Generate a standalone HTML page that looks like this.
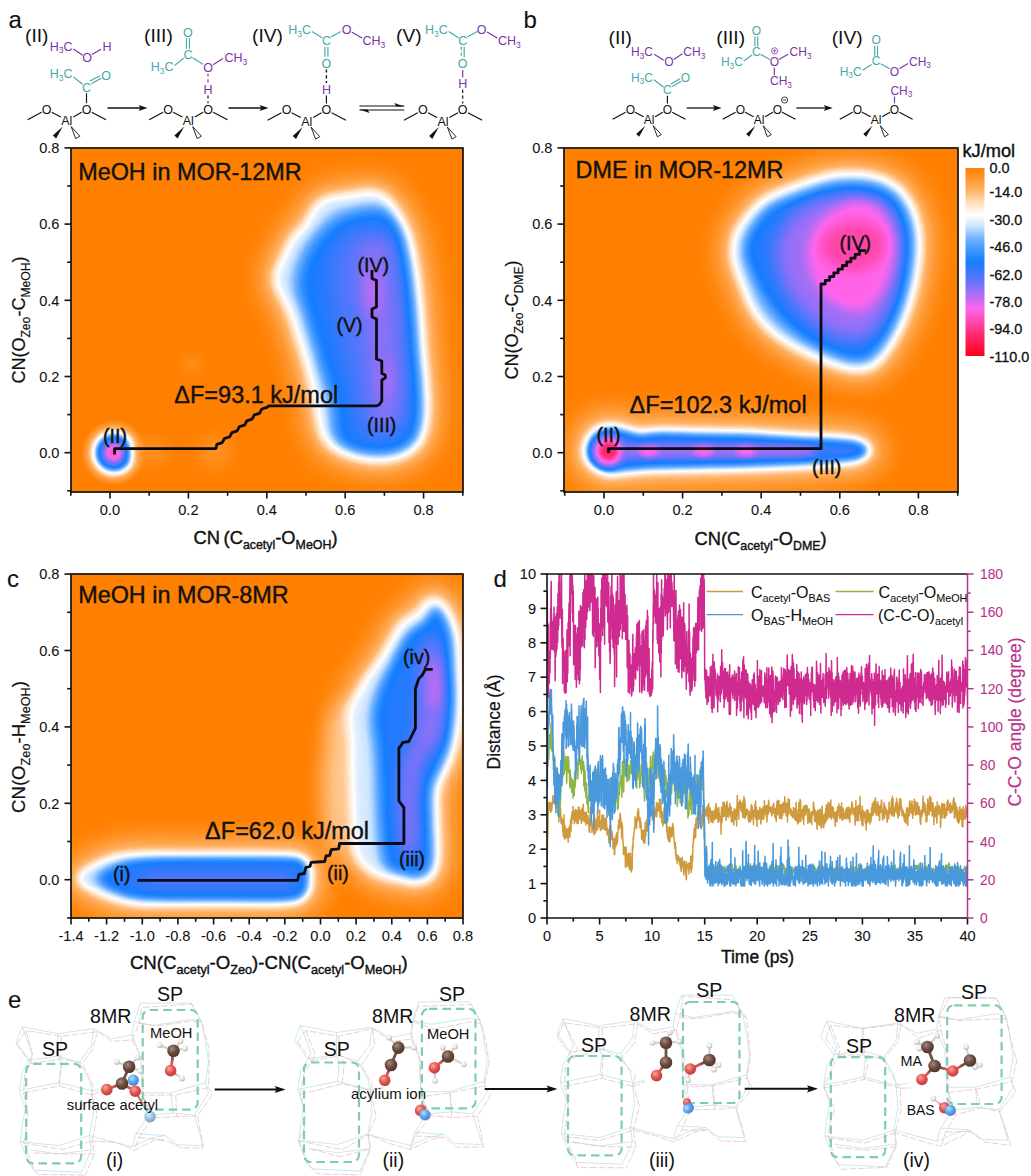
<!DOCTYPE html>
<html><head><meta charset="utf-8"><title>figure</title>
<style>
html,body{margin:0;padding:0;background:#fff;}
svg{display:block;}
text{font-family:"Liberation Sans",sans-serif;}
</style></head><body>
<svg width="1031" height="1176" viewBox="0 0 1031 1176">
<rect width="1031" height="1176" fill="#fff"/>
<defs>
<filter id="b2" x="-100%" y="-150%" width="300%" height="400%" color-interpolation-filters="sRGB"><feGaussianBlur stdDeviation="2"/></filter>
<filter id="b3" x="-100%" y="-150%" width="300%" height="400%" color-interpolation-filters="sRGB"><feGaussianBlur stdDeviation="3"/></filter>
<filter id="b4" x="-100%" y="-150%" width="300%" height="400%" color-interpolation-filters="sRGB"><feGaussianBlur stdDeviation="4"/></filter>
<filter id="b5" x="-100%" y="-150%" width="300%" height="400%" color-interpolation-filters="sRGB"><feGaussianBlur stdDeviation="5"/></filter>
<filter id="b6" x="-100%" y="-150%" width="300%" height="400%" color-interpolation-filters="sRGB"><feGaussianBlur stdDeviation="6"/></filter>
<filter id="b7" x="-100%" y="-150%" width="300%" height="400%" color-interpolation-filters="sRGB"><feGaussianBlur stdDeviation="7"/></filter>
<filter id="b8" x="-100%" y="-150%" width="300%" height="400%" color-interpolation-filters="sRGB"><feGaussianBlur stdDeviation="8"/></filter>
<filter id="b9" x="-100%" y="-150%" width="300%" height="400%" color-interpolation-filters="sRGB"><feGaussianBlur stdDeviation="9"/></filter>
<filter id="b10" x="-100%" y="-150%" width="300%" height="400%" color-interpolation-filters="sRGB"><feGaussianBlur stdDeviation="10"/></filter>
<filter id="b12" x="-100%" y="-150%" width="300%" height="400%" color-interpolation-filters="sRGB"><feGaussianBlur stdDeviation="12"/></filter>
<filter id="b14" x="-100%" y="-150%" width="300%" height="400%" color-interpolation-filters="sRGB"><feGaussianBlur stdDeviation="14"/></filter>
<filter id="b18" x="-100%" y="-150%" width="300%" height="400%" color-interpolation-filters="sRGB"><feGaussianBlur stdDeviation="18"/></filter>
<filter id="cmap" x="0" y="0" width="100%" height="100%" color-interpolation-filters="sRGB">
<feComponentTransfer>
<feFuncR type="table" tableValues="1.000 1.000 1.000 1.000 1.000 0.784 0.451 0.243 0.078 0.275 0.471 0.737 1.000 1.000 1.000 1.000 1.000"/>
<feFuncG type="table" tableValues="0.502 0.604 0.706 0.886 1.000 0.886 0.706 0.588 0.490 0.471 0.451 0.424 0.400 0.290 0.180 0.090 0.000"/>
<feFuncB type="table" tableValues="0.000 0.204 0.412 0.765 1.000 1.000 1.000 1.000 1.000 0.988 0.980 0.957 0.929 0.698 0.471 0.294 0.118"/>
</feComponentTransfer></filter>
<radialGradient id="rgA2"><stop offset="0" stop-color="rgb(204,204,204)"/><stop offset="0.15" stop-color="rgb(196,196,196)"/><stop offset="0.45" stop-color="rgb(128,128,128)"/><stop offset="0.62" stop-color="rgb(64,64,64)"/><stop offset="0.80" stop-color="rgb(23,23,23)"/><stop offset="1" stop-color="#000"/></radialGradient>
<radialGradient id="rgB2"><stop offset="0" stop-color="rgb(237,237,237)"/><stop offset="0.3" stop-color="rgb(222,222,222)"/><stop offset="0.58" stop-color="rgb(184,184,184)" stop-opacity="0.95"/><stop offset="1" stop-color="rgb(143,143,143)" stop-opacity="0"/></radialGradient>
<radialGradient id="gC" cx="0.38" cy="0.34" r="0.75"><stop offset="0" stop-color="#a38a7e"/><stop offset="0.5" stop-color="#6a4a3d"/><stop offset="1" stop-color="#46302a"/></radialGradient>
<radialGradient id="gO" cx="0.38" cy="0.34" r="0.75"><stop offset="0" stop-color="#f7a6a0"/><stop offset="0.5" stop-color="#e4524e"/><stop offset="1" stop-color="#b03a3a"/></radialGradient>
<radialGradient id="gH" cx="0.38" cy="0.34" r="0.75"><stop offset="0" stop-color="#ffffff"/><stop offset="0.5" stop-color="#e6e6e6"/><stop offset="1" stop-color="#a8a8a8"/></radialGradient>
<radialGradient id="gN" cx="0.38" cy="0.34" r="0.75"><stop offset="0" stop-color="#b5dcff"/><stop offset="0.5" stop-color="#58a4ea"/><stop offset="1" stop-color="#3b7fc4"/></radialGradient>
<radialGradient id="gL" cx="0.38" cy="0.34" r="0.75"><stop offset="0" stop-color="#d7e9f5"/><stop offset="0.5" stop-color="#9cc3de"/><stop offset="1" stop-color="#7499b5"/></radialGradient>
</defs>
<clipPath id="clipA"><rect x="71" y="148" width="392" height="344"/></clipPath>
<g clip-path="url(#clipA)"><g filter="url(#cmap)">
<rect x="31" y="108" width="472" height="424" fill="#000"/>
<path d="M372,193C376.7,193.7 381.7,195.3 386,199C390.3,202.7 394.6,209.5 398,215C401.4,220.5 404.2,225.7 406.5,232C408.8,238.3 410.4,245.3 412,253C413.6,260.7 414.8,268.3 416,278C417.2,287.7 418.4,298.2 419.5,311C420.6,323.8 421.6,343.5 422.5,355C423.4,366.5 424.4,370.2 425,380C425.6,389.8 426.7,404.3 426,414C425.3,423.7 424.2,431.6 421,438C417.8,444.4 413.5,449 407,452.5C400.5,456 391.2,458.6 382,459C372.8,459.4 360.8,457.7 352,455C343.2,452.3 334.2,447.8 329,443C323.8,438.2 323,432.8 321,426C319,419.2 319.3,412.8 317,402C314.7,391.2 309.5,370.5 307,361C304.5,351.5 303.6,349.8 302,345C300.4,340.2 299.2,337.3 297.5,332C295.8,326.7 294,319.2 291.5,313C289,306.8 285.2,300 282.7,295C280.2,290 277.5,286.8 276.6,283C275.7,279.2 275.9,277.2 277.5,272.5C279.1,267.8 283.4,260.5 286,255C288.6,249.5 290.3,243.6 293,239.5C295.7,235.4 299.1,233.8 302,230.5C304.9,227.2 308.2,223.8 310.5,220C312.8,216.2 313.4,211.3 316,208C318.6,204.7 321.7,201.8 326,200C330.3,198.2 336.7,198.3 342,197.5C347.3,196.7 353,195.8 358,195C363,194.2 367.3,192.3 372,193Z" fill="rgb(38,38,38)" stroke="rgb(38,38,38)" stroke-width="30" stroke-linejoin="round" filter="url(#b12)"/>
<path d="M372,193C376.7,193.7 381.7,195.3 386,199C390.3,202.7 394.6,209.5 398,215C401.4,220.5 404.2,225.7 406.5,232C408.8,238.3 410.4,245.3 412,253C413.6,260.7 414.8,268.3 416,278C417.2,287.7 418.4,298.2 419.5,311C420.6,323.8 421.6,343.5 422.5,355C423.4,366.5 424.4,370.2 425,380C425.6,389.8 426.7,404.3 426,414C425.3,423.7 424.2,431.6 421,438C417.8,444.4 413.5,449 407,452.5C400.5,456 391.2,458.6 382,459C372.8,459.4 360.8,457.7 352,455C343.2,452.3 334.2,447.8 329,443C323.8,438.2 323,432.8 321,426C319,419.2 319.3,412.8 317,402C314.7,391.2 309.5,370.5 307,361C304.5,351.5 303.6,349.8 302,345C300.4,340.2 299.2,337.3 297.5,332C295.8,326.7 294,319.2 291.5,313C289,306.8 285.2,300 282.7,295C280.2,290 277.5,286.8 276.6,283C275.7,279.2 275.9,277.2 277.5,272.5C279.1,267.8 283.4,260.5 286,255C288.6,249.5 290.3,243.6 293,239.5C295.7,235.4 299.1,233.8 302,230.5C304.9,227.2 308.2,223.8 310.5,220C312.8,216.2 313.4,211.3 316,208C318.6,204.7 321.7,201.8 326,200C330.3,198.2 336.7,198.3 342,197.5C347.3,196.7 353,195.8 358,195C363,194.2 367.3,192.3 372,193Z" fill="rgb(76,76,76)" stroke="rgb(76,76,76)" stroke-width="4" stroke-linejoin="round" filter="url(#b7)"/>
<mask id="mk1" maskUnits="userSpaceOnUse" x="240" y="150" width="230" height="350"><path d="M372,193C376.7,193.7 381.7,195.3 386,199C390.3,202.7 394.6,209.5 398,215C401.4,220.5 404.2,225.7 406.5,232C408.8,238.3 410.4,245.3 412,253C413.6,260.7 414.8,268.3 416,278C417.2,287.7 418.4,298.2 419.5,311C420.6,323.8 421.6,343.5 422.5,355C423.4,366.5 424.4,370.2 425,380C425.6,389.8 426.7,404.3 426,414C425.3,423.7 424.2,431.6 421,438C417.8,444.4 413.5,449 407,452.5C400.5,456 391.2,458.6 382,459C372.8,459.4 360.8,457.7 352,455C343.2,452.3 334.2,447.8 329,443C323.8,438.2 323,432.8 321,426C319,419.2 319.3,412.8 317,402C314.7,391.2 309.5,370.5 307,361C304.5,351.5 303.6,349.8 302,345C300.4,340.2 299.2,337.3 297.5,332C295.8,326.7 294,319.2 291.5,313C289,306.8 285.2,300 282.7,295C280.2,290 277.5,286.8 276.6,283C275.7,279.2 275.9,277.2 277.5,272.5C279.1,267.8 283.4,260.5 286,255C288.6,249.5 290.3,243.6 293,239.5C295.7,235.4 299.1,233.8 302,230.5C304.9,227.2 308.2,223.8 310.5,220C312.8,216.2 313.4,211.3 316,208C318.6,204.7 321.7,201.8 326,200C330.3,198.2 336.7,198.3 342,197.5C347.3,196.7 353,195.8 358,195C363,194.2 367.3,192.3 372,193Z" fill="#fff" stroke="#000" stroke-width="11" filter="url(#b6)"/></mask>
<g mask="url(#mk1)"><rect x="240" y="150" width="230" height="350" fill="rgb(76,76,76)"/>
<path d="M372,208C380.8,207.2 386.2,207.2 395,210C403.8,212.8 417.5,213.7 425,225C432.5,236.3 437.2,263.3 440,278C442.8,292.7 441,300.2 442,313C443,325.8 445,340.2 446,355C447,369.8 448.7,387 448,402C447.3,417 447.5,432.8 442,445C436.5,457.2 425,469.2 415,475C405,480.8 392.8,480.8 382,480C371.2,479.2 358,475.8 350,470C342,464.2 337.2,456.3 334,445C330.8,433.7 333.3,414.5 331,402C328.7,389.5 323.2,380.2 320,370C316.8,359.8 314.7,350.5 312,341C309.3,331.5 306.5,321.8 304,313C301.5,304.2 297.8,295 297,288C296.2,281 297.3,277.3 299,271C300.7,264.7 303.5,256.5 307,250C310.5,243.5 314.2,237.8 320,232C325.8,226.2 333.3,219 342,215C350.7,211 363.2,208.8 372,208Z" fill="rgb(133,133,133)" filter="url(#b9)" />
<path d="M355,232C364.3,228.8 384.2,228 392,236C399.8,244 399.7,262.7 402,280C404.3,297.3 405,320 406,340C407,360 409,385 408,400C407,415 404.7,423.7 400,430C395.3,436.3 386.3,438.8 380,438C373.7,437.2 366.7,434.7 362,425C357.3,415.3 355.3,395.8 352,380C348.7,364.2 345,345 342,330C339,315 335,302.5 334,290C333,277.5 332.5,264.7 336,255C339.5,245.3 345.7,235.2 355,232Z" fill="rgb(149,149,149)" filter="url(#b9)" />
<path d="M364,245C368.7,240.8 381,237.5 386,245C391,252.5 392,272.5 394,290C396,307.5 397.3,330 398,350C398.7,370 400.3,397.5 398,410C395.7,422.5 388.3,425 384,425C379.7,425 374.7,420.8 372,410C369.3,399.2 369.7,376.7 368,360C366.3,343.3 363.7,325 362,310C360.3,295 357.7,280.8 358,270C358.3,259.2 359.3,249.2 364,245Z" fill="rgb(163,163,163)" filter="url(#b7)" />
<ellipse cx="372" cy="292" rx="7" ry="26" fill="rgb(178,178,178)" filter="url(#b7)"/>
<ellipse cx="386" cy="378" rx="6" ry="20" fill="rgb(173,173,173)" filter="url(#b7)"/>
</g>
<circle cx="114" cy="452.7" r="33" fill="url(#rgA2)"/>
<ellipse cx="150" cy="452" rx="18" ry="10" fill="rgb(13,13,13)" filter="url(#b8)"/>
<ellipse cx="215" cy="452" rx="16" ry="14" fill="rgb(13,13,13)" filter="url(#b8)"/>
<ellipse cx="192" cy="365" rx="10" ry="8" fill="rgb(10,10,10)" filter="url(#b6)"/>
</g></g>
<rect x="71" y="148" width="392" height="344" fill="none" stroke="#111" stroke-width="1.7"/>
<line x1="110" y1="492" x2="110" y2="498.5" stroke="#111" stroke-width="1.6" />
<line x1="188.4" y1="492" x2="188.4" y2="498.5" stroke="#111" stroke-width="1.6" />
<line x1="266.8" y1="492" x2="266.8" y2="498.5" stroke="#111" stroke-width="1.6" />
<line x1="345.2" y1="492" x2="345.2" y2="498.5" stroke="#111" stroke-width="1.6" />
<line x1="423.6" y1="492" x2="423.6" y2="498.5" stroke="#111" stroke-width="1.6" />
<line x1="70.8" y1="492" x2="70.8" y2="495.8" stroke="#111" stroke-width="1.6" />
<line x1="149.2" y1="492" x2="149.2" y2="495.8" stroke="#111" stroke-width="1.6" />
<line x1="227.6" y1="492" x2="227.6" y2="495.8" stroke="#111" stroke-width="1.6" />
<line x1="306" y1="492" x2="306" y2="495.8" stroke="#111" stroke-width="1.6" />
<line x1="384.4" y1="492" x2="384.4" y2="495.8" stroke="#111" stroke-width="1.6" />
<line x1="462.8" y1="492" x2="462.8" y2="495.8" stroke="#111" stroke-width="1.6" />
<line x1="71" y1="452.7" x2="64.5" y2="452.7" stroke="#111" stroke-width="1.6" />
<line x1="71" y1="376.5" x2="64.5" y2="376.5" stroke="#111" stroke-width="1.6" />
<line x1="71" y1="300.3" x2="64.5" y2="300.3" stroke="#111" stroke-width="1.6" />
<line x1="71" y1="224.1" x2="64.5" y2="224.1" stroke="#111" stroke-width="1.6" />
<line x1="71" y1="147.9" x2="64.5" y2="147.9" stroke="#111" stroke-width="1.6" />
<line x1="71" y1="490.8" x2="67.2" y2="490.8" stroke="#111" stroke-width="1.6" />
<line x1="71" y1="414.6" x2="67.2" y2="414.6" stroke="#111" stroke-width="1.6" />
<line x1="71" y1="338.4" x2="67.2" y2="338.4" stroke="#111" stroke-width="1.6" />
<line x1="71" y1="262.2" x2="67.2" y2="262.2" stroke="#111" stroke-width="1.6" />
<line x1="71" y1="186" x2="67.2" y2="186" stroke="#111" stroke-width="1.6" />
<text x="110" y="515.4" font-size="14.6" text-anchor="middle" fill="#111" stroke="#111" stroke-width="0.08" >0.0</text>
<text x="188.4" y="515.4" font-size="14.6" text-anchor="middle" fill="#111" stroke="#111" stroke-width="0.08" >0.2</text>
<text x="266.8" y="515.4" font-size="14.6" text-anchor="middle" fill="#111" stroke="#111" stroke-width="0.08" >0.4</text>
<text x="345.2" y="515.4" font-size="14.6" text-anchor="middle" fill="#111" stroke="#111" stroke-width="0.08" >0.6</text>
<text x="423.6" y="515.4" font-size="14.6" text-anchor="middle" fill="#111" stroke="#111" stroke-width="0.08" >0.8</text>
<text x="59.5" y="457.9" font-size="14.6" text-anchor="end" fill="#111" stroke="#111" stroke-width="0.08" >0.0</text>
<text x="59.5" y="381.7" font-size="14.6" text-anchor="end" fill="#111" stroke="#111" stroke-width="0.08" >0.2</text>
<text x="59.5" y="305.5" font-size="14.6" text-anchor="end" fill="#111" stroke="#111" stroke-width="0.08" >0.4</text>
<text x="59.5" y="229.3" font-size="14.6" text-anchor="end" fill="#111" stroke="#111" stroke-width="0.08" >0.6</text>
<text x="59.5" y="153.1" font-size="14.6" text-anchor="end" fill="#111" stroke="#111" stroke-width="0.08" >0.8</text>
<clipPath id="clipB"><rect x="564" y="148" width="394" height="344"/></clipPath>
<g clip-path="url(#clipB)"><g filter="url(#cmap)">
<rect x="524" y="108" width="474" height="424" fill="#000"/>
<path d="M851,175C858.6,175.2 868.5,175.5 876.5,178C884.5,180.5 893.1,184.6 899,190C904.9,195.4 908.8,202.8 912,210.5C915.2,218.2 917.2,227.2 918,236C918.8,244.8 918,254.3 917,263.5C916,272.7 914.5,281.3 912,291C909.5,300.7 906.2,311.8 902,321.5C897.8,331.2 892.1,341.6 887,349C881.9,356.4 877.5,362.8 871.5,366C865.5,369.2 857.8,368.7 851,368C844.2,367.3 836,363.7 831,362C826,360.3 826.3,360.3 821,358C815.7,355.7 807,352.5 799,348C791,343.5 780.3,337.3 773,331C765.7,324.7 759.3,316.5 755,310C750.7,303.5 749.7,298.5 747,292C744.3,285.5 741.1,277 739,271C736.9,265 734.8,261.9 734.5,256C734.2,250.1 734.8,242.1 737,235.8C739.2,229.5 743.1,224 747.9,218.1C752.7,212.2 758.9,205 765.6,200.4C772.3,195.8 780.3,193.6 788.3,190.4C796.3,187.2 806.4,183.8 813.5,181.5C820.6,179.2 824.8,177.6 831,176.5C837.2,175.4 843.4,174.8 851,175Z" fill="rgb(38,38,38)" stroke="rgb(38,38,38)" stroke-width="30" stroke-linejoin="round" filter="url(#b12)"/>
<path d="M851,175C858.6,175.2 868.5,175.5 876.5,178C884.5,180.5 893.1,184.6 899,190C904.9,195.4 908.8,202.8 912,210.5C915.2,218.2 917.2,227.2 918,236C918.8,244.8 918,254.3 917,263.5C916,272.7 914.5,281.3 912,291C909.5,300.7 906.2,311.8 902,321.5C897.8,331.2 892.1,341.6 887,349C881.9,356.4 877.5,362.8 871.5,366C865.5,369.2 857.8,368.7 851,368C844.2,367.3 836,363.7 831,362C826,360.3 826.3,360.3 821,358C815.7,355.7 807,352.5 799,348C791,343.5 780.3,337.3 773,331C765.7,324.7 759.3,316.5 755,310C750.7,303.5 749.7,298.5 747,292C744.3,285.5 741.1,277 739,271C736.9,265 734.8,261.9 734.5,256C734.2,250.1 734.8,242.1 737,235.8C739.2,229.5 743.1,224 747.9,218.1C752.7,212.2 758.9,205 765.6,200.4C772.3,195.8 780.3,193.6 788.3,190.4C796.3,187.2 806.4,183.8 813.5,181.5C820.6,179.2 824.8,177.6 831,176.5C837.2,175.4 843.4,174.8 851,175Z" fill="rgb(76,76,76)" stroke="rgb(76,76,76)" stroke-width="4" stroke-linejoin="round" filter="url(#b7)"/>
<mask id="mk2" maskUnits="userSpaceOnUse" x="700" y="150" width="260" height="250"><path d="M851,175C858.6,175.2 868.5,175.5 876.5,178C884.5,180.5 893.1,184.6 899,190C904.9,195.4 908.8,202.8 912,210.5C915.2,218.2 917.2,227.2 918,236C918.8,244.8 918,254.3 917,263.5C916,272.7 914.5,281.3 912,291C909.5,300.7 906.2,311.8 902,321.5C897.8,331.2 892.1,341.6 887,349C881.9,356.4 877.5,362.8 871.5,366C865.5,369.2 857.8,368.7 851,368C844.2,367.3 836,363.7 831,362C826,360.3 826.3,360.3 821,358C815.7,355.7 807,352.5 799,348C791,343.5 780.3,337.3 773,331C765.7,324.7 759.3,316.5 755,310C750.7,303.5 749.7,298.5 747,292C744.3,285.5 741.1,277 739,271C736.9,265 734.8,261.9 734.5,256C734.2,250.1 734.8,242.1 737,235.8C739.2,229.5 743.1,224 747.9,218.1C752.7,212.2 758.9,205 765.6,200.4C772.3,195.8 780.3,193.6 788.3,190.4C796.3,187.2 806.4,183.8 813.5,181.5C820.6,179.2 824.8,177.6 831,176.5C837.2,175.4 843.4,174.8 851,175Z" fill="#fff" stroke="#000" stroke-width="12" filter="url(#b7)"/></mask>
<g mask="url(#mk2)"><rect x="700" y="150" width="260" height="250" fill="rgb(102,102,102)"/>
<path d="M856,178C867.5,178.3 879.3,178 890,185C900.7,192 914.7,206.9 920,220C925.3,233.1 923.7,248.5 922,263.5C920.3,278.5 916.2,295.2 910,310C903.8,324.8 894.8,343 885,352C875.2,361 861.7,364 851,364C840.3,364 829.3,356.3 821,352C812.7,347.7 807.7,343.7 801,338C794.3,332.3 787.2,325.2 781,318C774.8,310.8 769.2,303.2 764,295C758.8,286.8 753.2,275.8 750,268.5C746.8,261.2 745,257.3 745,251C745,244.7 746.6,237.9 750,230.7C753.4,223.5 759.3,213.9 765.6,208C771.9,202.1 778.8,199.2 788,195C797.2,190.8 809.7,185.8 821,183C832.3,180.2 844.5,177.7 856,178Z" fill="rgb(133,133,133)" filter="url(#b6)" />
<path d="M851,195C863.5,195 876.5,196.3 885,203C893.5,209.7 899.5,223 902,235C904.5,247 902.3,262.2 900,275C897.7,287.8 894,301.5 888,312C882,322.5 873.3,334.3 864,338C854.7,341.7 842,338 832,334C822,330 812,322.2 804,314C796,305.8 788.7,295.3 784,285C779.3,274.7 775.7,262.2 776,252C776.3,241.8 780.3,232.2 786,224C791.7,215.8 799.2,207.8 810,203C820.8,198.2 838.5,195 851,195Z" fill="rgb(168,168,168)" filter="url(#b8)" />
<path d="M856,201C864,200.7 873.8,203.3 880,209C886.2,214.7 891,225.7 893,235C895,244.3 894.2,255 892,265C889.8,275 885.3,287.3 880,295C874.7,302.7 867.5,309.5 860,311C852.5,312.5 842.3,308.3 835,304C827.7,299.7 820.7,293.2 816,285C811.3,276.8 807.2,264.5 807,255C806.8,245.5 810.8,235.3 815,228C819.2,220.7 825.2,215.5 832,211C838.8,206.5 848,201.3 856,201Z" fill="rgb(193,193,193)" filter="url(#b6)" />
<path d="M848,222C854.7,220.7 862,221.7 868,224C874,226.3 881.7,230.7 884,236C886.3,241.3 884.3,251 882,256C879.7,261 874.3,263.3 870,266C865.7,268.7 860.7,271.7 856,272C851.3,272.3 846.3,269.7 842,268C837.7,266.3 833.7,265.7 830,262C826.3,258.3 820.3,251 820,246C819.7,241 823.3,236 828,232C832.7,228 841.3,223.3 848,222Z" fill="rgb(209,209,209)" filter="url(#b6)" />
</g>
<path d="M585,450C585.3,445.7 587.5,439.7 590,436C592.5,432.3 596.3,429.7 600,428C603.7,426.3 607.8,425.8 612,426C616.2,426.2 620.3,427.8 625,429C629.7,430.2 634.2,432.7 640,433C645.8,433.3 650,431.2 660,431C670,430.8 685,431.7 700,432C715,432.3 733.3,432.3 750,433C766.7,433.7 785,435.2 800,436C815,436.8 830,437.2 840,438C850,438.8 855,439 860,441C865,443 870,446.8 870,450C870,453.2 865,457.8 860,460C855,462.2 850,462 840,463C830,464 815,465.2 800,466C785,466.8 766.7,467.5 750,468C733.3,468.5 716.7,468.7 700,469C683.3,469.3 662.5,469.5 650,470C637.5,470.5 631.7,471.3 625,472C618.3,472.7 614.5,474.3 610,474C605.5,473.7 601.7,472 598,470C594.3,468 590.2,465.3 588,462C585.8,458.7 584.7,454.3 585,450Z" fill="rgb(38,38,38)" stroke="rgb(38,38,38)" stroke-width="30" stroke-linejoin="round" filter="url(#b12)"/>
<path d="M585,450C585.3,445.7 587.5,439.7 590,436C592.5,432.3 596.3,429.7 600,428C603.7,426.3 607.8,425.8 612,426C616.2,426.2 620.3,427.8 625,429C629.7,430.2 634.2,432.7 640,433C645.8,433.3 650,431.2 660,431C670,430.8 685,431.7 700,432C715,432.3 733.3,432.3 750,433C766.7,433.7 785,435.2 800,436C815,436.8 830,437.2 840,438C850,438.8 855,439 860,441C865,443 870,446.8 870,450C870,453.2 865,457.8 860,460C855,462.2 850,462 840,463C830,464 815,465.2 800,466C785,466.8 766.7,467.5 750,468C733.3,468.5 716.7,468.7 700,469C683.3,469.3 662.5,469.5 650,470C637.5,470.5 631.7,471.3 625,472C618.3,472.7 614.5,474.3 610,474C605.5,473.7 601.7,472 598,470C594.3,468 590.2,465.3 588,462C585.8,458.7 584.7,454.3 585,450Z" fill="rgb(76,76,76)" stroke="rgb(76,76,76)" stroke-width="4" stroke-linejoin="round" filter="url(#b6)"/>
<mask id="mk3" maskUnits="userSpaceOnUse" x="565" y="410" width="335" height="82"><path d="M585,450C585.3,445.7 587.5,439.7 590,436C592.5,432.3 596.3,429.7 600,428C603.7,426.3 607.8,425.8 612,426C616.2,426.2 620.3,427.8 625,429C629.7,430.2 634.2,432.7 640,433C645.8,433.3 650,431.2 660,431C670,430.8 685,431.7 700,432C715,432.3 733.3,432.3 750,433C766.7,433.7 785,435.2 800,436C815,436.8 830,437.2 840,438C850,438.8 855,439 860,441C865,443 870,446.8 870,450C870,453.2 865,457.8 860,460C855,462.2 850,462 840,463C830,464 815,465.2 800,466C785,466.8 766.7,467.5 750,468C733.3,468.5 716.7,468.7 700,469C683.3,469.3 662.5,469.5 650,470C637.5,470.5 631.7,471.3 625,472C618.3,472.7 614.5,474.3 610,474C605.5,473.7 601.7,472 598,470C594.3,468 590.2,465.3 588,462C585.8,458.7 584.7,454.3 585,450Z" fill="#fff" stroke="#000" stroke-width="6" filter="url(#b4)"/></mask>
<g mask="url(#mk3)"><rect x="565" y="410" width="335" height="82" fill="rgb(140,140,140)"/>
<rect x="600" y="444.5" width="215" height="13" rx="6.5" fill="rgb(168,168,168)" filter="url(#b3)"/>
<ellipse cx="649" cy="451" rx="10" ry="4.5" fill="rgb(199,199,199)" filter="url(#b3)"/>
<ellipse cx="703.5" cy="451" rx="10" ry="4.5" fill="rgb(199,199,199)" filter="url(#b3)"/>
<ellipse cx="746" cy="451" rx="10" ry="4.5" fill="rgb(199,199,199)" filter="url(#b3)"/>
</g>
<circle cx="608.5" cy="451" r="22" fill="url(#rgB2)"/>
</g></g>
<rect x="564" y="148" width="394" height="344" fill="none" stroke="#111" stroke-width="1.7"/>
<line x1="604" y1="492" x2="604" y2="498.5" stroke="#111" stroke-width="1.6" />
<line x1="682.6" y1="492" x2="682.6" y2="498.5" stroke="#111" stroke-width="1.6" />
<line x1="761.2" y1="492" x2="761.2" y2="498.5" stroke="#111" stroke-width="1.6" />
<line x1="839.8" y1="492" x2="839.8" y2="498.5" stroke="#111" stroke-width="1.6" />
<line x1="918.4" y1="492" x2="918.4" y2="498.5" stroke="#111" stroke-width="1.6" />
<line x1="564.7" y1="492" x2="564.7" y2="495.8" stroke="#111" stroke-width="1.6" />
<line x1="643.3" y1="492" x2="643.3" y2="495.8" stroke="#111" stroke-width="1.6" />
<line x1="721.9" y1="492" x2="721.9" y2="495.8" stroke="#111" stroke-width="1.6" />
<line x1="800.5" y1="492" x2="800.5" y2="495.8" stroke="#111" stroke-width="1.6" />
<line x1="879.1" y1="492" x2="879.1" y2="495.8" stroke="#111" stroke-width="1.6" />
<line x1="957.7" y1="492" x2="957.7" y2="495.8" stroke="#111" stroke-width="1.6" />
<line x1="564" y1="452.7" x2="557.5" y2="452.7" stroke="#111" stroke-width="1.6" />
<line x1="564" y1="376.5" x2="557.5" y2="376.5" stroke="#111" stroke-width="1.6" />
<line x1="564" y1="300.3" x2="557.5" y2="300.3" stroke="#111" stroke-width="1.6" />
<line x1="564" y1="224.1" x2="557.5" y2="224.1" stroke="#111" stroke-width="1.6" />
<line x1="564" y1="147.9" x2="557.5" y2="147.9" stroke="#111" stroke-width="1.6" />
<line x1="564" y1="490.8" x2="560.2" y2="490.8" stroke="#111" stroke-width="1.6" />
<line x1="564" y1="414.6" x2="560.2" y2="414.6" stroke="#111" stroke-width="1.6" />
<line x1="564" y1="338.4" x2="560.2" y2="338.4" stroke="#111" stroke-width="1.6" />
<line x1="564" y1="262.2" x2="560.2" y2="262.2" stroke="#111" stroke-width="1.6" />
<line x1="564" y1="186" x2="560.2" y2="186" stroke="#111" stroke-width="1.6" />
<text x="604" y="515.4" font-size="14.6" text-anchor="middle" fill="#111" stroke="#111" stroke-width="0.08" >0.0</text>
<text x="682.6" y="515.4" font-size="14.6" text-anchor="middle" fill="#111" stroke="#111" stroke-width="0.08" >0.2</text>
<text x="761.2" y="515.4" font-size="14.6" text-anchor="middle" fill="#111" stroke="#111" stroke-width="0.08" >0.4</text>
<text x="839.8" y="515.4" font-size="14.6" text-anchor="middle" fill="#111" stroke="#111" stroke-width="0.08" >0.6</text>
<text x="918.4" y="515.4" font-size="14.6" text-anchor="middle" fill="#111" stroke="#111" stroke-width="0.08" >0.8</text>
<text x="552.5" y="457.9" font-size="14.6" text-anchor="end" fill="#111" stroke="#111" stroke-width="0.08" >0.0</text>
<text x="552.5" y="381.7" font-size="14.6" text-anchor="end" fill="#111" stroke="#111" stroke-width="0.08" >0.2</text>
<text x="552.5" y="305.5" font-size="14.6" text-anchor="end" fill="#111" stroke="#111" stroke-width="0.08" >0.4</text>
<text x="552.5" y="229.3" font-size="14.6" text-anchor="end" fill="#111" stroke="#111" stroke-width="0.08" >0.6</text>
<text x="552.5" y="153.1" font-size="14.6" text-anchor="end" fill="#111" stroke="#111" stroke-width="0.08" >0.8</text>
<clipPath id="clipC"><rect x="71" y="574" width="392" height="344"/></clipPath>
<g clip-path="url(#clipC)"><g filter="url(#cmap)">
<rect x="31" y="534" width="472" height="424" fill="#000"/>
<path d="M435,599C438.8,600.2 444.5,606.8 448,613C451.5,619.2 454.3,626.7 456,636C457.7,645.3 457.5,658 458,669C458.5,680 459.3,691 459,702C458.7,713 457.3,726.2 456,735C454.7,743.8 453.2,748.7 451,755C448.8,761.3 445.5,767.2 443,773C440.5,778.8 437.2,781.3 436,789.5C434.8,797.7 435.8,811.4 436,822.4C436.2,833.4 437.4,847.1 437,855.4C436.6,863.7 435.6,867.9 433.6,872C431.7,876.1 428.9,878.3 425.3,880C421.7,881.7 416.4,882.3 412,882C407.6,881.7 402.8,878.8 399,878C395.2,877.2 393.2,878 389,877C384.8,876 378.9,875 374,872C369.1,869 362.9,864.2 359.4,858.7C355.9,853.2 354.2,847.8 352.8,839C351.4,830.2 351.6,817 351,806C350.4,795 349.8,783.5 349.5,773C349.2,762.5 349.9,750.7 349.5,743C349.1,735.3 347.2,732 347,727C346.8,722 346.8,717.2 348,713C349.2,708.8 351.3,706.7 354,702C356.7,697.3 360.9,690 364,685C367.1,680 370,675.5 372.5,672C375,668.5 376.2,668.1 379,664C381.8,659.9 386,652.7 389,647.5C392,642.3 394.2,637.4 397,633C399.8,628.6 401.8,623.8 405.5,621C409.2,618.2 415.8,618.5 419,616C422.2,613.5 422.3,608.8 425,606C427.7,603.2 431.2,597.8 435,599Z" fill="rgb(38,38,38)" stroke="rgb(38,38,38)" stroke-width="30" stroke-linejoin="round" filter="url(#b12)"/>
<path d="M435,599C438.8,600.2 444.5,606.8 448,613C451.5,619.2 454.3,626.7 456,636C457.7,645.3 457.5,658 458,669C458.5,680 459.3,691 459,702C458.7,713 457.3,726.2 456,735C454.7,743.8 453.2,748.7 451,755C448.8,761.3 445.5,767.2 443,773C440.5,778.8 437.2,781.3 436,789.5C434.8,797.7 435.8,811.4 436,822.4C436.2,833.4 437.4,847.1 437,855.4C436.6,863.7 435.6,867.9 433.6,872C431.7,876.1 428.9,878.3 425.3,880C421.7,881.7 416.4,882.3 412,882C407.6,881.7 402.8,878.8 399,878C395.2,877.2 393.2,878 389,877C384.8,876 378.9,875 374,872C369.1,869 362.9,864.2 359.4,858.7C355.9,853.2 354.2,847.8 352.8,839C351.4,830.2 351.6,817 351,806C350.4,795 349.8,783.5 349.5,773C349.2,762.5 349.9,750.7 349.5,743C349.1,735.3 347.2,732 347,727C346.8,722 346.8,717.2 348,713C349.2,708.8 351.3,706.7 354,702C356.7,697.3 360.9,690 364,685C367.1,680 370,675.5 372.5,672C375,668.5 376.2,668.1 379,664C381.8,659.9 386,652.7 389,647.5C392,642.3 394.2,637.4 397,633C399.8,628.6 401.8,623.8 405.5,621C409.2,618.2 415.8,618.5 419,616C422.2,613.5 422.3,608.8 425,606C427.7,603.2 431.2,597.8 435,599Z" fill="rgb(76,76,76)" stroke="rgb(76,76,76)" stroke-width="4" stroke-linejoin="round" filter="url(#b7)"/>
<path d="M350,700 L330,720 L322,780 L326,840 L350,860 Z" fill="rgb(41,41,41)" filter="url(#b10)"/>
<mask id="mk4" maskUnits="userSpaceOnUse" x="300" y="575" width="170" height="343"><path d="M435,599C438.8,600.2 444.5,606.8 448,613C451.5,619.2 454.3,626.7 456,636C457.7,645.3 457.5,658 458,669C458.5,680 459.3,691 459,702C458.7,713 457.3,726.2 456,735C454.7,743.8 453.2,748.7 451,755C448.8,761.3 445.5,767.2 443,773C440.5,778.8 437.2,781.3 436,789.5C434.8,797.7 435.8,811.4 436,822.4C436.2,833.4 437.4,847.1 437,855.4C436.6,863.7 435.6,867.9 433.6,872C431.7,876.1 428.9,878.3 425.3,880C421.7,881.7 416.4,882.3 412,882C407.6,881.7 402.8,878.8 399,878C395.2,877.2 393.2,878 389,877C384.8,876 378.9,875 374,872C369.1,869 362.9,864.2 359.4,858.7C355.9,853.2 354.2,847.8 352.8,839C351.4,830.2 351.6,817 351,806C350.4,795 349.8,783.5 349.5,773C349.2,762.5 349.9,750.7 349.5,743C349.1,735.3 347.2,732 347,727C346.8,722 346.8,717.2 348,713C349.2,708.8 351.3,706.7 354,702C356.7,697.3 360.9,690 364,685C367.1,680 370,675.5 372.5,672C375,668.5 376.2,668.1 379,664C381.8,659.9 386,652.7 389,647.5C392,642.3 394.2,637.4 397,633C399.8,628.6 401.8,623.8 405.5,621C409.2,618.2 415.8,618.5 419,616C422.2,613.5 422.3,608.8 425,606C427.7,603.2 431.2,597.8 435,599Z" fill="#fff" stroke="#000" stroke-width="11" filter="url(#b6)"/></mask>
<g mask="url(#mk4)"><rect x="300" y="575" width="170" height="343" fill="rgb(76,76,76)"/>
<path d="M437,600C441.8,599.2 447.8,608.3 452,615C456.2,621.7 460,631 462,640C464,649 463.5,658.7 464,669C464.5,679.3 465.3,691 465,702C464.7,713 463.7,725.3 462,735C460.3,744.7 457.7,751.7 455,760C452.3,768.3 447.8,774.7 446,785C444.2,795.3 444.2,810.3 444,822C443.8,833.7 445.7,845.3 445,855C444.3,864.7 444.5,874.5 440,880C435.5,885.5 425,887.3 418,888C411,888.7 403.3,887.3 398,884C392.7,880.7 388.8,875.3 386,868C383.2,860.7 382.2,850.3 381,840C379.8,829.7 379.5,817.2 379,806C378.5,794.8 378.5,783.5 378,773C377.5,762.5 376.8,751.8 376,743C375.2,734.2 373,727.2 373,720C373,712.8 374.3,706.7 376,700C377.7,693.3 380.7,686 383,680C385.3,674 387.7,669.3 390,664C392.3,658.7 394,653.3 397,648C400,642.7 403.7,636.7 408,632C412.3,627.3 418.2,625.3 423,620C427.8,614.7 432.2,600.8 437,600Z" fill="rgb(133,133,133)" filter="url(#b7)" />
<path d="M432,640C435,641.2 439.7,646.7 442,655C444.3,663.3 445.5,678.3 446,690C446.5,701.7 446.3,715.8 445,725C443.7,734.2 441.5,739.2 438,745C434.5,750.8 427.3,752.5 424,760C420.7,767.5 419,778.3 418,790C417,801.7 418.3,820 418,830C417.7,840 418,845.8 416,850C414,854.2 408.7,858.3 406,855C403.3,851.7 401,840.8 400,830C399,819.2 399.3,801.7 400,790C400.7,778.3 401.7,769.2 404,760C406.3,750.8 411.7,745 414,735C416.3,725 417,711.2 418,700C419,688.8 419,676.7 420,668C421,659.3 422,652.7 424,648C426,643.3 429,638.8 432,640Z" fill="rgb(163,163,163)" filter="url(#b7)" />
<ellipse cx="434" cy="685" rx="6" ry="25" fill="rgb(178,178,178)" filter="url(#b6)"/>
</g>
<path d="M79,878.4C79,874.4 89,869.4 95,866C101,862.6 107.5,859.8 115,858C122.5,856.2 125.8,855.5 140,855C154.2,854.5 180,855 200,855C220,855 244.2,854.8 260,855C275.8,855.2 287.5,855.2 295,856C302.5,856.8 302.5,857.7 305,860C307.5,862.3 309.2,866.7 310,870C310.8,873.3 310.3,876.3 310,880C309.7,883.7 309.7,888.7 308,892C306.3,895.3 304.7,898.2 300,900C295.3,901.8 296.7,902.5 280,903C263.3,903.5 223.3,903 200,903C176.7,903 154.2,903.8 140,903C125.8,902.2 122.5,900.2 115,898C107.5,895.8 101,893.3 95,890C89,886.7 79,882.4 79,878.4Z" fill="rgb(38,38,38)" stroke="rgb(38,38,38)" stroke-width="30" stroke-linejoin="round" filter="url(#b12)"/>
<path d="M79,878.4C79,874.4 89,869.4 95,866C101,862.6 107.5,859.8 115,858C122.5,856.2 125.8,855.5 140,855C154.2,854.5 180,855 200,855C220,855 244.2,854.8 260,855C275.8,855.2 287.5,855.2 295,856C302.5,856.8 302.5,857.7 305,860C307.5,862.3 309.2,866.7 310,870C310.8,873.3 310.3,876.3 310,880C309.7,883.7 309.7,888.7 308,892C306.3,895.3 304.7,898.2 300,900C295.3,901.8 296.7,902.5 280,903C263.3,903.5 223.3,903 200,903C176.7,903 154.2,903.8 140,903C125.8,902.2 122.5,900.2 115,898C107.5,895.8 101,893.3 95,890C89,886.7 79,882.4 79,878.4Z" fill="rgb(76,76,76)" stroke="rgb(76,76,76)" stroke-width="4" stroke-linejoin="round" filter="url(#b6)"/>
<mask id="mk5" maskUnits="userSpaceOnUse" x="60" y="830" width="280" height="88"><path d="M79,878.4C79,874.4 89,869.4 95,866C101,862.6 107.5,859.8 115,858C122.5,856.2 125.8,855.5 140,855C154.2,854.5 180,855 200,855C220,855 244.2,854.8 260,855C275.8,855.2 287.5,855.2 295,856C302.5,856.8 302.5,857.7 305,860C307.5,862.3 309.2,866.7 310,870C310.8,873.3 310.3,876.3 310,880C309.7,883.7 309.7,888.7 308,892C306.3,895.3 304.7,898.2 300,900C295.3,901.8 296.7,902.5 280,903C263.3,903.5 223.3,903 200,903C176.7,903 154.2,903.8 140,903C125.8,902.2 122.5,900.2 115,898C107.5,895.8 101,893.3 95,890C89,886.7 79,882.4 79,878.4Z" fill="#fff" stroke="#000" stroke-width="6" filter="url(#b4)"/></mask>
<g mask="url(#mk5)"><rect x="60" y="830" width="280" height="88" fill="rgb(82,82,82)"/>
<path d="M98,879C98,874 109.3,868 118,864C126.7,860 136.3,857.3 150,855C163.7,852.7 181.7,850.8 200,850C218.3,849.2 243.3,850 260,850C276.7,850 290.8,848.3 300,850C309.2,851.7 312.3,855.2 315,860C317.7,864.8 316,873.2 316,879C316,884.8 317.7,890.2 315,895C312.3,899.8 309.2,905.8 300,908C290.8,910.2 276.7,908 260,908C243.3,908 218.3,908.8 200,908C181.7,907.2 163.7,905.3 150,903C136.3,900.7 126.7,898 118,894C109.3,890 98,884 98,879Z" fill="rgb(135,135,135)" filter="url(#b6)" />
<rect x="145" y="874" width="145" height="10" rx="5" fill="rgb(150,150,150)" filter="url(#b5)"/>
</g>
</g></g>
<rect x="71" y="574" width="392" height="344" fill="none" stroke="#111" stroke-width="1.7"/>
<line x1="71" y1="918" x2="71" y2="924.5" stroke="#111" stroke-width="1.6" />
<line x1="106.6" y1="918" x2="106.6" y2="924.5" stroke="#111" stroke-width="1.6" />
<line x1="142.3" y1="918" x2="142.3" y2="924.5" stroke="#111" stroke-width="1.6" />
<line x1="177.9" y1="918" x2="177.9" y2="924.5" stroke="#111" stroke-width="1.6" />
<line x1="213.6" y1="918" x2="213.6" y2="924.5" stroke="#111" stroke-width="1.6" />
<line x1="249.2" y1="918" x2="249.2" y2="924.5" stroke="#111" stroke-width="1.6" />
<line x1="284.8" y1="918" x2="284.8" y2="924.5" stroke="#111" stroke-width="1.6" />
<line x1="320.5" y1="918" x2="320.5" y2="924.5" stroke="#111" stroke-width="1.6" />
<line x1="356.1" y1="918" x2="356.1" y2="924.5" stroke="#111" stroke-width="1.6" />
<line x1="391.8" y1="918" x2="391.8" y2="924.5" stroke="#111" stroke-width="1.6" />
<line x1="427.4" y1="918" x2="427.4" y2="924.5" stroke="#111" stroke-width="1.6" />
<line x1="463" y1="918" x2="463" y2="924.5" stroke="#111" stroke-width="1.6" />
<line x1="88.8" y1="918" x2="88.8" y2="921.8" stroke="#111" stroke-width="1.6" />
<line x1="124.5" y1="918" x2="124.5" y2="921.8" stroke="#111" stroke-width="1.6" />
<line x1="160.1" y1="918" x2="160.1" y2="921.8" stroke="#111" stroke-width="1.6" />
<line x1="195.7" y1="918" x2="195.7" y2="921.8" stroke="#111" stroke-width="1.6" />
<line x1="231.4" y1="918" x2="231.4" y2="921.8" stroke="#111" stroke-width="1.6" />
<line x1="267" y1="918" x2="267" y2="921.8" stroke="#111" stroke-width="1.6" />
<line x1="302.7" y1="918" x2="302.7" y2="921.8" stroke="#111" stroke-width="1.6" />
<line x1="338.3" y1="918" x2="338.3" y2="921.8" stroke="#111" stroke-width="1.6" />
<line x1="373.9" y1="918" x2="373.9" y2="921.8" stroke="#111" stroke-width="1.6" />
<line x1="409.6" y1="918" x2="409.6" y2="921.8" stroke="#111" stroke-width="1.6" />
<line x1="445.2" y1="918" x2="445.2" y2="921.8" stroke="#111" stroke-width="1.6" />
<line x1="71" y1="879.7" x2="64.5" y2="879.7" stroke="#111" stroke-width="1.6" />
<line x1="71" y1="803.3" x2="64.5" y2="803.3" stroke="#111" stroke-width="1.6" />
<line x1="71" y1="726.9" x2="64.5" y2="726.9" stroke="#111" stroke-width="1.6" />
<line x1="71" y1="650.5" x2="64.5" y2="650.5" stroke="#111" stroke-width="1.6" />
<line x1="71" y1="574.1" x2="64.5" y2="574.1" stroke="#111" stroke-width="1.6" />
<line x1="71" y1="917.9" x2="67.2" y2="917.9" stroke="#111" stroke-width="1.6" />
<line x1="71" y1="841.5" x2="67.2" y2="841.5" stroke="#111" stroke-width="1.6" />
<line x1="71" y1="765.1" x2="67.2" y2="765.1" stroke="#111" stroke-width="1.6" />
<line x1="71" y1="688.7" x2="67.2" y2="688.7" stroke="#111" stroke-width="1.6" />
<line x1="71" y1="612.3" x2="67.2" y2="612.3" stroke="#111" stroke-width="1.6" />
<text x="71" y="941.4" font-size="14.6" text-anchor="middle" fill="#111" stroke="#111" stroke-width="0.08" >-1.4</text>
<text x="106.6" y="941.4" font-size="14.6" text-anchor="middle" fill="#111" stroke="#111" stroke-width="0.08" >-1.2</text>
<text x="142.3" y="941.4" font-size="14.6" text-anchor="middle" fill="#111" stroke="#111" stroke-width="0.08" >-1.0</text>
<text x="177.9" y="941.4" font-size="14.6" text-anchor="middle" fill="#111" stroke="#111" stroke-width="0.08" >-0.8</text>
<text x="213.6" y="941.4" font-size="14.6" text-anchor="middle" fill="#111" stroke="#111" stroke-width="0.08" >-0.6</text>
<text x="249.2" y="941.4" font-size="14.6" text-anchor="middle" fill="#111" stroke="#111" stroke-width="0.08" >-0.4</text>
<text x="284.8" y="941.4" font-size="14.6" text-anchor="middle" fill="#111" stroke="#111" stroke-width="0.08" >-0.2</text>
<text x="320.5" y="941.4" font-size="14.6" text-anchor="middle" fill="#111" stroke="#111" stroke-width="0.08" >0.0</text>
<text x="356.1" y="941.4" font-size="14.6" text-anchor="middle" fill="#111" stroke="#111" stroke-width="0.08" >0.2</text>
<text x="391.8" y="941.4" font-size="14.6" text-anchor="middle" fill="#111" stroke="#111" stroke-width="0.08" >0.4</text>
<text x="427.4" y="941.4" font-size="14.6" text-anchor="middle" fill="#111" stroke="#111" stroke-width="0.08" >0.6</text>
<text x="463" y="941.4" font-size="14.6" text-anchor="middle" fill="#111" stroke="#111" stroke-width="0.08" >0.8</text>
<text x="59.5" y="884.9" font-size="14.6" text-anchor="end" fill="#111" stroke="#111" stroke-width="0.08" >0.0</text>
<text x="59.5" y="808.5" font-size="14.6" text-anchor="end" fill="#111" stroke="#111" stroke-width="0.08" >0.2</text>
<text x="59.5" y="732.1" font-size="14.6" text-anchor="end" fill="#111" stroke="#111" stroke-width="0.08" >0.4</text>
<text x="59.5" y="655.7" font-size="14.6" text-anchor="end" fill="#111" stroke="#111" stroke-width="0.08" >0.6</text>
<text x="59.5" y="579.3" font-size="14.6" text-anchor="end" fill="#111" stroke="#111" stroke-width="0.08" >0.8</text>
<text x="78.2" y="180.3" font-size="23.4" text-anchor="start" fill="#111" stroke="#111" stroke-width="0.4" >MeOH in MOR-12MR</text>
<text x="357.5" y="271.5" font-size="19.6" text-anchor="start" fill="#111" stroke="#111" stroke-width="0.4" >(IV)</text>
<text x="336.5" y="332" font-size="19.6" text-anchor="start" fill="#111" stroke="#111" stroke-width="0.4" >(V)</text>
<text x="367" y="431.5" font-size="19.6" text-anchor="start" fill="#111" stroke="#111" stroke-width="0.4" >(III)</text>
<text x="103" y="442.5" font-size="19.6" text-anchor="start" fill="#111" stroke="#111" stroke-width="0.4" >(II)</text>
<text x="174.3" y="402.6" font-size="23.5" text-anchor="start" fill="#111" stroke="#111" stroke-width="0.4" >ΔF=93.1 kJ/mol</text>
<path d="M114.6,454.5L114.6,448.6L215.8,448.6L216.9,444.4L222.2,442.7L224.4,438.5L229.6,436.8L231.9,432.6L237.1,430.9L239.4,426.7L244.6,425.1L246.8,420.8L252.1,419.2L254.3,414.9L259.5,413.3L261.8,409L267,407.4L269,405.8L376,405.8L379,405L381.8,401L381.8,380L385.3,378L385.3,375L381.8,373.5L381.8,361L376.5,359L376.5,319L372,317L372,309L376.5,307L376.5,280.5L372,278.5L372,270" fill="none" stroke="#0a0a14" stroke-width="2.8" stroke-linejoin="round" stroke-linecap="butt"/>
<text x="265.5" y="544" font-size="18.3" text-anchor="middle" fill="#111" stroke="#111" stroke-width="0.4" >CN&#8201;(C<tspan font-size="12.4" dy="5">acetyl</tspan><tspan font-size="12.4" dy="-5">&#8203;</tspan>-O<tspan font-size="12.4" dy="5">MeOH</tspan><tspan font-size="12.4" dy="-5">&#8203;</tspan>)</text>
<text transform="translate(25,320) rotate(-90)" font-size="18" text-anchor="middle" fill="#111" stroke="#111" stroke-width="0.2">CN(O<tspan font-size="12.2" dy="5">Zeo</tspan><tspan font-size="12.2" dy="-5">&#8203;</tspan>-C<tspan font-size="12.2" dy="5">MeOH</tspan><tspan font-size="12.2" dy="-5">&#8203;</tspan>)</text>
<text x="575.5" y="178.4" font-size="23.4" text-anchor="start" fill="#111" stroke="#111" stroke-width="0.4" >DME in MOR-12MR</text>
<text x="839.5" y="250.3" font-size="19.6" text-anchor="start" fill="#111" stroke="#111" stroke-width="0.4" >(IV)</text>
<text x="596.5" y="442" font-size="19.6" text-anchor="start" fill="#111" stroke="#111" stroke-width="0.4" >(II)</text>
<text x="812" y="473.5" font-size="19.6" text-anchor="start" fill="#111" stroke="#111" stroke-width="0.4" >(III)</text>
<text x="629.6" y="413" font-size="23.5" text-anchor="start" fill="#111" stroke="#111" stroke-width="0.4" >ΔF=102.3 kJ/mol</text>
<path d="M608.5,453L608.5,448.7L821,448.7L821,284L825.3,284L825.3,280.3L829.6,280.3L829.6,276.6L833.8,276.6L833.8,272.9L838.1,272.9L838.1,269.2L842.4,269.2L842.4,265.5L846.7,265.5L846.7,261.8L850.9,261.8L850.9,258.1L855.2,258.1L855.2,254.4L859.5,254.4L859.5,250.7L866,250.7" fill="none" stroke="#0a0a14" stroke-width="2.8" stroke-linejoin="round" stroke-linecap="butt"/>
<text x="760.6" y="545" font-size="18.3" text-anchor="middle" fill="#111" stroke="#111" stroke-width="0.4" >CN(C<tspan font-size="12.4" dy="5">acetyl</tspan><tspan font-size="12.4" dy="-5">&#8203;</tspan>-O<tspan font-size="12.4" dy="5">DME</tspan><tspan font-size="12.4" dy="-5">&#8203;</tspan>)</text>
<text transform="translate(518,320) rotate(-90)" font-size="18" text-anchor="middle" fill="#111" stroke="#111" stroke-width="0.2">CN(O<tspan font-size="12.2" dy="5">Zeo</tspan><tspan font-size="12.2" dy="-5">&#8203;</tspan>-C<tspan font-size="12.2" dy="5">DME</tspan><tspan font-size="12.2" dy="-5">&#8203;</tspan>)</text>
<text x="78.2" y="603" font-size="23.4" text-anchor="start" fill="#111" stroke="#111" stroke-width="0.4" >MeOH in MOR-8MR</text>
<text x="403" y="664" font-size="19.6" text-anchor="start" fill="#111" stroke="#111" stroke-width="0.4" >(iv)</text>
<text x="399" y="865.5" font-size="19.6" text-anchor="start" fill="#111" stroke="#111" stroke-width="0.4" >(iii)</text>
<text x="327" y="880" font-size="19.6" text-anchor="start" fill="#111" stroke="#111" stroke-width="0.4" >(ii)</text>
<text x="113" y="881" font-size="19.6" text-anchor="start" fill="#111" stroke="#111" stroke-width="0.4" >(i)</text>
<text x="205.1" y="839" font-size="23.5" text-anchor="start" fill="#111" stroke="#111" stroke-width="0.4" >ΔF=62.0 kJ/mol</text>
<path d="M137.4,880.3L297.6,880.3L299,874.3L304.4,873.5L305.8,867.5L309.9,866.5L311.2,862.3L324.8,861.5L326,856L329.7,855.4L331.3,849.6L338.7,848.8L339.6,843.5L403.9,843.5L403.9,807.6L398.9,801L398.9,748L400.6,746L403,742.3L408.8,741.5L412,735L415.4,728.3L415.4,688.7L418.7,678.8L422,675.5L425.3,669.4L432.7,669.4" fill="none" stroke="#0a0a14" stroke-width="2.8" stroke-linejoin="round" stroke-linecap="butt"/>
<text x="268.8" y="969" font-size="18.6" text-anchor="middle" fill="#111" stroke="#111" stroke-width="0.4" >CN(C<tspan font-size="12.7" dy="5">acetyl</tspan><tspan font-size="12.7" dy="-5">&#8203;</tspan>-O<tspan font-size="12.7" dy="5">Zeo</tspan><tspan font-size="12.7" dy="-5">&#8203;</tspan>)-CN(C<tspan font-size="12.7" dy="5">acetyl</tspan><tspan font-size="12.7" dy="-5">&#8203;</tspan>-O<tspan font-size="12.7" dy="5">MeOH</tspan><tspan font-size="12.7" dy="-5">&#8203;</tspan>)</text>
<text transform="translate(25,747) rotate(-90)" font-size="18.6" text-anchor="middle" fill="#111" stroke="#111" stroke-width="0.2">CN(O<tspan font-size="12.7" dy="5">Zeo</tspan><tspan font-size="12.7" dy="-5">&#8203;</tspan>-H<tspan font-size="12.7" dy="5">MeOH</tspan><tspan font-size="12.7" dy="-5">&#8203;</tspan>)</text>
<linearGradient id="cbar" x1="0" y1="0" x2="0" y2="1"><stop offset="0.0000" stop-color="rgb(255,128,0)"/><stop offset="0.0625" stop-color="rgb(255,154,52)"/><stop offset="0.1250" stop-color="rgb(255,180,105)"/><stop offset="0.1875" stop-color="rgb(255,226,195)"/><stop offset="0.2500" stop-color="rgb(255,255,255)"/><stop offset="0.3125" stop-color="rgb(200,226,255)"/><stop offset="0.3750" stop-color="rgb(115,180,255)"/><stop offset="0.4375" stop-color="rgb(62,150,255)"/><stop offset="0.5000" stop-color="rgb(20,125,255)"/><stop offset="0.5625" stop-color="rgb(70,120,252)"/><stop offset="0.6250" stop-color="rgb(120,115,250)"/><stop offset="0.6875" stop-color="rgb(188,108,244)"/><stop offset="0.7500" stop-color="rgb(255,102,237)"/><stop offset="0.8125" stop-color="rgb(255,74,178)"/><stop offset="0.8750" stop-color="rgb(255,46,120)"/><stop offset="0.9375" stop-color="rgb(255,23,75)"/><stop offset="1.0000" stop-color="rgb(255,0,30)"/></linearGradient>
<rect x="965.5" y="168" width="19" height="188" fill="url(#cbar)"/>
<text x="962.5" y="156.5" font-size="18.2" text-anchor="start" fill="#111" stroke="#111" stroke-width="0.4" >kJ/mol</text>
<text x="989.5" y="173.1" font-size="14.4" text-anchor="start" fill="#111" stroke="#111" stroke-width="0.3" >0.0</text>
<text x="989.5" y="197.1" font-size="14.4" text-anchor="start" fill="#111" stroke="#111" stroke-width="0.3" >-14.0</text>
<text x="989.5" y="225.1" font-size="14.4" text-anchor="start" fill="#111" stroke="#111" stroke-width="0.3" >-30.0</text>
<text x="989.5" y="252.1" font-size="14.4" text-anchor="start" fill="#111" stroke="#111" stroke-width="0.3" >-46.0</text>
<text x="989.5" y="280.1" font-size="14.4" text-anchor="start" fill="#111" stroke="#111" stroke-width="0.3" >-62.0</text>
<text x="989.5" y="307.1" font-size="14.4" text-anchor="start" fill="#111" stroke="#111" stroke-width="0.3" >-78.0</text>
<text x="989.5" y="334.1" font-size="14.4" text-anchor="start" fill="#111" stroke="#111" stroke-width="0.3" >-94.0</text>
<text x="989.5" y="361.6" font-size="14.4" text-anchor="start" fill="#111" stroke="#111" stroke-width="0.3" >-110.0</text>
<text x="8.5" y="28" font-size="24" text-anchor="start" fill="#111" stroke="#111" stroke-width="0.12" >a</text>
<text x="523.5" y="28" font-size="24" text-anchor="start" fill="#111" stroke="#111" stroke-width="0.12" >b</text>
<text x="7" y="586.5" font-size="24" text-anchor="start" fill="#111" stroke="#111" stroke-width="0.12" >c</text>
<text x="493.5" y="586.5" font-size="24" text-anchor="start" fill="#111" stroke="#111" stroke-width="0.12" >d</text>
<text x="8" y="1008" font-size="24" text-anchor="start" fill="#111" stroke="#111" stroke-width="0.12" >e</text>
<text x="25" y="41.6" font-size="19.2" fill="#111">(II)</text>
<text x="72.5" y="50.5" font-size="12.5" text-anchor="end" fill="#7a35a8">H<tspan font-size="8.5" dy="2.6">3</tspan><tspan dy="-2.6" font-size="8.5">&#8203;</tspan>C</text>
<line x1="73.5" y1="49" x2="82.6" y2="55.2" stroke="#7a35a8" stroke-width="1.15"/>
<text x="87" y="62" font-size="12.5" text-anchor="middle" fill="#7a35a8">O</text>
<line x1="92" y1="54.4" x2="101" y2="49.3" stroke="#7a35a8" stroke-width="1.15"/>
<text x="107" y="51" font-size="12.5" text-anchor="middle" fill="#7a35a8">H</text>
<text x="72.5" y="78.3" font-size="12.5" text-anchor="end" fill="#45a9a6">H<tspan font-size="8.5" dy="2.6">3</tspan><tspan dy="-2.6" font-size="8.5">&#8203;</tspan>C</text>
<line x1="73.5" y1="77" x2="82.6" y2="84.2" stroke="#45a9a6" stroke-width="1.15"/>
<text x="86.5" y="91.5" font-size="12.5" text-anchor="middle" fill="#45a9a6">C</text>
<line x1="91.3" y1="83.7" x2="101.3" y2="78.3" stroke="#45a9a6" stroke-width="1.15"/>
<line x1="89.9" y1="81.1" x2="99.9" y2="75.7" stroke="#45a9a6" stroke-width="1.15"/>
<text x="106" y="79.5" font-size="12.5" text-anchor="middle" fill="#45a9a6">O</text>
<line x1="86.5" y1="93.3" x2="86.5" y2="103.2" stroke="#111" stroke-width="1.15"/>
<text x="86.5" y="113.5" font-size="12.5" text-anchor="middle" fill="#111">O</text>
<text x="46.7" y="113.5" font-size="12.5" text-anchor="middle" fill="#111">O</text>
<text x="66.8" y="125" font-size="12.5" text-anchor="middle" fill="#111">Al</text>
<line x1="27.7" y1="119.8" x2="41.6" y2="112.2" stroke="#111" stroke-width="1.15"/>
<line x1="51.7" y1="112.2" x2="60.9" y2="117" stroke="#111" stroke-width="1.15"/>
<line x1="73.3" y1="117" x2="81.7" y2="112.2" stroke="#111" stroke-width="1.15"/>
<line x1="91.7" y1="112.2" x2="106" y2="119.8" stroke="#111" stroke-width="1.15"/>
<path d="M62.7,126.6 L52.9,135.6 L56.1,138.6 Z" fill="#111"/>
<path d="M71.2,126.6 L75.7,138.6 L79.9,136.2 Z" fill="#fff" stroke="#111" stroke-width="0.9" stroke-linejoin="round"/>
<line x1="107.5" y1="108" x2="142.5" y2="108" stroke="#111" stroke-width="1.3"/>
<path d="M147.5,108 L138.5,105.1 L140.5,108 L138.5,110.9 Z" fill="#111"/>
<text x="144" y="41.6" font-size="19.2" fill="#111">(III)</text>
<text x="187.9" y="36.8" font-size="12.5" text-anchor="middle" fill="#45a9a6">O</text>
<line x1="186.4" y1="38" x2="186.4" y2="48.8" stroke="#45a9a6" stroke-width="1.15"/>
<line x1="189.4" y1="38" x2="189.4" y2="48.8" stroke="#45a9a6" stroke-width="1.15"/>
<text x="187.9" y="58.7" font-size="12.5" text-anchor="middle" fill="#45a9a6">C</text>
<text x="173.5" y="70.9" font-size="12.5" text-anchor="end" fill="#45a9a6">H<tspan font-size="8.5" dy="2.6">3</tspan><tspan dy="-2.6" font-size="8.5">&#8203;</tspan>C</text>
<line x1="174.5" y1="65.6" x2="183.6" y2="58.2" stroke="#45a9a6" stroke-width="1.15"/>
<line x1="192.6" y1="57.8" x2="203" y2="64.3" stroke="#45a9a6" stroke-width="1.15"/>
<text x="208" y="72.1" font-size="12.5" text-anchor="middle" fill="#7a35a8">O</text>
<line x1="213" y1="64.8" x2="223" y2="58.6" stroke="#7a35a8" stroke-width="1.15"/>
<text x="224.5" y="61.9" font-size="12.5" text-anchor="start" fill="#7a35a8">CH<tspan font-size="8.5" dy="2.6">3</tspan><tspan dy="-2.6" font-size="8.5">&#8203;</tspan></text>
<line x1="208" y1="73.4" x2="208" y2="84.2" stroke="#7a35a8" stroke-width="1.15" stroke-dasharray="3.2 2.6"/>
<text x="208" y="94.1" font-size="12.5" text-anchor="middle" fill="#7a35a8">H</text>
<line x1="208" y1="95.4" x2="208" y2="103.2" stroke="#111" stroke-width="1.15" stroke-dasharray="3.2 2.6"/>
<text x="208" y="113.5" font-size="12.5" text-anchor="middle" fill="#111">O</text>
<text x="168.2" y="113.5" font-size="12.5" text-anchor="middle" fill="#111">O</text>
<text x="188.3" y="125" font-size="12.5" text-anchor="middle" fill="#111">Al</text>
<line x1="149.2" y1="119.8" x2="163.1" y2="112.2" stroke="#111" stroke-width="1.15"/>
<line x1="173.2" y1="112.2" x2="182.4" y2="117" stroke="#111" stroke-width="1.15"/>
<line x1="194.8" y1="117" x2="203.2" y2="112.2" stroke="#111" stroke-width="1.15"/>
<line x1="213.2" y1="112.2" x2="227.5" y2="119.8" stroke="#111" stroke-width="1.15"/>
<path d="M184.2,126.6 L174.4,135.6 L177.6,138.6 Z" fill="#111"/>
<path d="M192.7,126.6 L197.2,138.6 L201.4,136.2 Z" fill="#fff" stroke="#111" stroke-width="0.9" stroke-linejoin="round"/>
<line x1="228.5" y1="108" x2="263.5" y2="108" stroke="#111" stroke-width="1.3"/>
<path d="M268.5,108 L259.5,105.1 L261.5,108 L259.5,110.9 Z" fill="#111"/>
<text x="252" y="42" font-size="19.2" fill="#111">(IV)</text>
<text x="311" y="34.3" font-size="12.5" text-anchor="end" fill="#45a9a6">H<tspan font-size="8.5" dy="2.6">3</tspan><tspan dy="-2.6" font-size="8.5">&#8203;</tspan>C</text>
<line x1="312" y1="31.4" x2="322.4" y2="38" stroke="#45a9a6" stroke-width="1.15"/>
<text x="326.4" y="45.2" font-size="12.5" text-anchor="middle" fill="#45a9a6">C</text>
<line x1="330.8" y1="36.9" x2="341" y2="31.4" stroke="#45a9a6" stroke-width="1.15"/>
<text x="346.5" y="33.8" font-size="12.5" text-anchor="middle" fill="#7a35a8">O</text>
<line x1="351.6" y1="32" x2="362" y2="38" stroke="#7a35a8" stroke-width="1.15"/>
<text x="362.5" y="45.1" font-size="12.5" text-anchor="start" fill="#7a35a8">CH<tspan font-size="8.5" dy="2.6">3</tspan><tspan dy="-2.6" font-size="8.5">&#8203;</tspan></text>
<line x1="324.9" y1="46.8" x2="324.9" y2="56.8" stroke="#45a9a6" stroke-width="1.15"/>
<line x1="327.9" y1="46.8" x2="327.9" y2="56.8" stroke="#45a9a6" stroke-width="1.15"/>
<text x="326.4" y="67.5" font-size="12.5" text-anchor="middle" fill="#45a9a6">O</text>
<line x1="326.4" y1="69.4" x2="326.4" y2="83" stroke="#111" stroke-width="1.4" stroke-dasharray="3.2 2.6"/>
<text x="326.4" y="94.1" font-size="12.5" text-anchor="middle" fill="#7a35a8">H</text>
<line x1="326.4" y1="95.4" x2="326.4" y2="103.4" stroke="#111" stroke-width="1.15"/>
<text x="326.4" y="114" font-size="12.5" text-anchor="middle" fill="#111">O</text>
<text x="286.6" y="114" font-size="12.5" text-anchor="middle" fill="#111">O</text>
<text x="306.7" y="125.5" font-size="12.5" text-anchor="middle" fill="#111">Al</text>
<line x1="267.6" y1="120.3" x2="281.5" y2="112.7" stroke="#111" stroke-width="1.15"/>
<line x1="291.6" y1="112.7" x2="300.8" y2="117.5" stroke="#111" stroke-width="1.15"/>
<line x1="313.2" y1="117.5" x2="321.6" y2="112.7" stroke="#111" stroke-width="1.15"/>
<line x1="331.6" y1="112.7" x2="345.9" y2="120.3" stroke="#111" stroke-width="1.15"/>
<path d="M302.6,127.1 L292.8,136.1 L296,139.1 Z" fill="#111"/>
<path d="M311.1,127.1 L315.6,139.1 L319.8,136.7 Z" fill="#fff" stroke="#111" stroke-width="0.9" stroke-linejoin="round"/>
<line x1="359.5" y1="106" x2="404.3" y2="106" stroke="#111" stroke-width="1.2"/>
<path d="M404.3,106.4 L394.3,103 L396.3,106.4 Z" fill="#111"/>
<line x1="359.5" y1="110" x2="404.3" y2="110" stroke="#111" stroke-width="1.2"/>
<path d="M359.5,109.6 L369.5,113 L367.5,109.6 Z" fill="#111"/>
<text x="396" y="42" font-size="19.2" fill="#111">(V)</text>
<text x="447.8" y="34.3" font-size="12.5" text-anchor="end" fill="#45a9a6">H<tspan font-size="8.5" dy="2.6">3</tspan><tspan dy="-2.6" font-size="8.5">&#8203;</tspan>C</text>
<line x1="448.8" y1="31.4" x2="458.8" y2="38" stroke="#45a9a6" stroke-width="1.15"/>
<text x="462.7" y="45.2" font-size="12.5" text-anchor="middle" fill="#45a9a6">C</text>
<line x1="467.2" y1="36.9" x2="477.3" y2="31.4" stroke="#45a9a6" stroke-width="1.15"/>
<text x="481.7" y="33.8" font-size="12.5" text-anchor="middle" fill="#7a35a8">O</text>
<line x1="487" y1="32" x2="497.3" y2="38" stroke="#7a35a8" stroke-width="1.15"/>
<text x="498" y="45.1" font-size="12.5" text-anchor="start" fill="#7a35a8">CH<tspan font-size="8.5" dy="2.6">3</tspan><tspan dy="-2.6" font-size="8.5">&#8203;</tspan></text>
<line x1="461.2" y1="46.8" x2="461.2" y2="57.2" stroke="#45a9a6" stroke-width="1.15" stroke-dasharray="3.2 2.6"/>
<line x1="464.2" y1="46.8" x2="464.2" y2="57.2" stroke="#45a9a6" stroke-width="1.15"/>
<text x="462.7" y="68.1" font-size="12.5" text-anchor="middle" fill="#45a9a6">O</text>
<line x1="462.7" y1="70" x2="462.7" y2="77.4" stroke="#7a35a8" stroke-width="1.15"/>
<text x="462.7" y="88.2" font-size="12.5" text-anchor="middle" fill="#7a35a8">H</text>
<line x1="462.7" y1="89.8" x2="462.7" y2="103.4" stroke="#111" stroke-width="1.15" stroke-dasharray="3.2 2.6"/>
<text x="462.7" y="114" font-size="12.5" text-anchor="middle" fill="#111">O</text>
<text x="422.9" y="114" font-size="12.5" text-anchor="middle" fill="#111">O</text>
<text x="443" y="125.5" font-size="12.5" text-anchor="middle" fill="#111">Al</text>
<line x1="403.9" y1="120.3" x2="417.8" y2="112.7" stroke="#111" stroke-width="1.15"/>
<line x1="427.9" y1="112.7" x2="437.1" y2="117.5" stroke="#111" stroke-width="1.15"/>
<line x1="449.5" y1="117.5" x2="457.9" y2="112.7" stroke="#111" stroke-width="1.15"/>
<line x1="467.9" y1="112.7" x2="482.2" y2="120.3" stroke="#111" stroke-width="1.15"/>
<path d="M438.9,127.1 L429.1,136.1 L432.3,139.1 Z" fill="#111"/>
<path d="M447.4,127.1 L451.9,139.1 L456.1,136.7 Z" fill="#fff" stroke="#111" stroke-width="0.9" stroke-linejoin="round"/>
<text x="608.5" y="44" font-size="19.2" fill="#111">(II)</text>
<text x="653" y="56.1" font-size="12" text-anchor="end" fill="#7a35a8">H<tspan font-size="8.2" dy="2.6">3</tspan><tspan dy="-2.6" font-size="8.2">&#8203;</tspan>C</text>
<line x1="654.2" y1="54.2" x2="663.8" y2="60.2" stroke="#7a35a8" stroke-width="1.15"/>
<text x="668.8" y="66.4" font-size="12" text-anchor="middle" fill="#7a35a8">O</text>
<line x1="673.8" y1="59.4" x2="682.3" y2="53.8" stroke="#7a35a8" stroke-width="1.15"/>
<text x="683.3" y="56.1" font-size="12" text-anchor="start" fill="#7a35a8">CH<tspan font-size="8.2" dy="2.6">3</tspan><tspan dy="-2.6" font-size="8.2">&#8203;</tspan></text>
<text x="653" y="81.6" font-size="12" text-anchor="end" fill="#45a9a6">H<tspan font-size="8.2" dy="2.6">3</tspan><tspan dy="-2.6" font-size="8.2">&#8203;</tspan>C</text>
<line x1="654" y1="79.8" x2="663.6" y2="87.2" stroke="#45a9a6" stroke-width="1.15"/>
<text x="667.4" y="94.3" font-size="12" text-anchor="middle" fill="#45a9a6">C</text>
<line x1="672.1" y1="86.6" x2="681.3" y2="81.2" stroke="#45a9a6" stroke-width="1.15"/>
<line x1="670.7" y1="84.2" x2="679.9" y2="78.8" stroke="#45a9a6" stroke-width="1.15"/>
<text x="685.4" y="81.7" font-size="12" text-anchor="middle" fill="#45a9a6">O</text>
<line x1="667.4" y1="95.8" x2="667.4" y2="103.6" stroke="#111" stroke-width="1.15"/>
<text x="667.4" y="113.6" font-size="12" text-anchor="middle" fill="#111">O</text>
<text x="630.4" y="113.6" font-size="12" text-anchor="middle" fill="#111">O</text>
<text x="649.1" y="124.3" font-size="12" text-anchor="middle" fill="#111">Al</text>
<line x1="612.7" y1="119.3" x2="625.6" y2="112.3" stroke="#111" stroke-width="1.15"/>
<line x1="635" y1="112.3" x2="643.6" y2="116.7" stroke="#111" stroke-width="1.15"/>
<line x1="655.1" y1="116.7" x2="662.9" y2="112.3" stroke="#111" stroke-width="1.15"/>
<line x1="672.2" y1="112.3" x2="685.5" y2="119.3" stroke="#111" stroke-width="1.15"/>
<path d="M645.3,125.7 L636.2,134 L639.1,136.8 Z" fill="#111"/>
<path d="M653.2,125.7 L657.4,136.8 L661.3,134.6 Z" fill="#fff" stroke="#111" stroke-width="0.9" stroke-linejoin="round"/>
<line x1="686.7" y1="108" x2="716.7" y2="108" stroke="#111" stroke-width="1.3"/>
<path d="M721.7,108 L712.7,105.1 L714.7,108 L712.7,110.9 Z" fill="#111"/>
<text x="716.3" y="44" font-size="19.2" fill="#111">(III)</text>
<text x="756.3" y="34.8" font-size="12" text-anchor="middle" fill="#45a9a6">O</text>
<line x1="754.9" y1="36.4" x2="754.9" y2="46.4" stroke="#45a9a6" stroke-width="1.15"/>
<line x1="757.7" y1="36.4" x2="757.7" y2="46.4" stroke="#45a9a6" stroke-width="1.15"/>
<text x="756.3" y="55.9" font-size="12" text-anchor="middle" fill="#45a9a6">C</text>
<text x="742.8" y="66.3" font-size="12" text-anchor="end" fill="#45a9a6">H<tspan font-size="8.2" dy="2.6">3</tspan><tspan dy="-2.6" font-size="8.2">&#8203;</tspan>C</text>
<line x1="743.6" y1="61" x2="752.2" y2="55" stroke="#45a9a6" stroke-width="1.15"/>
<line x1="760.6" y1="54.4" x2="769.8" y2="59.4" stroke="#45a9a6" stroke-width="1.15"/>
<text x="774.3" y="66.4" font-size="12" text-anchor="middle" fill="#7a35a8">O</text>
<circle cx="774.6" cy="50.8" r="3.1" fill="none" stroke="#7a35a8" stroke-width="0.8"/>
<line x1="772.8" y1="50.8" x2="776.4" y2="50.8" stroke="#7a35a8" stroke-width="0.8"/>
<line x1="774.6" y1="49" x2="774.6" y2="52.6" stroke="#7a35a8" stroke-width="0.8"/>
<line x1="779.2" y1="59.4" x2="788" y2="54.2" stroke="#7a35a8" stroke-width="1.15"/>
<text x="789.6" y="56.1" font-size="12" text-anchor="start" fill="#7a35a8">CH<tspan font-size="8.2" dy="2.6">3</tspan><tspan dy="-2.6" font-size="8.2">&#8203;</tspan></text>
<line x1="774.3" y1="67.6" x2="774.3" y2="75.2" stroke="#7a35a8" stroke-width="1.15"/>
<text x="770" y="85" font-size="12" text-anchor="start" fill="#7a35a8">CH<tspan font-size="8.2" dy="2.6">3</tspan><tspan dy="-2.6" font-size="8.2">&#8203;</tspan></text>
<text x="777.4" y="113.6" font-size="12" text-anchor="middle" fill="#111">O</text>
<text x="740.4" y="113.6" font-size="12" text-anchor="middle" fill="#111">O</text>
<text x="759.1" y="124.3" font-size="12" text-anchor="middle" fill="#111">Al</text>
<line x1="722.7" y1="119.3" x2="735.6" y2="112.3" stroke="#111" stroke-width="1.15"/>
<line x1="745" y1="112.3" x2="753.6" y2="116.7" stroke="#111" stroke-width="1.15"/>
<line x1="765.1" y1="116.7" x2="772.9" y2="112.3" stroke="#111" stroke-width="1.15"/>
<line x1="782.2" y1="112.3" x2="795.5" y2="119.3" stroke="#111" stroke-width="1.15"/>
<path d="M755.3,125.7 L746.2,134 L749.1,136.8 Z" fill="#111"/>
<path d="M763.2,125.7 L767.4,136.8 L771.3,134.6 Z" fill="#fff" stroke="#111" stroke-width="0.9" stroke-linejoin="round"/>
<circle cx="784.6" cy="100" r="3.1" fill="none" stroke="#111" stroke-width="0.8"/>
<line x1="782.8" y1="100" x2="786.4" y2="100" stroke="#111" stroke-width="0.8"/>
<line x1="796.4" y1="108" x2="827.7" y2="108" stroke="#111" stroke-width="1.3"/>
<path d="M832.7,108 L823.7,105.1 L825.7,108 L823.7,110.9 Z" fill="#111"/>
<text x="831.7" y="44" font-size="19.2" fill="#111">(IV)</text>
<text x="876.1" y="44.3" font-size="12" text-anchor="middle" fill="#45a9a6">O</text>
<line x1="874.7" y1="45.8" x2="874.7" y2="55.8" stroke="#45a9a6" stroke-width="1.15"/>
<line x1="877.5" y1="45.8" x2="877.5" y2="55.8" stroke="#45a9a6" stroke-width="1.15"/>
<text x="876.1" y="65.3" font-size="12" text-anchor="middle" fill="#45a9a6">C</text>
<text x="861.6" y="75.5" font-size="12" text-anchor="end" fill="#45a9a6">H<tspan font-size="8.2" dy="2.6">3</tspan><tspan dy="-2.6" font-size="8.2">&#8203;</tspan>C</text>
<line x1="862.6" y1="70.2" x2="871.6" y2="64.6" stroke="#45a9a6" stroke-width="1.15"/>
<line x1="880.8" y1="63.8" x2="889.6" y2="68.8" stroke="#45a9a6" stroke-width="1.15"/>
<text x="894.5" y="75.6" font-size="12" text-anchor="middle" fill="#7a35a8">O</text>
<line x1="899.4" y1="68.8" x2="908" y2="63.6" stroke="#7a35a8" stroke-width="1.15"/>
<text x="909" y="65.6" font-size="12" text-anchor="start" fill="#7a35a8">CH<tspan font-size="8.2" dy="2.6">3</tspan><tspan dy="-2.6" font-size="8.2">&#8203;</tspan></text>
<text x="890.4" y="94.5" font-size="12" text-anchor="start" fill="#7a35a8">CH<tspan font-size="8.2" dy="2.6">3</tspan><tspan dy="-2.6" font-size="8.2">&#8203;</tspan></text>
<line x1="894.5" y1="96.4" x2="894.5" y2="103.4" stroke="#7a35a8" stroke-width="1.15"/>
<text x="894.5" y="113.6" font-size="12" text-anchor="middle" fill="#111">O</text>
<text x="857.5" y="113.6" font-size="12" text-anchor="middle" fill="#111">O</text>
<text x="876.2" y="124.3" font-size="12" text-anchor="middle" fill="#111">Al</text>
<line x1="839.8" y1="119.3" x2="852.7" y2="112.3" stroke="#111" stroke-width="1.15"/>
<line x1="862.1" y1="112.3" x2="870.7" y2="116.7" stroke="#111" stroke-width="1.15"/>
<line x1="882.2" y1="116.7" x2="890" y2="112.3" stroke="#111" stroke-width="1.15"/>
<line x1="899.3" y1="112.3" x2="912.6" y2="119.3" stroke="#111" stroke-width="1.15"/>
<path d="M872.4,125.7 L863.3,134 L866.2,136.8 Z" fill="#111"/>
<path d="M880.3,125.7 L884.5,136.8 L888.4,134.6 Z" fill="#fff" stroke="#111" stroke-width="0.9" stroke-linejoin="round"/>
<clipPath id="clipD"><rect x="547" y="574" width="421.5" height="344"/></clipPath>
<g clip-path="url(#clipD)">
<polyline points="547,866.8 547.2,859.2 547.4,849.7 547.6,833.7 547.8,836.7 548.1,817.5 548.3,802.7 548.5,808.5 548.7,804.2 548.9,809.7 549.1,804.1 549.3,805.9 549.5,802.2 549.7,802.7 549.9,803.9 550.2,810.4 550.4,812 550.6,812.1 550.8,807.1 551,811.4 551.2,803.3 551.4,804.9 551.6,810.9 551.8,809.2 552,804.8 552.3,801.7 552.5,803.5 552.7,800.5 552.9,795.9 553.1,803 553.3,797.2 553.5,799.1 553.7,795.5 553.9,797.6 554.1,802.1 554.4,804.1 554.6,795.5 554.8,796.8 555,798.1 555.2,798.5 555.4,801.4 555.6,793.6 555.8,798.7 556,807.6 556.3,791.5 556.5,797.1 556.7,805.5 556.9,801.3 557.1,799 557.3,797.3 557.5,802.3 557.7,806.5 557.9,813.7 558.1,807.9 558.4,813.1 558.6,806.9 558.8,821.9 559,800.6 559.2,814.5 559.4,811.4 559.6,806.4 559.8,803.4 560,803.6 560.2,816.6 560.5,808 560.7,813.1 560.9,822 561.1,823.2 561.3,822.1 561.5,819.7 561.7,821.1 561.9,818 562.1,824.6 562.3,819.6 562.6,825.6 562.8,832 563,825.7 563.2,822.2 563.4,836.3 563.6,822.6 563.8,826.3 564,814.8 564.2,826.1 564.5,839 564.7,837 564.9,838.9 565.1,825.9 565.3,834.1 565.5,828 565.7,835.2 565.9,835.5 566.1,837.8 566.3,829.6 566.6,829.8 566.8,834.7 567,836.9 567.2,831.6 567.4,828.7 567.6,829.4 567.8,832 568,838.5 568.2,842.3 568.4,834 568.7,828 568.9,830.4 569.1,833.5 569.3,829 569.5,826.5 569.7,826 569.9,837.3 570.1,828.7 570.3,828 570.5,819.7 570.8,828.4 571,831.8 571.2,817.8 571.4,819.8 571.6,814.9 571.8,823.6 572,812.3 572.2,817.5 572.4,815.1 572.7,815.2 572.9,819.5 573.1,806.6 573.3,811.6 573.5,812.1 573.7,814.7 573.9,810.5 574.1,816.6 574.3,819.6 574.5,823.8 574.8,816.5 575,814.4 575.2,812.5 575.4,815.9 575.6,809.4 575.8,819.4 576,821.5 576.2,813.9 576.4,819 576.6,818.1 576.9,810.2 577.1,823.6 577.3,814.1 577.5,821.2 577.7,815.6 577.9,817.2 578.1,823.6 578.3,822.8 578.5,807 578.7,812.9 579,816.5 579.2,807.5 579.4,818.5 579.6,811.2 579.8,818.9 580,816.7 580.2,817.9 580.4,818.6 580.6,810.6 580.9,814.6 581.1,820 581.3,823.2 581.5,817 581.7,815.2 581.9,808.8 582.1,808 582.3,820.5 582.5,819.7 582.7,811.5 583,821.3 583.2,804.2 583.4,811.8 583.6,813.4 583.8,815.5 584,815.8 584.2,814.5 584.4,811.9 584.6,820.8 584.8,820.8 585.1,822.4 585.3,820.3 585.5,813.2 585.7,813.9 585.9,825.1 586.1,817.9 586.3,812.3 586.5,818.9 586.7,819.3 586.9,815.5 587.2,823.3 587.4,816.8 587.6,815.5 587.8,815.3 588,816.8 588.2,823.1 588.4,820.8 588.6,825.9 588.8,819 589,831 589.3,830.1 589.5,826.7 589.7,832.4 589.9,825.2 590.1,815.2 590.3,807.4 590.5,823.9 590.7,815 590.9,820.2 591.2,825.4 591.4,823.4 591.6,819.5 591.8,821.8 592,832.6 592.2,823.1 592.4,825.7 592.6,827.9 592.8,825.4 593,825.4 593.3,829.4 593.5,829.1 593.7,824.2 593.9,835 594.1,823.5 594.3,814.3 594.5,819.8 594.7,818 594.9,824.7 595.1,824.7 595.4,833.3 595.6,819.6 595.8,828.5 596,820.9 596.2,823.6 596.4,826 596.6,830.5 596.8,826.5 597,827.9 597.2,822.2 597.5,811.8 597.7,829.5 597.9,825.2 598.1,823.8 598.3,826.7 598.5,824 598.7,821.5 598.9,816.8 599.1,819.1 599.4,826 599.6,810.1 599.8,825.3 600,828 600.2,825.8 600.4,822.3 600.6,830.5 600.8,823.1 601,830.1 601.2,820.7 601.5,823.2 601.7,823.3 601.9,815 602.1,828.4 602.3,825.6 602.5,822.1 602.7,823.6 602.9,829 603.1,818 603.3,815.9 603.6,815.1 603.8,821.6 604,820.9 604.2,823.2 604.4,820.8 604.6,829.8 604.8,818.8 605,825.5 605.2,825.2 605.4,819 605.7,822.6 605.9,830.3 606.1,825.8 606.3,817.9 606.5,822.7 606.7,824.9 606.9,830.7 607.1,834.9 607.3,828.2 607.6,829.8 607.8,833.9 608,829.3 608.2,832.4 608.4,832.5 608.6,835.4 608.8,840.3 609,843.1 609.2,833.6 609.4,837.3 609.7,825.4 609.9,837.9 610.1,830.6 610.3,840 610.5,840.5 610.7,840.2 610.9,824.9 611.1,839.2 611.3,834 611.5,830.5 611.8,837.6 612,837.7 612.2,831.8 612.4,840.1 612.6,836.2 612.8,835.7 613,848.5 613.2,838.4 613.4,844.6 613.6,842.1 613.9,839 614.1,844.2 614.3,854.6 614.5,839.6 614.7,854.8 614.9,844.3 615.1,838 615.3,841.9 615.5,845.8 615.8,846.8 616,843.9 616.2,834.2 616.4,836.5 616.6,844.7 616.8,834.8 617,832.5 617.2,836 617.4,842.8 617.6,837.7 617.9,832.6 618.1,832.6 618.3,825 618.5,828.8 618.7,820.4 618.9,822 619.1,823.3 619.3,819.1 619.5,828.6 619.7,826.4 620,812.9 620.2,820.6 620.4,814.9 620.6,819.1 620.8,818.6 621,820.9 621.2,826.9 621.4,825.1 621.6,837.9 621.8,825.1 622.1,822.9 622.3,834.5 622.5,825.9 622.7,839.6 622.9,839.3 623.1,842.4 623.3,845.1 623.5,854.5 623.7,850.2 624,853.6 624.2,853.4 624.4,854.4 624.6,847 624.8,850.6 625,854.6 625.2,851.1 625.4,867.5 625.6,853.8 625.8,851.7 626.1,847.1 626.3,856.7 626.5,853 626.7,861.1 626.9,855.9 627.1,866.6 627.3,860.7 627.5,858.1 627.7,854 627.9,864.3 628.2,858.9 628.4,854.5 628.6,857.2 628.8,866.6 629,853.2 629.2,863.6 629.4,869.4 629.6,867.1 629.8,860.1 630,867.4 630.3,866.5 630.5,853.2 630.7,870.2 630.9,865.2 631.1,862.1 631.3,872 631.5,860.8 631.7,858.1 631.9,861.3 632.2,869.4 632.4,850.8 632.6,845.7 632.8,846.2 633,849.1 633.2,837.3 633.4,839.3 633.6,836.6 633.8,834.5 634,832.9 634.3,832.1 634.5,827.2 634.7,827.7 634.9,827.9 635.1,816.7 635.3,820.1 635.5,819.8 635.7,822.1 635.9,819.1 636.1,819.1 636.4,822.5 636.6,828.5 636.8,819.6 637,822.3 637.2,821.8 637.4,812.3 637.6,815 637.8,814.9 638,809.2 638.2,808.7 638.5,809.4 638.7,811.8 638.9,820.2 639.1,817.2 639.3,820.9 639.5,819.7 639.7,817.3 639.9,827.8 640.1,818 640.4,827.4 640.6,821 640.8,821.9 641,825 641.2,828.1 641.4,830.5 641.6,839.3 641.8,830.2 642,833.1 642.2,832 642.5,834.2 642.7,840.2 642.9,833.4 643.1,830.4 643.3,832.2 643.5,838.9 643.7,843.1 643.9,830 644.1,838.3 644.3,832.8 644.6,830.3 644.8,834.8 645,842.9 645.2,822.5 645.4,835.1 645.6,829.6 645.8,836.3 646,825.2 646.2,830.8 646.4,821.8 646.7,819.8 646.9,830.2 647.1,830.5 647.3,831.3 647.5,827.9 647.7,813.8 647.9,810.9 648.1,813.8 648.3,821.2 648.6,819.5 648.8,816.8 649,813.7 649.2,816.6 649.4,820.9 649.6,811.6 649.8,815.7 650,808.9 650.2,808.5 650.4,813.5 650.7,813.4 650.9,815.3 651.1,813.9 651.3,814.7 651.5,810.7 651.7,809.3 651.9,815.9 652.1,817.3 652.3,813.9 652.5,820.1 652.8,811.1 653,820.4 653.2,818.6 653.4,816.2 653.6,817.9 653.8,828.2 654,823.9 654.2,820.7 654.4,817.4 654.6,810.7 654.9,815.2 655.1,809.5 655.3,813 655.5,808.1 655.7,809.9 655.9,813.3 656.1,816.4 656.3,807.2 656.5,802.6 656.8,816.8 657,804.9 657.2,803.6 657.4,807.1 657.6,803.7 657.8,806.8 658,811.3 658.2,805.7 658.4,810 658.6,804.4 658.9,802.9 659.1,809.2 659.3,806 659.5,799 659.7,810.5 659.9,812.3 660.1,810.4 660.3,817.6 660.5,802 660.7,799.4 661,807.8 661.2,813.8 661.4,813.7 661.6,812.4 661.8,822.7 662,814 662.2,811.7 662.4,819.7 662.6,814.3 662.8,826.1 663.1,816.7 663.3,823.9 663.5,816.3 663.7,821 663.9,812.6 664.1,808.3 664.3,815.9 664.5,819.2 664.7,822.7 665,812.8 665.2,818.1 665.4,823.7 665.6,815.6 665.8,811.2 666,820.1 666.2,821.5 666.4,819.7 666.6,827.5 666.8,832 667.1,826 667.3,835.6 667.5,833.6 667.7,838.6 667.9,832.9 668.1,834.2 668.3,834.4 668.5,832.1 668.7,841.5 668.9,828.1 669.2,826.8 669.4,832.8 669.6,839 669.8,841.8 670,834.5 670.2,833.8 670.4,833.9 670.6,827.8 670.8,827.8 671,836.4 671.3,836.8 671.5,829.6 671.7,830.2 671.9,836.7 672.1,827.3 672.3,826.2 672.5,827.2 672.7,823.4 672.9,835 673.1,825.3 673.4,827.7 673.6,831.9 673.8,836.3 674,837.9 674.2,840.4 674.4,842.1 674.6,845.6 674.8,844.7 675,848.7 675.3,842.4 675.5,854.8 675.7,846.2 675.9,854.1 676.1,856.5 676.3,858.7 676.5,860.1 676.7,856.8 676.9,859.9 677.1,854.7 677.4,863.6 677.6,861.2 677.8,855.6 678,858.1 678.2,859 678.4,857 678.6,859.2 678.8,856.6 679,857.9 679.2,860.2 679.5,861.9 679.7,859.3 679.9,865.4 680.1,861 680.3,858.4 680.5,858.7 680.7,868.8 680.9,864.1 681.1,866.2 681.3,871.6 681.6,864.8 681.8,861.3 682,857.7 682.2,857.2 682.4,865.1 682.6,864.1 682.8,864.7 683,866.6 683.2,862.5 683.5,868.5 683.7,871.6 683.9,875.1 684.1,865.2 684.3,861.1 684.5,866.9 684.7,870.7 684.9,864.6 685.1,867 685.3,864.7 685.6,871.9 685.8,867.6 686,877.6 686.2,861.4 686.4,879.8 686.6,871.4 686.8,870.7 687,868.6 687.2,867.1 687.4,864.8 687.7,866.8 687.9,867.9 688.1,863.4 688.3,866.9 688.5,865.7 688.7,863.3 688.9,874 689.1,869.2 689.3,866.5 689.5,865.3 689.8,863 690,868.9 690.2,863.6 690.4,864.1 690.6,866.3 690.8,856.2 691,857.3 691.2,872.5 691.4,861.8 691.7,865.8 691.9,869 692.1,863.3 692.3,854.6 692.5,861.4 692.7,855.4 692.9,846.2 693.1,843.8 693.3,844 693.5,837.1 693.8,840.6 694,832.4 694.2,828.5 694.4,831.8 694.6,835 694.8,837.9 695,832.4 695.2,824.5 695.4,825.1 695.6,837.3 695.9,827.9 696.1,818 696.3,823.9 696.5,821.1 696.7,827.8 696.9,817.3 697.1,817.3 697.3,819.4 697.5,818 697.7,812.3 698,812.1 698.2,820.5 698.4,806.3 698.6,815.2 698.8,809.4 699,819.1 699.2,819 699.4,820.4 699.6,811.9 699.9,824 700.1,821.1 700.3,826.2 700.5,826 700.7,815.1 700.9,822.1 701.1,819 701.3,829.1 701.5,823.3 701.7,827 702,826.2 702.2,822.5 702.4,811.6 702.6,812 702.8,806 703,811.7 703.2,810.4 703.4,814.1 703.6,810.3 703.8,819.3 704.1,806.5 704.3,817.4 704.5,810.1 704.7,814.8 704.9,810.8 705.1,809.7 705.3,812.4 705.5,811.5 705.7,811 705.9,813.6 706.2,816 706.4,807.4 706.6,810.8 706.8,812.4 707,814.6 707.2,809.8 707.4,814.2 707.6,805.5 707.8,815.4 708.1,819.7 708.3,811.2 708.5,819.9 708.7,803.4 708.9,823.2 709.1,810.8 709.3,816.9 709.5,812.5 709.7,811.2 709.9,807.7 710.2,809 710.4,813 710.6,813.1 710.8,816.8 711,822 711.2,811.1 711.4,822.1 711.6,814.2 711.8,814 712,816.3 712.3,813 712.5,814.9 712.7,811.2 712.9,822.7 713.1,811.2 713.3,813.6 713.5,817.7 713.7,811.6 713.9,817.3 714.1,819.9 714.4,816.8 714.6,811.7 714.8,809.9 715,812 715.2,810.8 715.4,819.1 715.6,805.7 715.8,808.7 716,803.6 716.3,810.4 716.5,810.3 716.7,818 716.9,808 717.1,815.1 717.3,809 717.5,812.5 717.7,816.6 717.9,816.2 718.1,822.3 718.4,819.4 718.6,815.9 718.8,807.4 719,818.8 719.2,818.8 719.4,812.7 719.6,819.9 719.8,816.3 720,820.6 720.2,821.6 720.5,818 720.7,817.6 720.9,824.1 721.1,834.2 721.3,815.7 721.5,807.2 721.7,818 721.9,822.6 722.1,817.4 722.3,818.9 722.6,812.8 722.8,816.8 723,802.6 723.2,811.3 723.4,814.7 723.6,805.8 723.8,808.3 724,816.2 724.2,802.1 724.5,816 724.7,815.6 724.9,814.8 725.1,810.9 725.3,810.3 725.5,816.6 725.7,807.2 725.9,805.5 726.1,820.6 726.3,803.7 726.6,803.1 726.8,813.7 727,801.2 727.2,808.1 727.4,805.8 727.6,813.2 727.8,816.6 728,809.5 728.2,817.4 728.4,810.1 728.7,812.6 728.9,808.4 729.1,809.2 729.3,813.8 729.5,805.4 729.7,803.6 729.9,807.4 730.1,809.9 730.3,816.4 730.5,810.6 730.8,809.9 731,807 731.2,807.5 731.4,821.8 731.6,817.3 731.8,821.7 732,814.9 732.2,814.2 732.4,814.5 732.7,811.7 732.9,822 733.1,817.5 733.3,819.8 733.5,816.1 733.7,825 733.9,820.9 734.1,808.9 734.3,811.1 734.5,809.5 734.8,819.2 735,819.5 735.2,809.5 735.4,811 735.6,812.1 735.8,819.6 736,812.5 736.2,809.1 736.4,814.4 736.6,825.9 736.9,806.6 737.1,806.5 737.3,795.6 737.5,805.3 737.7,805.3 737.9,811.4 738.1,802.6 738.3,816 738.5,801.9 738.7,819.3 739,806.3 739.2,806.6 739.4,808.7 739.6,803.8 739.8,808.1 740,799.9 740.2,801 740.4,801.2 740.6,804.2 740.9,807.7 741.1,811.1 741.3,807.5 741.5,803.1 741.7,811.9 741.9,811.6 742.1,811.8 742.3,809.2 742.5,806.3 742.7,817.2 743,808 743.2,799.9 743.4,815.4 743.6,802.3 743.8,806.6 744,796.6 744.2,817.7 744.4,807.8 744.6,806.7 744.8,799.5 745.1,802.8 745.3,817.9 745.5,810.2 745.7,811.4 745.9,809.8 746.1,816.1 746.3,809.5 746.5,813.8 746.7,813.4 746.9,810.1 747.2,809.1 747.4,814.1 747.6,810.3 747.8,810.3 748,813.8 748.2,819.5 748.4,812.2 748.6,812.4 748.8,821.9 749.1,811.2 749.3,813.5 749.5,821.6 749.7,812.5 749.9,820.3 750.1,817.6 750.3,814 750.5,821.9 750.7,819.5 750.9,808.8 751.2,805.2 751.4,815.4 751.6,804.6 751.8,818.9 752,807.2 752.2,806.4 752.4,815.2 752.6,812.6 752.8,813 753,810.3 753.3,815.4 753.5,824.6 753.7,812.6 753.9,816.5 754.1,816.2 754.3,811.2 754.5,809.1 754.7,813.8 754.9,804 755.1,816.4 755.4,809.1 755.6,800.9 755.8,818.9 756,809.4 756.2,818.7 756.4,807.4 756.6,814.2 756.8,813.5 757,826.4 757.2,818 757.5,814.1 757.7,812.3 757.9,810.4 758.1,811 758.3,810.5 758.5,818.7 758.7,812.5 758.9,819.3 759.1,819.3 759.4,815.5 759.6,818.4 759.8,807.2 760,817.4 760.2,809.6 760.4,809.2 760.6,813.3 760.8,823.9 761,820.2 761.2,817.6 761.5,819.6 761.7,809.1 761.9,813.7 762.1,819.2 762.3,814.3 762.5,816.6 762.7,815.8 762.9,816.7 763.1,807.1 763.3,814.8 763.6,819.3 763.8,816.9 764,815.3 764.2,811.4 764.4,800.8 764.6,814.1 764.8,809.5 765,812.4 765.2,808.4 765.4,806.8 765.7,807.2 765.9,805.8 766.1,813 766.3,816.7 766.5,814.7 766.7,817.1 766.9,821.9 767.1,816.3 767.3,805.8 767.6,804.9 767.8,806 768,807.1 768.2,813.2 768.4,814.2 768.6,800.3 768.8,802.3 769,811.6 769.2,811 769.4,811.5 769.7,809.8 769.9,810.6 770.1,811.4 770.3,807.1 770.5,807.4 770.7,812.2 770.9,806.9 771.1,808.4 771.3,810.2 771.5,810.5 771.8,815.9 772,811.5 772.2,812.9 772.4,812.7 772.6,807.8 772.8,805.6 773,813.6 773.2,809.4 773.4,813.3 773.6,802.9 773.9,809.9 774.1,812.2 774.3,808.5 774.5,812.9 774.7,810.4 774.9,817.5 775.1,808.4 775.3,814.3 775.5,810.7 775.8,818.7 776,809.7 776.2,821.5 776.4,812.7 776.6,805.5 776.8,806.5 777,801.4 777.2,810 777.4,814.9 777.6,800.2 777.9,807.5 778.1,804.6 778.3,814.2 778.5,803 778.7,804.4 778.9,800.7 779.1,807 779.3,806.7 779.5,818.3 779.7,816.6 780,805 780.2,805.8 780.4,805.4 780.6,810.4 780.8,817.9 781,809.1 781.2,818.4 781.4,804.4 781.6,809.8 781.8,818.7 782.1,815.2 782.3,814.2 782.5,813.6 782.7,815.3 782.9,803.5 783.1,812.7 783.3,802.5 783.5,804.6 783.7,810.8 784,803.2 784.2,812.5 784.4,807.9 784.6,805.5 784.8,796.8 785,806.3 785.2,807 785.4,805.9 785.6,803.8 785.8,811.5 786.1,815.8 786.3,810.2 786.5,807.8 786.7,803.1 786.9,812 787.1,805.3 787.3,811.9 787.5,821.9 787.7,809.8 787.9,815 788.2,798.8 788.4,809.6 788.6,814.4 788.8,808.1 789,801.3 789.2,807.5 789.4,799.8 789.6,810.5 789.8,810.8 790,810 790.3,808.6 790.5,813.8 790.7,811.5 790.9,809 791.1,815.9 791.3,810.2 791.5,813.2 791.7,815.1 791.9,814.4 792.2,812.2 792.4,815 792.6,811.4 792.8,817.7 793,816.2 793.2,814.8 793.4,807.5 793.6,807.7 793.8,815.5 794,817.1 794.3,814.7 794.5,808.5 794.7,819.5 794.9,810.9 795.1,814.9 795.3,815.1 795.5,814 795.7,817.5 795.9,820.4 796.1,802.5 796.4,814.4 796.6,821.1 796.8,817.9 797,809.4 797.2,819.2 797.4,815.1 797.6,824 797.8,814.6 798,822 798.2,823 798.5,816.9 798.7,817.2 798.9,802.4 799.1,810.7 799.3,805.8 799.5,821.8 799.7,815.9 799.9,808.3 800.1,799.6 800.4,810.8 800.6,800.5 800.8,821.4 801,810.1 801.2,810.4 801.4,813.5 801.6,816.8 801.8,815.4 802,815.9 802.2,809.6 802.5,811.4 802.7,814.9 802.9,819.7 803.1,818.8 803.3,810.2 803.5,806.4 803.7,824.6 803.9,805.7 804.1,816.2 804.3,814.2 804.6,811.9 804.8,807.3 805,813.1 805.2,807.5 805.4,812.5 805.6,815.1 805.8,804.9 806,806.7 806.2,810 806.4,807.1 806.7,812.1 806.9,808.8 807.1,805.8 807.3,811.3 807.5,809.6 807.7,818.5 807.9,823.2 808.1,815.5 808.3,822 808.6,818.7 808.8,819.2 809,811.2 809.2,808.5 809.4,820.2 809.6,822.4 809.8,820.7 810,814.9 810.2,817 810.4,819 810.7,814.9 810.9,821.5 811.1,811.7 811.3,820.6 811.5,814.3 811.7,824.6 811.9,813.8 812.1,814.2 812.3,815.2 812.5,811.8 812.8,813.9 813,814.4 813.2,812.9 813.4,802.2 813.6,811 813.8,803.7 814,814.8 814.2,810.6 814.4,807.8 814.6,821.4 814.9,813.1 815.1,816.5 815.3,821.7 815.5,810.7 815.7,817.9 815.9,821.4 816.1,812.1 816.3,817.7 816.5,813.5 816.8,821.4 817,829.1 817.2,824.1 817.4,816.6 817.6,810.3 817.8,824.9 818,815.6 818.2,819.3 818.4,822.8 818.6,821.5 818.9,813 819.1,810.3 819.3,815.7 819.5,824.7 819.7,813.4 819.9,825.5 820.1,823.5 820.3,809.2 820.5,820.2 820.7,817 821,820.3 821.2,828 821.4,810.1 821.6,818.4 821.8,810.2 822,818.6 822.2,806.2 822.4,813.8 822.6,819.3 822.8,822.5 823.1,827.2 823.3,816.2 823.5,819 823.7,827.7 823.9,823.7 824.1,814.6 824.3,819.1 824.5,814.7 824.7,815 825,823.7 825.2,812.4 825.4,813.3 825.6,821.5 825.8,808.3 826,814.9 826.2,821.3 826.4,804.8 826.6,816.6 826.8,814.1 827.1,812.2 827.3,812 827.5,819.3 827.7,815.5 827.9,808.1 828.1,802.3 828.3,808.8 828.5,811.6 828.7,817 828.9,808.7 829.2,816.1 829.4,817.3 829.6,806.2 829.8,802.9 830,806.5 830.2,803 830.4,810.4 830.6,807.8 830.8,800.1 831,819.1 831.3,811.9 831.5,809.7 831.7,806.9 831.9,817.9 832.1,807.3 832.3,806.6 832.5,809.8 832.7,809.2 832.9,812.3 833.2,807.7 833.4,811.3 833.6,817.1 833.8,814.1 834,817.2 834.2,818.3 834.4,819.1 834.6,812.3 834.8,816.2 835,818.5 835.3,826.2 835.5,814.9 835.7,814.5 835.9,821.3 836.1,811.8 836.3,819.6 836.5,820.4 836.7,818.9 836.9,811.1 837.1,821.7 837.4,814 837.6,807.1 837.8,808.4 838,809.2 838.2,812.5 838.4,808 838.6,808 838.8,803.7 839,810.1 839.2,815.9 839.5,810.4 839.7,818.5 839.9,809.3 840.1,816.5 840.3,806.8 840.5,814.3 840.7,817.9 840.9,813.2 841.1,816.8 841.4,808.2 841.6,803 841.8,814.8 842,817.3 842.2,820.5 842.4,815 842.6,809 842.8,807.9 843,809.2 843.2,811.2 843.5,810.2 843.7,815.8 843.9,819.2 844.1,814.2 844.3,816.6 844.5,817.4 844.7,817.1 844.9,817.1 845.1,813.1 845.3,818.4 845.6,812.6 845.8,809.6 846,818.5 846.2,811.2 846.4,814.8 846.6,817.2 846.8,808.3 847,807.7 847.2,811 847.4,810.7 847.7,808.3 847.9,819.1 848.1,807.4 848.3,814.7 848.5,816.9 848.7,807.2 848.9,807.3 849.1,810.3 849.3,811.7 849.5,820.6 849.8,822.4 850,809.3 850.2,809.3 850.4,811.1 850.6,813.8 850.8,809.5 851,814.7 851.2,809.9 851.4,806.1 851.7,806.5 851.9,801.8 852.1,805.7 852.3,810.9 852.5,803.9 852.7,810.8 852.9,810.8 853.1,813.9 853.3,811.3 853.5,814.7 853.8,808.2 854,812.3 854.2,807.9 854.4,808.9 854.6,814.6 854.8,810 855,822.2 855.2,825 855.4,809.4 855.6,818.9 855.9,800.7 856.1,819.5 856.3,806.2 856.5,811.1 856.7,816 856.9,808.8 857.1,821.1 857.3,806.3 857.5,812 857.7,812.7 858,814.6 858.2,806.7 858.4,807.2 858.6,820.7 858.8,805.3 859,813.3 859.2,812.6 859.4,812.8 859.6,811.3 859.9,810.1 860.1,796.3 860.3,812.7 860.5,815.1 860.7,812.9 860.9,820.5 861.1,810.8 861.3,811.1 861.5,819 861.7,816.3 862,825.2 862.2,805.9 862.4,811 862.6,811.2 862.8,819.2 863,825.7 863.2,813 863.4,811 863.6,817.7 863.8,816.6 864.1,812.4 864.3,815 864.5,812.8 864.7,812 864.9,814.6 865.1,821.4 865.3,814 865.5,823.6 865.7,819.1 865.9,821.9 866.2,830.1 866.4,810.3 866.6,822.9 866.8,816.4 867,810.1 867.2,818.2 867.4,815.8 867.6,822.5 867.8,815.6 868.1,810.1 868.3,817.7 868.5,812.7 868.7,819.6 868.9,820.1 869.1,819.6 869.3,818.3 869.5,821.6 869.7,813.7 869.9,824 870.2,818.2 870.4,813.5 870.6,819.4 870.8,822 871,815.4 871.2,820.3 871.4,810.3 871.6,807.6 871.8,813.9 872,813.5 872.3,803.8 872.5,809.4 872.7,815.7 872.9,814.4 873.1,808.1 873.3,814.2 873.5,801.7 873.7,804.8 873.9,803.9 874.1,809.4 874.4,801.6 874.6,811.8 874.8,804.3 875,800.5 875.2,806.2 875.4,797.8 875.6,802.2 875.8,813.7 876,802.5 876.3,815.2 876.5,808.4 876.7,806.8 876.9,813 877.1,812.8 877.3,807.7 877.5,809.3 877.7,801.7 877.9,812.9 878.1,815.6 878.4,815.7 878.6,805 878.8,806.5 879,806.3 879.2,808.7 879.4,818 879.6,820.4 879.8,809.1 880,809.3 880.2,806.3 880.5,812.4 880.7,809.4 880.9,804.6 881.1,811 881.3,801.8 881.5,799.9 881.7,806.4 881.9,806.8 882.1,809.9 882.3,812.9 882.6,819.9 882.8,810.8 883,811.8 883.2,818.8 883.4,810.5 883.6,814.5 883.8,809.6 884,802.7 884.2,806.4 884.5,818.1 884.7,805.4 884.9,806.9 885.1,808.6 885.3,809.2 885.5,809.4 885.7,813.9 885.9,813.9 886.1,808.2 886.3,812.7 886.6,812.7 886.8,814.6 887,820.2 887.2,822.3 887.4,811.3 887.6,811.2 887.8,811.9 888,810.4 888.2,814.9 888.4,817.3 888.7,818.7 888.9,809.9 889.1,802.3 889.3,805.6 889.5,813.7 889.7,812.7 889.9,810 890.1,809.9 890.3,813.2 890.5,808.2 890.8,813.8 891,808.3 891.2,812.2 891.4,799.5 891.6,807.1 891.8,815.9 892,807.8 892.2,804.4 892.4,796.3 892.7,808.6 892.9,802.1 893.1,798.8 893.3,814.9 893.5,806.4 893.7,809.1 893.9,810.1 894.1,816.6 894.3,814.2 894.5,810.4 894.8,811 895,808.3 895.2,811.7 895.4,806.8 895.6,805.7 895.8,802.9 896,811.5 896.2,805.5 896.4,804.9 896.6,798.2 896.9,808.2 897.1,802.4 897.3,814.3 897.5,802.4 897.7,804.4 897.9,812.3 898.1,817.9 898.3,818.1 898.5,811.4 898.7,809.7 899,811.8 899.2,805.2 899.4,815.4 899.6,798.8 899.8,812.1 900,805.9 900.2,803 900.4,808.8 900.6,808.4 900.9,799.3 901.1,805.1 901.3,807.4 901.5,806.5 901.7,807.6 901.9,810.6 902.1,815.9 902.3,813.1 902.5,811.7 902.7,809.6 903,812.4 903.2,813.2 903.4,815.4 903.6,811.8 903.8,812.7 904,818.6 904.2,813.6 904.4,819.3 904.6,821.7 904.8,815.9 905.1,816.6 905.3,814.9 905.5,817.3 905.7,816.6 905.9,821.7 906.1,823.3 906.3,813.7 906.5,809.1 906.7,810.8 906.9,808 907.2,815.8 907.4,807.6 907.6,815.5 907.8,825.5 908,819 908.2,809.4 908.4,814.7 908.6,813.8 908.8,808.9 909.1,808.6 909.3,815.7 909.5,803.9 909.7,801.1 909.9,804.8 910.1,806.3 910.3,808.5 910.5,812.4 910.7,811.5 910.9,803.2 911.2,807.3 911.4,813.1 911.6,809.5 911.8,808.7 912,801.1 912.2,809.9 912.4,805.3 912.6,818.5 912.8,806.6 913,808.2 913.3,811.7 913.5,815.1 913.7,808.6 913.9,811.7 914.1,805.5 914.3,799.3 914.5,806.1 914.7,809.4 914.9,808.8 915.1,811.1 915.4,805.7 915.6,814.9 915.8,807.3 916,801.6 916.2,807.2 916.4,807.1 916.6,814.5 916.8,813.2 917,810.9 917.3,812.5 917.5,812.9 917.7,802.7 917.9,814.3 918.1,808.7 918.3,807.8 918.5,806.7 918.7,808.2 918.9,814 919.1,806.5 919.4,814.7 919.6,813.8 919.8,809.7 920,812.9 920.2,822.4 920.4,819.4 920.6,823.7 920.8,824.3 921,810.9 921.2,817.1 921.5,816.4 921.7,811.1 921.9,816.5 922.1,809.5 922.3,814.4 922.5,807 922.7,808.9 922.9,805 923.1,796.2 923.3,807.1 923.6,811.9 923.8,806 924,804.8 924.2,807.7 924.4,802.5 924.6,807.4 924.8,812.1 925,804.1 925.2,808.6 925.5,815.5 925.7,815.5 925.9,812.4 926.1,821.9 926.3,820.9 926.5,818.9 926.7,811.4 926.9,821.5 927.1,810.5 927.3,804 927.6,815.3 927.8,799 928,810.1 928.2,809.3 928.4,804.1 928.6,804.2 928.8,802.3 929,803.2 929.2,814.7 929.4,811.6 929.7,796.3 929.9,800.9 930.1,803.3 930.3,805.1 930.5,811 930.7,803.4 930.9,797.8 931.1,806.8 931.3,802.5 931.5,805 931.8,809.2 932,810.2 932.2,816.1 932.4,802.8 932.6,813.8 932.8,813.2 933,803.4 933.2,807.7 933.4,812.5 933.6,811.1 933.9,824.8 934.1,812.6 934.3,810.2 934.5,817.3 934.7,812.9 934.9,808.3 935.1,810.6 935.3,812.8 935.5,806.4 935.8,807.6 936,816.6 936.2,812.8 936.4,814.7 936.6,817.1 936.8,823 937,818.1 937.2,801.9 937.4,815.2 937.6,810.7 937.9,804.7 938.1,809.8 938.3,806.2 938.5,807.8 938.7,807.6 938.9,809.3 939.1,814.2 939.3,813.1 939.5,811.8 939.7,806 940,809.9 940.2,814.8 940.4,817.8 940.6,827.6 940.8,819.4 941,810.2 941.2,809.5 941.4,809.5 941.6,812.9 941.8,803.5 942.1,817.8 942.3,804 942.5,805 942.7,812.1 942.9,810.3 943.1,804 943.3,813.3 943.5,804.1 943.7,806.5 944,814.1 944.2,818.2 944.4,806 944.6,804 944.8,804.3 945,815.5 945.2,810 945.4,817.4 945.6,812.7 945.8,808.6 946.1,815.4 946.3,809.4 946.5,807.7 946.7,811.1 946.9,814.9 947.1,801.5 947.3,803.8 947.5,807.2 947.7,800 947.9,802 948.2,801.1 948.4,810.5 948.6,807.4 948.8,803.7 949,810.5 949.2,804.2 949.4,806.2 949.6,805.4 949.8,806.6 950,813.1 950.3,811 950.5,803.1 950.7,811.3 950.9,812.9 951.1,806.1 951.3,805.9 951.5,810.5 951.7,807.1 951.9,811.9 952.2,810.9 952.4,808.8 952.6,805.9 952.8,809.3 953,805.3 953.2,799.7 953.4,809.1 953.6,799.4 953.8,799 954,797.7 954.3,818.2 954.5,801.3 954.7,814 954.9,816.1 955.1,811.6 955.3,815.5 955.5,806.3 955.7,803.6 955.9,805.7 956.1,811.8 956.4,818.1 956.6,816.3 956.8,815.3 957,807.4 957.2,814.1 957.4,821.7 957.6,817.6 957.8,812 958,811.3 958.2,818.1 958.5,821.2 958.7,823.2 958.9,819.3 959.1,813 959.3,821.5 959.5,808.1 959.7,816.1 959.9,806.5 960.1,811.4 960.4,810 960.6,811.1 960.8,814.1 961,819.8 961.2,819.5 961.4,818.8 961.6,816.2 961.8,809.2 962,826.3 962.2,824.3 962.5,823.4 962.7,816.2 962.9,827.1 963.1,806.6 963.3,816.2 963.5,813.6 963.7,812.4 963.9,811.1 964.1,818.7 964.3,816.9 964.6,818.5 964.8,817.7 965,819.2 965.2,808.2 965.4,817.3 965.6,811.9 965.8,805.2 966,808.6 966.2,812.2 966.4,813.5 966.7,817 966.9,807.7 967.1,808.5 967.3,810.9 967.5,813.4" fill="none" stroke="#cf9a3e" stroke-width="1.5" stroke-linejoin="round"/>
<polyline points="547,786.8 547.3,765.2 547.5,760 547.8,765.7 548.1,756.6 548.3,747.1 548.6,756.2 548.8,758.7 549.1,739.6 549.4,743.1 549.6,734.5 549.9,746.9 550.2,741.2 550.4,737.4 550.7,748.9 550.9,723.1 551.2,734.2 551.5,747.6 551.7,732.6 552,751.5 552.3,743.6 552.5,739.4 552.8,750.3 553,750.7 553.3,760.5 553.6,755.7 553.8,756.9 554.1,774.2 554.4,784.1 554.6,756.1 554.9,767.7 555.1,772.1 555.4,783.4 555.7,780.9 555.9,785.3 556.2,788.2 556.5,782.1 556.7,786.9 557,797.8 557.2,800.4 557.5,799.4 557.8,794.5 558,803.2 558.3,804.9 558.6,803.5 558.8,798 559.1,800.6 559.4,810.3 559.6,817.5 559.9,818.2 560.1,799.5 560.4,805 560.7,784.9 560.9,792.5 561.2,779.8 561.5,781 561.7,775.9 562,782 562.2,773.5 562.5,776.1 562.8,767.5 563,777 563.3,764.2 563.6,765.5 563.8,753 564.1,756.7 564.3,774.1 564.6,760.1 564.9,762.7 565.1,770 565.4,769.6 565.7,756.3 565.9,761.7 566.2,761.1 566.4,761.9 566.7,783.3 567,770 567.2,767.6 567.5,756.8 567.8,769.6 568,763.7 568.3,756.7 568.6,772.4 568.8,759.7 569.1,773.6 569.3,769.5 569.6,780 569.9,787.9 570.1,774 570.4,770.2 570.7,786.3 570.9,784.4 571.2,777.9 571.4,778.1 571.7,792.1 572,779.5 572.2,792.4 572.5,792.2 572.8,780.2 573,798 573.3,788.2 573.5,780.4 573.8,789 574.1,788.6 574.3,795.4 574.6,771.7 574.9,787.4 575.1,785.4 575.4,783.6 575.6,772.2 575.9,764.3 576.2,768.6 576.4,767 576.7,769.9 577,762.3 577.2,768.1 577.5,775.9 577.7,779 578,772.9 578.3,758.5 578.5,765.3 578.8,759.6 579.1,760.8 579.3,748.6 579.6,759.8 579.9,761.1 580.1,764.5 580.4,760.1 580.6,768.4 580.9,765.2 581.2,760.3 581.4,773.3 581.7,760.2 582,764 582.2,756.1 582.5,768.4 582.7,766.1 583,769.8 583.3,770.3 583.5,761.4 583.8,786 584.1,765.6 584.3,776.1 584.6,771 584.8,790.6 585.1,770.7 585.4,790.6 585.6,791.7 585.9,797.4 586.2,782.4 586.4,784.1 586.7,784.8 586.9,803.5 587.2,799.2 587.5,802.7 587.7,805.5 588,804.3 588.3,812.6 588.5,796.9 588.8,794.8 589,800.3 589.3,800.2 589.6,784.7 589.8,800.7 590.1,792.7 590.4,797.3 590.6,789.6 590.9,785.4 591.2,793.9 591.4,801.1 591.7,781.6 591.9,791.9 592.2,781.7 592.5,798.6 592.7,800.5 593,794.1 593.3,784.3 593.5,796.6 593.8,791.1 594,781.4 594.3,795 594.6,793.4 594.8,789.7 595.1,787.1 595.4,783.1 595.6,777.1 595.9,786.4 596.1,771.9 596.4,786.4 596.7,772.6 596.9,774.7 597.2,768.1 597.5,782.2 597.7,781.8 598,770.3 598.2,792.5 598.5,773.7 598.8,791.9 599,777.9 599.3,777.3 599.6,781.5 599.8,785.8 600.1,786.4 600.4,772.7 600.6,782.6 600.9,778.7 601.1,772.3 601.4,762.9 601.7,780.8 601.9,776.7 602.2,773.5 602.5,780.9 602.7,790 603,789 603.2,783.5 603.5,786.1 603.8,785.2 604,777.5 604.3,783.8 604.6,790.9 604.8,788 605.1,796.2 605.3,789.1 605.6,774.5 605.9,794.3 606.1,786.5 606.4,793 606.7,789.6 606.9,791.3 607.2,806.2 607.4,796.9 607.7,799.7 608,801.8 608.2,799.4 608.5,798.5 608.8,804 609,808.7 609.3,801 609.5,814.6 609.8,817.1 610.1,809.4 610.3,796.1 610.6,805.7 610.9,804.6 611.1,806.2 611.4,812.4 611.7,808.5 611.9,813.1 612.2,799 612.4,815.6 612.7,797.5 613,799.2 613.2,788.4 613.5,798 613.8,786.1 614,788.3 614.3,782.5 614.5,800.3 614.8,796.6 615.1,801.2 615.3,794 615.6,787.9 615.9,798.9 616.1,800.8 616.4,791 616.6,800.1 616.9,798.9 617.2,799.6 617.4,808.3 617.7,809.6 618,799 618.2,808.3 618.5,801.7 618.7,791.7 619,792.6 619.3,782.4 619.5,794.7 619.8,783.5 620.1,787 620.3,775 620.6,781.4 620.9,781.2 621.1,775.6 621.4,780.6 621.6,776.1 621.9,797.3 622.2,785.2 622.4,761.7 622.7,767.4 623,775.8 623.2,761.6 623.5,760.8 623.7,791.9 624,771.1 624.3,758.9 624.5,774.4 624.8,759.4 625.1,763.7 625.3,768 625.6,775.6 625.8,764.1 626.1,768.5 626.4,766.9 626.6,761.3 626.9,781.6 627.2,774.2 627.4,760.7 627.7,772.5 627.9,771.6 628.2,772.7 628.5,780.5 628.7,769.4 629,775.5 629.3,765.4 629.5,779 629.8,768.9 630,767.8 630.3,770.3 630.6,760.8 630.8,766.5 631.1,772.9 631.4,764 631.6,770.3 631.9,760.7 632.2,756.8 632.4,770.5 632.7,775.2 632.9,756.1 633.2,762.8 633.5,749 633.7,772.9 634,780.6 634.3,763.3 634.5,763.3 634.8,762.5 635,761.4 635.3,765.6 635.6,769.5 635.8,773 636.1,766.2 636.4,782.6 636.6,788.1 636.9,771.5 637.1,771.2 637.4,779.3 637.7,776.6 637.9,770.8 638.2,776.2 638.5,773.1 638.7,759.8 639,760.2 639.2,761.9 639.5,787.8 639.8,786.4 640,773.5 640.3,782.6 640.6,783.2 640.8,779.5 641.1,765.3 641.3,769.9 641.6,763.2 641.9,774.6 642.1,768.6 642.4,774.7 642.7,772.1 642.9,766.7 643.2,781.1 643.5,783.4 643.7,784.7 644,786.9 644.2,792.2 644.5,801 644.8,779.9 645,766.5 645.3,773.6 645.6,763.3 645.8,777 646.1,774.5 646.3,776.9 646.6,762.2 646.9,770.2 647.1,768.2 647.4,772.8 647.7,782.1 647.9,788 648.2,788.7 648.4,781.5 648.7,790.2 649,778.4 649.2,767.9 649.5,776.3 649.8,769.2 650,769.8 650.3,783.6 650.5,756.2 650.8,776.9 651.1,784.2 651.3,777.3 651.6,777.9 651.9,766.4 652.1,771.1 652.4,756 652.7,769.2 652.9,762.7 653.2,751.9 653.4,769.2 653.7,763.6 654,759.4 654.2,769.6 654.5,762.1 654.8,767.4 655,754.2 655.3,748.6 655.5,770 655.8,779.6 656.1,762.7 656.3,775.2 656.6,755.5 656.9,759.6 657.1,763.2 657.4,767.5 657.6,756.9 657.9,764.8 658.2,763.5 658.4,777.9 658.7,776.3 659,764.7 659.2,775.2 659.5,767.7 659.7,781.2 660,767.9 660.3,759.2 660.5,785.7 660.8,758 661.1,776.6 661.3,764.4 661.6,778.8 661.8,780.4 662.1,786.2 662.4,791.3 662.6,774 662.9,770.4 663.2,790.6 663.4,776.6 663.7,768.6 664,780.7 664.2,787.9 664.5,783.7 664.7,773.5 665,770 665.3,780.5 665.5,785.2 665.8,774.9 666.1,780.2 666.3,797.5 666.6,778.8 666.8,789.6 667.1,783.2 667.4,787 667.6,796.5 667.9,797.4 668.2,789.6 668.4,786.6 668.7,792.9 668.9,787.2 669.2,791.7 669.5,786.1 669.7,803.1 670,782.9 670.3,786.9 670.5,792.7 670.8,784.8 671,785.1 671.3,773.2 671.6,794 671.8,786.3 672.1,782.1 672.4,783 672.6,774.4 672.9,781.9 673.1,765.1 673.4,777.1 673.7,780.3 673.9,777.1 674.2,766.7 674.5,791.1 674.7,778.3 675,770.7 675.3,785.9 675.5,773 675.8,780 676,780.5 676.3,780.8 676.6,790.8 676.8,789.3 677.1,795.1 677.4,806.6 677.6,799.2 677.9,780.2 678.1,791.5 678.4,792.7 678.7,782.4 678.9,798.2 679.2,797.7 679.5,778.9 679.7,778.8 680,790.6 680.2,803.2 680.5,788.9 680.8,797.5 681,789.6 681.3,795.8 681.6,795.5 681.8,791.2 682.1,805 682.3,793.4 682.6,797.9 682.9,789.3 683.1,769.7 683.4,791.2 683.7,786.2 683.9,781.5 684.2,785.2 684.5,792.6 684.7,793.4 685,791.9 685.2,791.4 685.5,793.5 685.8,791.8 686,806 686.3,806.4 686.6,809.1 686.8,794.1 687.1,795.8 687.3,798 687.6,781.2 687.9,817.9 688.1,802.6 688.4,806.3 688.7,805 688.9,814.9 689.2,802.6 689.4,801.4 689.7,800.4 690,790.9 690.2,784 690.5,792.5 690.8,809.5 691,801.9 691.3,804.9 691.5,797.7 691.8,814.4 692.1,793.5 692.3,794.3 692.6,791.4 692.9,786.1 693.1,799.1 693.4,803.7 693.6,798.4 693.9,779.8 694.2,787.7 694.4,794.5 694.7,788.7 695,789.9 695.2,784.6 695.5,790.6 695.8,788.6 696,781.7 696.3,800.9 696.5,793.1 696.8,774.7 697.1,789 697.3,781.5 697.6,778.7 697.9,777.3 698.1,778.8 698.4,778 698.6,790.7 698.9,794.8 699.2,801.5 699.4,788.3 699.7,787.8 700,779.2 700.2,778.8 700.5,767.4 700.7,773.9 701,785.2 701.3,778.4 701.5,774.2 701.8,766.6 702.1,763.9 702.3,789.7 702.6,767.3 702.8,770.3 703.1,769.6 703.4,781.1 703.6,791.1 703.9,814.8 704.2,822.7 704.4,831.4 704.7,833.6 705,872.6 705.2,869.9 705.5,870.2 705.7,871.5 706,869.7 706.3,866.5 706.5,872.3 706.8,872.1 707.1,868.9 707.3,868.6 707.6,867.6 707.8,869 708.1,870.5 708.4,869 708.6,869.6 708.9,870.2 709.2,873.6 709.4,869.5 709.7,867 709.9,870.1 710.2,870.6 710.5,868.8 710.7,868.5 711,867.1 711.3,866.7 711.5,870.1 711.8,867 712,869 712.3,870.8 712.6,873.5 712.8,870.2 713.1,869.6 713.4,868.9 713.6,870.4 713.9,869 714.1,868.2 714.4,869.7 714.7,871.1 714.9,867.4 715.2,867.8 715.5,869.2 715.7,868.3 716,866.5 716.3,868.2 716.5,869.4 716.8,868.4 717,868.3 717.3,866.6 717.6,869.7 717.8,866.1 718.1,868.3 718.4,868.2 718.6,871.5 718.9,870.3 719.1,871.8 719.4,870.5 719.7,868.5 719.9,871 720.2,871 720.5,873.2 720.7,871.5 721,872.8 721.2,873.4 721.5,874.4 721.8,868.8 722,871.4 722.3,870.3 722.6,871.5 722.8,871.6 723.1,871.2 723.3,869.8 723.6,867.3 723.9,868.2 724.1,869.6 724.4,867.6 724.7,866.5 724.9,870.4 725.2,872.6 725.4,870.5 725.7,869.4 726,869.4 726.2,868.2 726.5,869.6 726.8,870.2 727,871.6 727.3,869.1 727.6,871.1 727.8,867.2 728.1,871.7 728.3,873 728.6,872.7 728.9,871.7 729.1,871.6 729.4,870.2 729.7,867.4 729.9,869 730.2,871.2 730.4,868.3 730.7,865.9 731,868.6 731.2,866.2 731.5,867.9 731.8,869.2 732,864.2 732.3,866.8 732.5,868.9 732.8,868.1 733.1,869.9 733.3,870.8 733.6,869.2 733.9,869.4 734.1,869.4 734.4,868.4 734.6,870.9 734.9,869.5 735.2,866.6 735.4,871.8 735.7,869.8 736,865.8 736.2,869.5 736.5,870.5 736.8,869.7 737,871.3 737.3,870.5 737.5,875.1 737.8,872.2 738.1,873.8 738.3,868.6 738.6,872.6 738.9,873.5 739.1,870.5 739.4,870.7 739.6,868.2 739.9,869.7 740.2,871.4 740.4,871.1 740.7,871.4 741,871.1 741.2,870.6 741.5,872.4 741.7,873.8 742,869.9 742.3,870.2 742.5,873.1 742.8,870.7 743.1,870.9 743.3,869 743.6,870.5 743.8,873.5 744.1,873.9 744.4,871.4 744.6,871.9 744.9,874 745.2,868 745.4,870.4 745.7,869.9 745.9,867 746.2,871.8 746.5,869.8 746.7,870.5 747,868.2 747.3,866.9 747.5,869.1 747.8,868.8 748.1,869 748.3,867.8 748.6,866.6 748.8,869.7 749.1,867.6 749.4,867.2 749.6,868 749.9,870.4 750.2,863.8 750.4,867.9 750.7,868.5 750.9,868.7 751.2,870.7 751.5,869.3 751.7,866.7 752,868 752.3,869.1 752.5,869 752.8,871.4 753,867.3 753.3,869 753.6,870.9 753.8,863.7 754.1,865.6 754.4,866.5 754.6,866.7 754.9,867.3 755.1,867.7 755.4,865.2 755.7,866.8 755.9,866.4 756.2,870.5 756.5,870.6 756.7,866.9 757,869 757.2,871.1 757.5,865.5 757.8,867.5 758,870.9 758.3,870.1 758.6,870.1 758.8,874.2 759.1,869.2 759.4,869.4 759.6,869.9 759.9,870.8 760.1,873.8 760.4,869.7 760.7,867.4 760.9,871.2 761.2,868.8 761.5,870.9 761.7,870.6 762,870.5 762.2,868.9 762.5,867.2 762.8,868.9 763,871.6 763.3,871.1 763.6,870.6 763.8,868.5 764.1,866.9 764.3,871.8 764.6,872.9 764.9,868.8 765.1,874.4 765.4,872.3 765.7,872.3 765.9,872.1 766.2,874.3 766.4,873.2 766.7,871.2 767,870.9 767.2,868.6 767.5,868.6 767.8,871.7 768,873.7 768.3,869 768.6,869.1 768.8,869.1 769.1,869.2 769.3,871 769.6,866 769.9,868.8 770.1,869.4 770.4,871.1 770.7,869 770.9,872.2 771.2,866.5 771.4,870.1 771.7,870.2 772,867.1 772.2,867.2 772.5,866 772.8,867.4 773,872 773.3,868.2 773.5,869.9 773.8,868.8 774.1,868.9 774.3,871.1 774.6,867.9 774.9,870.1 775.1,871.7 775.4,870.2 775.6,865.1 775.9,871 776.2,869.1 776.4,869.9 776.7,868.5 777,869.3 777.2,867 777.5,867.4 777.7,868.7 778,866 778.3,869.5 778.5,872.2 778.8,866.5 779.1,866.7 779.3,870.2 779.6,866 779.9,871.8 780.1,871.6 780.4,869.2 780.6,870.3 780.9,868.6 781.2,868.2 781.4,870.8 781.7,870.4 782,870.8 782.2,866.4 782.5,869.8 782.7,867.1 783,867.6 783.3,864.7 783.5,869.4 783.8,869.3 784.1,866 784.3,868 784.6,871.2 784.8,871.5 785.1,869.2 785.4,868.7 785.6,872.2 785.9,869.3 786.2,871.5 786.4,873.7 786.7,868.1 786.9,870.8 787.2,869.4 787.5,872.1 787.7,871.3 788,872.5 788.3,870.2 788.5,869.6 788.8,869.2 789.1,866.5 789.3,871.3 789.6,870.7 789.8,868.9 790.1,872.9 790.4,871.1 790.6,867.2 790.9,871.5 791.2,872.2 791.4,868.6 791.7,870.4 791.9,867.1 792.2,868.5 792.5,870.6 792.7,867.8 793,871.2 793.3,869.6 793.5,871.9 793.8,869.5 794,872.1 794.3,870.9 794.6,869.5 794.8,873.1 795.1,872.7 795.4,872.6 795.6,873.2 795.9,871.5 796.1,870.3 796.4,869.3 796.7,870.9 796.9,872.2 797.2,871.8 797.5,867.5 797.7,870.4 798,868.5 798.2,869.9 798.5,869.5 798.8,872.9 799,867.7 799.3,870.1 799.6,873.3 799.8,870.1 800.1,872.7 800.4,872.4 800.6,870.6 800.9,872.2 801.1,871.7 801.4,871 801.7,872.6 801.9,871.4 802.2,871.2 802.5,871.6 802.7,875.3 803,871 803.2,873.6 803.5,871.5 803.8,867.8 804,872.1 804.3,868.3 804.6,871.9 804.8,877.6 805.1,870.5 805.3,871.6 805.6,869.5 805.9,870.4 806.1,870 806.4,868.5 806.7,872.7 806.9,870 807.2,870.7 807.4,871.5 807.7,871.5 808,873.2 808.2,872.5 808.5,870.4 808.8,869.3 809,870 809.3,869.9 809.5,871.7 809.8,868.5 810.1,868.9 810.3,868.8 810.6,870.9 810.9,869.6 811.1,869.5 811.4,872.2 811.7,875 811.9,868.5 812.2,869.2 812.4,866 812.7,870.1 813,866.4 813.2,868.7 813.5,870.2 813.8,868.8 814,865.5 814.3,866.7 814.5,866.3 814.8,867.3 815.1,868.7 815.3,868.6 815.6,871.1 815.9,871.4 816.1,870.1 816.4,870.1 816.6,870.4 816.9,871.6 817.2,868.9 817.4,868 817.7,871.6 818,869.5 818.2,870.1 818.5,868.4 818.7,869.7 819,869.9 819.3,867 819.5,867.8 819.8,871 820.1,868.3 820.3,871 820.6,868.9 820.9,866.2 821.1,865.2 821.4,868.8 821.6,869.9 821.9,868.1 822.2,872.6 822.4,874.2 822.7,868.6 823,870.6 823.2,866.8 823.5,869.9 823.7,871.4 824,870.5 824.3,871.3 824.5,872.2 824.8,872.5 825.1,866.9 825.3,865.9 825.6,871 825.8,869.9 826.1,871.4 826.4,871.1 826.6,871.8 826.9,870.9 827.2,871.4 827.4,871.7 827.7,870.4 827.9,869.8 828.2,870.1 828.5,871.6 828.7,872 829,873 829.3,872.6 829.5,869.8 829.8,872.7 830,876.2 830.3,869.2 830.6,868.1 830.8,869.8 831.1,871.3 831.4,870.1 831.6,869.4 831.9,869.9 832.2,871.9 832.4,870.7 832.7,873.2 832.9,871.4 833.2,871.6 833.5,869 833.7,869.6 834,869 834.3,868.5 834.5,870 834.8,871.1 835,868.3 835.3,873.7 835.6,869.2 835.8,867.2 836.1,868 836.4,866.9 836.6,866.8 836.9,869.4 837.1,869.1 837.4,867.4 837.7,872.1 837.9,870.2 838.2,867.3 838.5,872.3 838.7,869.3 839,868.3 839.2,869.3 839.5,869.3 839.8,868.5 840,868 840.3,869.4 840.6,871.6 840.8,868.9 841.1,868.6 841.4,869 841.6,872.1 841.9,872.6 842.1,870.8 842.4,868.8 842.7,869.6 842.9,871.3 843.2,872.2 843.5,871.1 843.7,870.5 844,869.7 844.2,873.3 844.5,871.2 844.8,871.1 845,869.4 845.3,868.8 845.6,871.8 845.8,871.5 846.1,869.9 846.3,868.4 846.6,871 846.9,870.6 847.1,868.6 847.4,870.8 847.7,869.3 847.9,871.6 848.2,870.7 848.4,871.2 848.7,872.1 849,869.8 849.2,871.7 849.5,870.7 849.8,871.5 850,873 850.3,870.3 850.5,868 850.8,869.2 851.1,869.8 851.3,869.3 851.6,871.4 851.9,866.3 852.1,870.1 852.4,870 852.7,868.6 852.9,868.8 853.2,869.3 853.4,869.6 853.7,867.1 854,872 854.2,872 854.5,869.5 854.8,868.7 855,869.1 855.3,870.2 855.5,867.1 855.8,870.8 856.1,867.8 856.3,868.1 856.6,871 856.9,871.5 857.1,869.2 857.4,870.1 857.6,871.2 857.9,870 858.2,867.7 858.4,867.8 858.7,864.6 859,869.7 859.2,866.3 859.5,870.7 859.7,872.1 860,869 860.3,868.3 860.5,869.8 860.8,868.8 861.1,871.2 861.3,868.5 861.6,870.9 861.8,872.9 862.1,871.8 862.4,871.9 862.6,870.2 862.9,871.4 863.2,875.6 863.4,870.5 863.7,870.2 864,871.8 864.2,873.9 864.5,869.7 864.7,872.1 865,868.4 865.3,870.5 865.5,869.3 865.8,869.6 866.1,868.2 866.3,870.2 866.6,866.8 866.8,871.1 867.1,869.6 867.4,867.6 867.6,870.3 867.9,867.1 868.2,873.6 868.4,873.7 868.7,872.8 868.9,871.2 869.2,872.2 869.5,866.5 869.7,870.5 870,872.6 870.3,868.6 870.5,869.7 870.8,872.7 871,871 871.3,869.5 871.6,868.7 871.8,869.9 872.1,867.3 872.4,869.5 872.6,866.7 872.9,872.5 873.2,872.2 873.4,868.9 873.7,872.3 873.9,871.6 874.2,873.1 874.5,869.6 874.7,872.1 875,868.7 875.3,874.2 875.5,872.6 875.8,870.4 876,870 876.3,870.8 876.6,871.4 876.8,869.8 877.1,870 877.4,869.8 877.6,870.2 877.9,868.3 878.1,868.8 878.4,868.4 878.7,866.9 878.9,866.3 879.2,867 879.5,869.3 879.7,869.6 880,871.8 880.2,867.7 880.5,868.9 880.8,866.9 881,867.4 881.3,868.8 881.6,869.3 881.8,870.1 882.1,867.2 882.3,870.9 882.6,871.9 882.9,868.9 883.1,866.1 883.4,869.7 883.7,869 883.9,870 884.2,869.5 884.5,871.1 884.7,869.6 885,872.3 885.2,869.6 885.5,871.4 885.8,868.7 886,877.3 886.3,869.2 886.6,873.2 886.8,873.2 887.1,873.4 887.3,870 887.6,872.1 887.9,874.9 888.1,873.5 888.4,868.5 888.7,870 888.9,871 889.2,872 889.4,870.4 889.7,870.9 890,873.3 890.2,869.3 890.5,868.7 890.8,868.8 891,870.6 891.3,870.9 891.5,871.5 891.8,871.3 892.1,868.3 892.3,869.5 892.6,870.2 892.9,872.4 893.1,871.9 893.4,871.2 893.6,870.4 893.9,868.7 894.2,870.7 894.4,870.2 894.7,872.4 895,869.6 895.2,865.1 895.5,869.2 895.8,869.1 896,870.2 896.3,870.4 896.5,870.5 896.8,869.1 897.1,871.3 897.3,870.8 897.6,875 897.9,870.3 898.1,869.8 898.4,875.8 898.6,871.9 898.9,872.6 899.2,871.5 899.4,872.2 899.7,866 900,870.4 900.2,869.9 900.5,871 900.7,869.6 901,870.9 901.3,871.7 901.5,868 901.8,874 902.1,869.6 902.3,872 902.6,872.2 902.8,871.5 903.1,873.1 903.4,873.6 903.6,871.9 903.9,871.6 904.2,870.6 904.4,871.1 904.7,868.8 905,868.1 905.2,871.3 905.5,868 905.7,873.6 906,871.6 906.3,871.6 906.5,876.8 906.8,875.4 907.1,870.8 907.3,871.1 907.6,871.9 907.8,869.2 908.1,871.7 908.4,871.1 908.6,874.2 908.9,874.4 909.2,871.1 909.4,868.8 909.7,869.3 909.9,867.7 910.2,870.8 910.5,871.1 910.7,871.6 911,869.8 911.3,869.6 911.5,871 911.8,865.9 912,870.4 912.3,871.6 912.6,869.8 912.8,871.8 913.1,869.5 913.4,869.7 913.6,867.8 913.9,867.7 914.1,867.6 914.4,868.8 914.7,868.3 914.9,867.7 915.2,867.2 915.5,869.2 915.7,866.1 916,866.9 916.3,866.9 916.5,868.4 916.8,865.5 917,866.1 917.3,866.6 917.6,867.2 917.8,867.6 918.1,870.4 918.4,867.1 918.6,868.1 918.9,864 919.1,869.2 919.4,873 919.7,867.4 919.9,870.3 920.2,870.7 920.5,868.6 920.7,867.1 921,869.6 921.2,870.9 921.5,869 921.8,868.2 922,870.3 922.3,871.2 922.6,869.9 922.8,867.9 923.1,873 923.3,872.6 923.6,870.6 923.9,874 924.1,872 924.4,869.7 924.7,869.2 924.9,867.7 925.2,871.4 925.5,870.9 925.7,867.4 926,865.7 926.2,867.3 926.5,866.3 926.8,868.5 927,872.1 927.3,867.4 927.6,870.5 927.8,872.5 928.1,870.1 928.3,869.8 928.6,869.4 928.9,870.7 929.1,869.1 929.4,869.4 929.7,870.8 929.9,871.2 930.2,868.4 930.4,868.5 930.7,867.4 931,868.2 931.2,871.5 931.5,870.6 931.8,870.6 932,874.4 932.3,875.3 932.5,869.3 932.8,871.1 933.1,870.4 933.3,868 933.6,868.4 933.9,871.3 934.1,870.6 934.4,869.9 934.6,869.7 934.9,870.5 935.2,870.4 935.4,872.6 935.7,873.5 936,871.8 936.2,871.7 936.5,874.2 936.8,873.2 937,871.6 937.3,871.3 937.5,872.2 937.8,872.8 938.1,868.5 938.3,867.8 938.6,870.9 938.9,867.7 939.1,870.8 939.4,868.8 939.6,871.4 939.9,872 940.2,871.7 940.4,872.2 940.7,869.2 941,874 941.2,872.5 941.5,867.7 941.7,867.8 942,867.6 942.3,867 942.5,867.8 942.8,869.9 943.1,866.7 943.3,870.7 943.6,871.1 943.8,872.6 944.1,869.6 944.4,869.9 944.6,868.2 944.9,867.3 945.2,868.6 945.4,868.7 945.7,868.5 945.9,864.9 946.2,869.6 946.5,869.1 946.7,867.6 947,865.8 947.3,871.5 947.5,869.6 947.8,872 948.1,864.7 948.3,867.5 948.6,868.7 948.8,862.7 949.1,866.3 949.4,864.2 949.6,867 949.9,868.6 950.2,869 950.4,869.6 950.7,870.6 950.9,869.7 951.2,868.3 951.5,868.9 951.7,871.1 952,868.2 952.3,870.9 952.5,871.9 952.8,872.6 953,871.7 953.3,872.5 953.6,873.1 953.8,870.8 954.1,866.9 954.4,868.1 954.6,869.2 954.9,869.2 955.1,865.9 955.4,872.3 955.7,867.6 955.9,867.2 956.2,872.1 956.5,869.4 956.7,869.9 957,869.9 957.3,870.8 957.5,867.5 957.8,869.8 958,870.4 958.3,866.2 958.6,869.7 958.8,867.8 959.1,871.3 959.4,870.7 959.6,872.4 959.9,873.8 960.1,872.4 960.4,870 960.7,873.5 960.9,876.3 961.2,873.4 961.5,872.5 961.7,869.7 962,872.7 962.2,870.6 962.5,870 962.8,871.9 963,869.7 963.3,870.6 963.6,870.9 963.8,869.4 964.1,869 964.3,870 964.6,866.2 964.9,870 965.1,870.7 965.4,870.5 965.7,869.9 965.9,867.9 966.2,868.6 966.4,868.8 966.7,866.4 967,866.8 967.2,868.7 967.5,866.5" fill="none" stroke="#8fb544" stroke-width="1.5" stroke-linejoin="round"/>
<polyline points="547,786.2 547.2,778.3 547.3,787.3 547.5,759.8 547.6,764.5 547.8,753.3 548,750.1 548.1,739 548.3,715 548.5,717.5 548.6,728.7 548.8,711.7 548.9,723.8 549.1,722.9 549.3,694.3 549.4,699 549.6,715.1 549.7,693.4 549.9,692.2 550.1,697.7 550.2,689.5 550.4,696.3 550.6,690.1 550.7,713.2 550.9,692.7 551,689.6 551.2,692.6 551.4,689.8 551.5,713.5 551.7,705.9 551.9,721.5 552,713.3 552.2,721 552.3,729.6 552.5,727.7 552.7,736.8 552.8,715.5 553,749.5 553.1,749.8 553.3,749.6 553.5,770.1 553.6,761.1 553.8,769.4 554,785.3 554.1,766 554.3,760.9 554.4,771.9 554.6,758.5 554.8,788.1 554.9,802.7 555.1,787.4 555.2,782.5 555.4,797.7 555.6,803 555.7,796.4 555.9,812.8 556.1,792.5 556.2,781.8 556.4,803.6 556.5,767.6 556.7,774.9 556.9,803 557,782.1 557.2,771.9 557.4,768.4 557.5,789.1 557.7,782.6 557.8,804.6 558,778 558.2,773.6 558.3,816.2 558.5,789.6 558.6,788.3 558.8,778.6 559,791.5 559.1,775 559.3,775 559.5,788.6 559.6,785.8 559.8,783.2 559.9,784.4 560.1,799.4 560.3,784.4 560.4,784 560.6,776.2 560.7,774.6 560.9,760.6 561.1,775.4 561.2,770.1 561.4,784 561.6,769.1 561.7,767.1 561.9,734 562,785.8 562.2,743.7 562.4,756.3 562.5,770 562.7,765 562.8,754 563,756.5 563.2,722.3 563.3,742.2 563.5,731.6 563.7,753.8 563.8,723.6 564,740.1 564.1,731.6 564.3,716.4 564.5,718.7 564.6,721 564.8,715.6 565,711 565.1,728.6 565.3,709 565.4,729.3 565.6,718.7 565.8,736.2 565.9,715.2 566.1,700.8 566.2,748.4 566.4,715.5 566.6,704.6 566.7,725.5 566.9,724.6 567.1,721.6 567.2,710.3 567.4,713.4 567.5,738.1 567.7,733.9 567.9,726.3 568,715.8 568.2,746.4 568.3,721.7 568.5,721.1 568.7,729.3 568.8,739.7 569,745.2 569.2,715.7 569.3,724.6 569.5,712.4 569.6,727.6 569.8,730.2 570,723.3 570.1,732.3 570.3,729.7 570.5,719.8 570.6,727.8 570.8,741.3 570.9,744.6 571.1,734.6 571.3,732.7 571.4,704 571.6,739.4 571.7,709.5 571.9,724.8 572.1,723 572.2,742.2 572.4,740 572.6,746.1 572.7,722.8 572.9,747.2 573,737.1 573.2,750.3 573.4,726.8 573.5,721.1 573.7,739.7 573.8,745.5 574,725.8 574.2,741.3 574.3,750.3 574.5,739.4 574.7,742.1 574.8,751.5 575,748.7 575.1,745.7 575.3,758.8 575.5,762.9 575.6,778.9 575.8,772.6 575.9,766.4 576.1,763.3 576.3,769.9 576.4,756.5 576.6,755 576.8,725.1 576.9,745.9 577.1,716.4 577.2,738.6 577.4,728.2 577.6,747.5 577.7,717.5 577.9,733.7 578.1,748.4 578.2,746.9 578.4,739.6 578.5,747.8 578.7,734.3 578.9,752.4 579,706.1 579.2,755.5 579.3,761.8 579.5,753.9 579.7,743.7 579.8,737.4 580,729.9 580.2,744.3 580.3,727.6 580.5,731.5 580.6,737.1 580.8,721.4 581,709.4 581.1,723.5 581.3,705.7 581.4,720.6 581.6,713.9 581.8,745.5 581.9,723.1 582.1,746.6 582.3,729.1 582.4,723.9 582.6,708.7 582.7,711.3 582.9,715 583.1,702.7 583.2,716.3 583.4,746.4 583.6,698.9 583.7,711.3 583.9,698.2 584,729.7 584.2,742.8 584.4,733.2 584.5,714.2 584.7,735.1 584.8,747.9 585,734.1 585.2,708.8 585.3,726.7 585.5,714.1 585.7,714.3 585.8,734 586,714 586.1,734.2 586.3,700.9 586.5,727 586.6,741 586.8,736.4 586.9,757.7 587.1,735.9 587.3,747.4 587.4,770.3 587.6,717.1 587.8,764.5 587.9,755.2 588.1,758.7 588.2,778.4 588.4,771.8 588.6,774.6 588.7,785.8 588.9,768.8 589,783.2 589.2,792 589.4,797.3 589.5,800.2 589.7,797.6 589.9,782.3 590,765 590.2,776.4 590.3,780.7 590.5,797.4 590.7,789.3 590.8,794.2 591,791 591.2,822 591.3,780.8 591.5,815.1 591.6,810 591.8,806.9 592,807.1 592.1,797 592.3,790 592.4,805.5 592.6,796.9 592.8,771.9 592.9,812.9 593.1,786 593.3,800.8 593.4,785.3 593.6,780.6 593.7,828.3 593.9,773 594.1,812.6 594.2,790.4 594.4,769.5 594.5,796 594.7,773.3 594.9,797.9 595,803 595.2,765.9 595.4,774.3 595.5,798.6 595.7,770 595.8,794 596,776.7 596.2,786.2 596.3,784.8 596.5,800.7 596.7,784.5 596.8,778.8 597,785 597.1,775.6 597.3,781.5 597.5,793.2 597.6,790.5 597.8,812.5 597.9,764.6 598.1,768.7 598.3,761.5 598.4,775.7 598.6,804.8 598.8,777.5 598.9,798.7 599.1,795.4 599.2,789.6 599.4,795.8 599.6,801.7 599.7,787.6 599.9,786.8 600,787.2 600.2,766.4 600.4,755.7 600.5,769.3 600.7,773.8 600.9,785.5 601,779.6 601.2,775.9 601.3,805.2 601.5,805.9 601.7,758.9 601.8,766.7 602,789.1 602.2,789.8 602.3,772.7 602.5,779.8 602.6,755.6 602.8,770.1 603,789.6 603.1,775.6 603.3,803.8 603.4,807.4 603.6,779.6 603.8,787.5 603.9,789 604.1,769.5 604.3,779.3 604.4,774.1 604.6,781.1 604.7,808.8 604.9,773 605.1,792.2 605.2,802.7 605.4,768 605.5,804.7 605.7,803.6 605.9,781.7 606,796.1 606.2,779.6 606.4,775.4 606.5,782.7 606.7,796.7 606.8,782.7 607,817.3 607.2,806.9 607.3,809.8 607.5,808 607.6,800.4 607.8,779.7 608,789.1 608.1,796.7 608.3,797 608.5,795.3 608.6,780.1 608.8,803.1 608.9,815.3 609.1,779.1 609.3,809.4 609.4,811.5 609.6,800.4 609.8,811.1 609.9,792.9 610.1,820.8 610.2,846.6 610.4,799.6 610.6,823.2 610.7,799.9 610.9,777.6 611,811.4 611.2,794.9 611.4,802.8 611.5,792.6 611.7,784.1 611.9,801.2 612,803.3 612.2,777.2 612.3,819.5 612.5,808.8 612.7,813.4 612.8,772.6 613,785.3 613.1,803.3 613.3,763.5 613.5,786.6 613.6,777.2 613.8,767.4 614,780.6 614.1,794 614.3,785.4 614.4,813.2 614.6,782.3 614.8,779.9 614.9,796.6 615.1,811.6 615.3,798.5 615.4,797.9 615.6,773.2 615.7,798.4 615.9,789 616.1,779.3 616.2,791.1 616.4,788.7 616.5,795.2 616.7,780 616.9,798.3 617,793.7 617.2,793.4 617.4,764 617.5,789.9 617.7,769.1 617.8,785.2 618,759.4 618.2,776.2 618.3,764.3 618.5,768.7 618.6,749.6 618.8,727.8 619,727.6 619.1,745.6 619.3,746.1 619.5,746.1 619.6,753.5 619.8,773.4 619.9,751.1 620.1,751.9 620.3,759.8 620.4,757.8 620.6,738.4 620.7,741.2 620.9,737.8 621.1,739.6 621.2,726.6 621.4,714.3 621.6,723.2 621.7,742.5 621.9,712.7 622,734.1 622.2,739.6 622.4,720.8 622.5,708.5 622.7,706.9 622.9,741.4 623,735.2 623.2,735.7 623.3,751 623.5,733.7 623.7,740.4 623.8,729.6 624,762.4 624.1,711.5 624.3,725.6 624.5,744.3 624.6,738.4 624.8,714.8 625,744.1 625.1,742.7 625.3,728.8 625.4,720.7 625.6,745.1 625.8,724.1 625.9,740.1 626.1,729.6 626.2,766.6 626.4,777.5 626.6,761.9 626.7,748.9 626.9,749.2 627.1,743.3 627.2,745.1 627.4,766.1 627.5,743.6 627.7,750.7 627.9,760.2 628,734 628.2,724.9 628.4,742.8 628.5,742 628.7,731.5 628.8,731.6 629,747.5 629.2,734.1 629.3,739.6 629.5,753.2 629.6,753.4 629.8,748.6 630,752.7 630.1,731.7 630.3,752.9 630.5,712.6 630.6,758.1 630.8,742 630.9,730.8 631.1,743.4 631.3,736.2 631.4,754.4 631.6,759.6 631.7,750.3 631.9,742.4 632.1,738 632.2,774.5 632.4,762 632.6,767.8 632.7,787.3 632.9,783.1 633,763.5 633.2,788.8 633.4,757.5 633.5,777.2 633.7,758.7 633.8,742.6 634,741.8 634.2,745.3 634.3,756.8 634.5,746.2 634.7,779.9 634.8,761.9 635,778.4 635.1,762.9 635.3,772.6 635.5,759.3 635.6,783.7 635.8,755.1 636,786.2 636.1,771.2 636.3,762.5 636.4,755.8 636.6,768.4 636.8,737.9 636.9,763.4 637.1,749.6 637.2,753.5 637.4,750.6 637.6,723 637.7,740.8 637.9,737.2 638.1,772.4 638.2,767.9 638.4,734.8 638.5,745.7 638.7,747.3 638.9,756.7 639,769.9 639.2,742.3 639.3,759.5 639.5,744.5 639.7,749.9 639.8,734.4 640,736.6 640.2,728.7 640.3,742.3 640.5,746.3 640.6,751.8 640.8,726.2 641,737 641.1,746.7 641.3,733.5 641.5,729.1 641.6,735 641.8,751.8 641.9,757.9 642.1,762.6 642.3,750 642.4,766.6 642.6,786.6 642.7,779.8 642.9,782.5 643.1,767.4 643.2,771.1 643.4,763.6 643.6,744.3 643.7,770.9 643.9,788.4 644,753.3 644.2,755.1 644.4,752.7 644.5,743 644.7,724.9 644.8,750 645,718.5 645.2,725.4 645.3,765.4 645.5,768.8 645.7,774.8 645.8,769 646,747.6 646.1,792.2 646.3,797.8 646.5,788.7 646.6,798.6 646.8,791 646.9,799.9 647.1,784 647.3,783 647.4,768.3 647.6,807.4 647.8,811.7 647.9,819.6 648.1,812.7 648.2,827.1 648.4,787.5 648.6,844.9 648.7,809 648.9,804.5 649.1,809.6 649.2,816.3 649.4,808.3 649.5,797 649.7,824.5 649.9,808.5 650,812.3 650.2,769 650.3,804.9 650.5,795.6 650.7,790.5 650.8,804.1 651,815.4 651.2,792.3 651.3,770.4 651.5,796 651.6,790.2 651.8,798.7 652,803.9 652.1,789.5 652.3,775.3 652.4,792.2 652.6,789.2 652.8,790.3 652.9,818.6 653.1,796.5 653.3,772.2 653.4,813.9 653.6,777.9 653.7,832.3 653.9,774.4 654.1,797.9 654.2,768 654.4,772.6 654.6,774.2 654.7,771 654.9,755.1 655,770 655.2,757.8 655.4,774.5 655.5,762.2 655.7,738.5 655.8,749.9 656,761.3 656.2,739 656.3,770.6 656.5,764.3 656.7,778.1 656.8,751.2 657,763.8 657.1,762.8 657.3,754.3 657.5,752.3 657.6,706.1 657.8,746.2 657.9,735.2 658.1,749.5 658.3,737.8 658.4,757.4 658.6,764.3 658.8,761.1 658.9,748.5 659.1,774.9 659.2,754.9 659.4,770.6 659.6,749.2 659.7,746.9 659.9,753.7 660,744.8 660.2,757.6 660.4,747.5 660.5,786.2 660.7,781.3 660.9,778.8 661,792.2 661.2,762.2 661.3,762.5 661.5,759.7 661.7,789 661.8,779.3 662,764.7 662.2,764.5 662.3,795.1 662.5,803.6 662.6,794.3 662.8,802.6 663,795.2 663.1,785 663.3,782.7 663.4,777.4 663.6,796.1 663.8,791.7 663.9,761.4 664.1,783.3 664.3,783.6 664.4,797.4 664.6,803.2 664.7,822.5 664.9,811.8 665.1,810.6 665.2,822.7 665.4,803.4 665.5,789.9 665.7,809.1 665.9,803.2 666,803.7 666.2,823.2 666.4,804.1 666.5,807.5 666.7,805.8 666.8,803.1 667,822.5 667.2,820 667.3,809.6 667.5,800.9 667.7,820.9 667.8,783.1 668,810.9 668.1,788.5 668.3,796.1 668.5,809.7 668.6,789.3 668.8,754.9 668.9,789 669.1,801.2 669.3,810.6 669.4,774.2 669.6,816 669.8,796.7 669.9,792.3 670.1,796.3 670.2,780.1 670.4,782.4 670.6,805.1 670.7,783.1 670.9,769.9 671,787.4 671.2,748.4 671.4,771.5 671.5,758.4 671.7,780.8 671.9,750.9 672,773.7 672.2,770.3 672.3,763 672.5,751.7 672.7,767.3 672.8,784 673,765.2 673.1,753.7 673.3,764.6 673.5,780.8 673.6,734.8 673.8,744.2 674,761 674.1,749.3 674.3,778.1 674.4,756.5 674.6,767.1 674.8,786.9 674.9,784.2 675.1,780.4 675.3,778.2 675.4,804 675.6,772.2 675.7,797.9 675.9,786.8 676.1,762.5 676.2,773.6 676.4,788.2 676.5,780.8 676.7,759.3 676.9,755.7 677,777.1 677.2,759.5 677.4,777.7 677.5,762.2 677.7,786.5 677.8,786.8 678,778.4 678.2,797.6 678.3,768.7 678.5,776 678.6,768.7 678.8,777.8 679,792.4 679.1,771.5 679.3,756.6 679.5,768.4 679.6,759.5 679.8,772.7 679.9,790.1 680.1,767.7 680.3,788.3 680.4,788.8 680.6,782.5 680.8,797.1 680.9,777.1 681.1,792.4 681.2,777.8 681.4,792.8 681.6,806.1 681.7,767.4 681.9,787.4 682,773.5 682.2,774.1 682.4,763.4 682.5,777.6 682.7,802.8 682.9,768.1 683,759.2 683.2,794.1 683.3,785.5 683.5,764.6 683.7,768.2 683.8,765.2 684,771 684.1,783.9 684.3,774.5 684.5,754 684.6,758.3 684.8,758.5 685,777.6 685.1,775.8 685.3,755.6 685.4,808.6 685.6,804.9 685.8,791 685.9,781.7 686.1,793.9 686.3,769.8 686.4,808.5 686.6,785.1 686.7,771.1 686.9,793 687.1,780.2 687.2,765.1 687.4,788.8 687.5,754.1 687.7,786.8 687.9,764.6 688,753.5 688.2,744 688.4,769.7 688.5,778.6 688.7,780.7 688.8,782 689,774.6 689.2,777.7 689.3,789 689.5,774.6 689.6,774.3 689.8,781.8 690,771.6 690.1,783 690.3,757 690.5,790.2 690.6,764.4 690.8,782.8 690.9,776.3 691.1,795.2 691.3,795.6 691.4,773.1 691.6,784.8 691.7,797.3 691.9,794 692.1,778.2 692.2,796.2 692.4,778.1 692.6,780.2 692.7,783 692.9,785.7 693,779.2 693.2,792.8 693.4,813.7 693.5,777.3 693.7,800.3 693.9,775.6 694,798 694.2,799.1 694.3,779.3 694.5,795.8 694.7,782.7 694.8,813.2 695,755.4 695.1,804.9 695.3,792.1 695.5,814.3 695.6,785.1 695.8,806.7 696,787.2 696.1,783.9 696.3,790.5 696.4,790.6 696.6,803.7 696.8,796.3 696.9,793.6 697.1,793.8 697.2,795.4 697.4,788.2 697.6,790.8 697.7,787.3 697.9,774.9 698.1,794.3 698.2,828.5 698.4,804.1 698.5,815.6 698.7,798.4 698.9,784.6 699,801.4 699.2,814.8 699.4,796.4 699.5,789.3 699.7,794.2 699.8,792.5 700,770.9 700.2,800.2 700.3,770.8 700.5,827.4 700.6,780.9 700.8,779.7 701,807.1 701.1,784.6 701.3,762.1 701.5,780.7 701.6,764.3 701.8,766.8 701.9,765.3 702.1,778.7 702.3,777.7 702.4,769.7 702.6,760.4 702.7,760 702.9,757.5 703.1,764.9 703.2,751.1 703.4,776.2 703.6,810.4 703.7,816 703.9,825 704,799.9 704.2,839.1 704.4,815.7 704.5,846.3 704.7,857.8 704.8,848.4 705,876.8 705.2,866.2 705.3,868.8 705.5,867.4 705.7,873.8 705.8,860.5 706,875 706.1,879.3 706.3,864.3 706.5,846.3 706.6,876.8 706.8,851 707,871.6 707.1,877.9 707.3,875.8 707.4,873.8 707.6,883.1 707.8,868 707.9,875.4 708.1,869.7 708.2,876 708.4,871.2 708.6,879.4 708.7,866 708.9,877.3 709.1,870.8 709.2,878.2 709.4,872.1 709.5,875.7 709.7,875.1 709.9,885.5 710,882.8 710.2,863.8 710.3,865.6 710.5,865.1 710.7,865.5 710.8,886 711,859.5 711.2,881 711.3,867 711.5,883.3 711.6,876.9 711.8,860.4 712,869.6 712.1,877.2 712.3,842.5 712.5,875.8 712.6,875.8 712.8,883.2 712.9,886 713.1,877.7 713.3,875.1 713.4,870.9 713.6,871.2 713.7,868.7 713.9,865 714.1,883.7 714.2,883.1 714.4,874.9 714.6,879.7 714.7,881.9 714.9,881.3 715,880.6 715.2,877.7 715.4,873.9 715.5,873.5 715.7,882.6 715.8,861.6 716,876.8 716.2,870 716.3,880.5 716.5,875.5 716.7,870.8 716.8,874 717,875 717.1,883.1 717.3,873.6 717.5,881.8 717.6,872.9 717.8,875.3 717.9,863.2 718.1,873.5 718.3,885.6 718.4,862 718.6,873.5 718.8,882 718.9,879.2 719.1,882.8 719.2,882 719.4,879.6 719.6,883.3 719.7,859.2 719.9,880.1 720.1,866.1 720.2,863.9 720.4,881.8 720.5,872.3 720.7,878.9 720.9,864.9 721,871.8 721.2,873.6 721.3,877.2 721.5,880 721.7,884.7 721.8,881.7 722,878.9 722.2,866.6 722.3,879.1 722.5,872 722.6,880.4 722.8,868.1 723,882.8 723.1,880 723.3,880.7 723.4,881.1 723.6,873.4 723.8,882.9 723.9,883.6 724.1,886 724.3,885.9 724.4,877.6 724.6,870 724.7,886 724.9,886 725.1,869.1 725.2,885.7 725.4,879.4 725.6,884.8 725.7,876 725.9,874.9 726,880 726.2,874.9 726.4,876 726.5,876.8 726.7,883.9 726.8,873.5 727,877.2 727.2,884.2 727.3,866 727.5,873.6 727.7,883.2 727.8,880 728,869.8 728.1,866.1 728.3,880 728.5,865.8 728.6,870.6 728.8,879.7 728.9,872.7 729.1,875.7 729.3,874.4 729.4,864.3 729.6,880.5 729.8,876.3 729.9,886 730.1,868.4 730.2,886 730.4,886 730.6,879.4 730.7,886 730.9,848.6 731,872.6 731.2,880 731.4,875.7 731.5,869.6 731.7,882.6 731.9,879.1 732,873.2 732.2,871.1 732.3,880.2 732.5,880.9 732.7,869.9 732.8,882.2 733,872.9 733.2,884.6 733.3,877.9 733.5,877.1 733.6,880.5 733.8,877.5 734,876.6 734.1,872.6 734.3,884 734.4,875.6 734.6,878.1 734.8,882.2 734.9,857.8 735.1,867.9 735.3,871.5 735.4,867.7 735.6,867.4 735.7,873.5 735.9,886 736.1,869.8 736.2,878.5 736.4,870.1 736.5,878.9 736.7,875.7 736.9,878 737,873.2 737.2,870.1 737.4,883.1 737.5,881.3 737.7,873.8 737.8,880.8 738,874.4 738.2,871.1 738.3,882.5 738.5,870.2 738.7,873.3 738.8,870.6 739,871.7 739.1,878.6 739.3,871.7 739.5,876 739.6,868.5 739.8,874.1 739.9,870.8 740.1,866.3 740.3,876.5 740.4,883.1 740.6,871.1 740.8,885.2 740.9,876.2 741.1,872.5 741.2,871.5 741.4,876.9 741.6,886 741.7,879.6 741.9,873.9 742,884.1 742.2,880.1 742.4,880.2 742.5,876.7 742.7,850.7 742.9,876.4 743,886 743.2,883.5 743.3,881 743.5,866.3 743.7,874 743.8,886 744,874.8 744.1,866.5 744.3,878.7 744.5,870.7 744.6,886 744.8,881.7 745,877.1 745.1,869.6 745.3,871.1 745.4,868.6 745.6,865.8 745.8,876.1 745.9,848.2 746.1,841.4 746.3,874.5 746.4,877.6 746.6,862.9 746.7,865.3 746.9,880.6 747.1,869 747.2,875.9 747.4,868.7 747.5,867.5 747.7,870.9 747.9,875.5 748,865.2 748.2,878.3 748.4,854.4 748.5,876.2 748.7,878.5 748.8,870.3 749,875.3 749.2,883.5 749.3,884 749.5,866.5 749.6,875.1 749.8,873.2 750,871.7 750.1,884.5 750.3,878 750.5,882.8 750.6,868.3 750.8,875.6 750.9,879.3 751.1,872.4 751.3,885.4 751.4,866 751.6,869.7 751.8,870.6 751.9,881.9 752.1,868.9 752.2,878.2 752.4,873.7 752.6,875.8 752.7,874.1 752.9,878.3 753,865.8 753.2,872.6 753.4,881.3 753.5,875.1 753.7,873.5 753.9,879.8 754,879.2 754.2,869.5 754.3,883.6 754.5,871.7 754.7,845.6 754.8,880.1 755,873.7 755.1,870.5 755.3,879.4 755.5,884.3 755.6,870.8 755.8,875 756,868.6 756.1,877.3 756.3,880.9 756.4,879.6 756.6,875.9 756.8,878.8 756.9,866.7 757.1,870.3 757.2,871.8 757.4,864.5 757.6,868 757.7,877 757.9,880.1 758.1,850.9 758.2,870 758.4,873.7 758.5,873.9 758.7,871.7 758.9,873.7 759,878.1 759.2,882.7 759.4,877.8 759.5,876.6 759.7,886 759.8,862.8 760,873.7 760.2,872.1 760.3,879.7 760.5,879.2 760.6,868.3 760.8,874.4 761,875.5 761.1,874.9 761.3,869.1 761.5,867.4 761.6,878.1 761.8,875.6 761.9,878.5 762.1,884.2 762.3,878 762.4,874.8 762.6,874.8 762.7,881.4 762.9,871.2 763.1,875.3 763.2,873.8 763.4,871.1 763.6,878.6 763.7,862.9 763.9,877.8 764,878.8 764.2,886 764.4,868 764.5,885.1 764.7,874.1 764.9,873.7 765,856.3 765.2,869.5 765.3,884.1 765.5,874.7 765.7,883.6 765.8,875.1 766,863.1 766.1,878.6 766.3,880.8 766.5,868.5 766.6,863.5 766.8,877.5 767,885.3 767.1,876.1 767.3,870.9 767.4,882.4 767.6,886 767.8,879.1 767.9,870.9 768.1,879.5 768.2,883 768.4,873.5 768.6,874.9 768.7,876.9 768.9,879.4 769.1,874.7 769.2,883.5 769.4,869.9 769.5,877.9 769.7,874.9 769.9,880.6 770,884.2 770.2,878.9 770.4,867.9 770.5,882.1 770.7,877.9 770.8,879.7 771,878.5 771.2,874 771.3,864.3 771.5,878.2 771.6,877.1 771.8,877.3 772,861.2 772.1,882.8 772.3,871.9 772.5,869.8 772.6,879.8 772.8,876.3 772.9,875 773.1,843.6 773.3,886 773.4,874.8 773.6,876.7 773.7,881.7 773.9,878.2 774.1,877.6 774.2,870.5 774.4,872.3 774.6,881.4 774.7,875 774.9,883.1 775,875.4 775.2,871.3 775.4,883 775.5,881.6 775.7,879.8 775.8,880.9 776,859.9 776.2,884.9 776.3,876.2 776.5,886 776.7,865.3 776.8,873.7 777,872.7 777.1,878.3 777.3,872 777.5,872.1 777.6,875.3 777.8,870.9 778,877.6 778.1,878.4 778.3,875.8 778.4,879.2 778.6,880.9 778.8,873.5 778.9,869.1 779.1,886 779.2,874.6 779.4,880.4 779.6,870.5 779.7,875.2 779.9,876.7 780.1,864.6 780.2,870.9 780.4,856 780.5,881.8 780.7,870.6 780.9,884.1 781,847.2 781.2,873.1 781.3,880.1 781.5,872 781.7,868.7 781.8,870.4 782,885 782.2,866.4 782.3,881.4 782.5,863.2 782.6,882.4 782.8,871.3 783,874.4 783.1,880.5 783.3,883.1 783.5,879.7 783.6,882.7 783.8,884.1 783.9,875.5 784.1,877.9 784.3,877.8 784.4,885.3 784.6,880.4 784.7,878 784.9,871.9 785.1,881 785.2,876.5 785.4,884 785.6,879.1 785.7,882.3 785.9,881 786,876.9 786.2,880.9 786.4,884.7 786.5,875.3 786.7,875.2 786.8,882.7 787,867.4 787.2,873.5 787.3,859.7 787.5,867.3 787.7,880.3 787.8,877.1 788,840.1 788.1,886 788.3,883 788.5,879.6 788.6,847.1 788.8,886 788.9,883.7 789.1,884.6 789.3,857.2 789.4,868.1 789.6,876.2 789.8,882.1 789.9,875.4 790.1,886 790.2,876.9 790.4,866.2 790.6,873.6 790.7,879.8 790.9,882.1 791.1,875.7 791.2,874.6 791.4,879.2 791.5,868.9 791.7,876.7 791.9,873.7 792,878.7 792.2,877.8 792.3,871.6 792.5,877.3 792.7,875.6 792.8,876.4 793,880.1 793.2,883 793.3,884.7 793.5,880.9 793.6,878.5 793.8,879.2 794,884.9 794.1,880.5 794.3,877.3 794.4,880.7 794.6,868.8 794.8,882.4 794.9,879.1 795.1,880.1 795.3,866.5 795.4,886 795.6,879.1 795.7,876.8 795.9,869.6 796.1,872.4 796.2,873.2 796.4,873.7 796.6,867.3 796.7,879 796.9,872.1 797,878.9 797.2,871 797.4,876.5 797.5,867.7 797.7,866.2 797.8,866.4 798,876.3 798.2,872.3 798.3,881.3 798.5,877 798.7,882.4 798.8,847.3 799,875.4 799.1,863.9 799.3,864.1 799.5,878.8 799.6,883.4 799.8,866.5 799.9,867.3 800.1,879.2 800.3,877.2 800.4,878.2 800.6,866.9 800.8,873.4 800.9,874.3 801.1,881.1 801.2,875.2 801.4,875.8 801.6,875.6 801.7,877.5 801.9,866.6 802,877.5 802.2,871.5 802.4,860.4 802.5,876.2 802.7,876.4 802.9,873.4 803,883.2 803.2,874.1 803.3,867.1 803.5,884.2 803.7,870.4 803.8,883 804,878.5 804.2,873.2 804.3,876.9 804.5,880.1 804.6,882.6 804.8,882.5 805,870.5 805.1,880.9 805.3,877.4 805.4,867.5 805.6,872.6 805.8,855.2 805.9,877.3 806.1,882.2 806.3,874.5 806.4,875 806.6,880.5 806.7,871.5 806.9,878.9 807.1,878 807.2,871.4 807.4,876.7 807.5,872.6 807.7,875.1 807.9,878.5 808,886 808.2,865.5 808.4,882.2 808.5,884 808.7,879.7 808.8,871.2 809,872.7 809.2,875.8 809.3,876.1 809.5,884 809.7,882.9 809.8,864.3 810,879.3 810.1,879.7 810.3,872.5 810.5,870.9 810.6,877.5 810.8,883.9 810.9,878.1 811.1,865 811.3,873.7 811.4,879.8 811.6,873 811.8,876.6 811.9,867.8 812.1,876.5 812.2,871.9 812.4,881 812.6,884.3 812.7,864.1 812.9,867.9 813,867.6 813.2,875.2 813.4,886 813.5,879.5 813.7,876.5 813.9,873.2 814,877.3 814.2,868 814.3,878.9 814.5,880.2 814.7,878.1 814.8,873.5 815,873 815.1,883.4 815.3,878.1 815.5,880.4 815.6,883.8 815.8,881.1 816,876.2 816.1,880.8 816.3,871 816.4,877.8 816.6,874.7 816.8,879.7 816.9,876.1 817.1,871.5 817.3,886 817.4,886 817.6,871.4 817.7,879.6 817.9,870.3 818.1,878 818.2,881.5 818.4,869.3 818.5,866.6 818.7,874.7 818.9,868.1 819,866.8 819.2,878.1 819.4,861.1 819.5,867.8 819.7,885.3 819.8,861.2 820,872.9 820.2,871.1 820.3,880.7 820.5,881.6 820.6,869.2 820.8,876.2 821,883.3 821.1,880.7 821.3,880.9 821.5,876.1 821.6,872.4 821.8,851.5 821.9,870 822.1,874.1 822.3,865.7 822.4,883 822.6,884.1 822.8,870.5 822.9,880.1 823.1,873.9 823.2,877.9 823.4,872 823.6,871.4 823.7,876 823.9,877.8 824,873.7 824.2,868.8 824.4,876.8 824.5,869.9 824.7,873.1 824.9,884 825,852.5 825.2,881.7 825.3,864.4 825.5,872.6 825.7,878.8 825.8,872.5 826,865.7 826.1,872.6 826.3,881.1 826.5,882.2 826.6,874.7 826.8,863.8 827,868.2 827.1,879.6 827.3,873.9 827.4,880.5 827.6,874.4 827.8,868.6 827.9,876.2 828.1,877.2 828.2,869.2 828.4,886 828.6,871 828.7,875 828.9,871.8 829.1,868.5 829.2,875.1 829.4,869.3 829.5,875 829.7,866 829.9,874.8 830,874.8 830.2,864.1 830.4,880.6 830.5,856.4 830.7,875.9 830.8,878.6 831,881.4 831.2,873.2 831.3,867.1 831.5,883 831.6,873.3 831.8,878.5 832,879.3 832.1,879.8 832.3,861.7 832.5,875.3 832.6,884.1 832.8,875.5 832.9,877.1 833.1,882.1 833.3,869.3 833.4,873.5 833.6,874.6 833.7,879.9 833.9,872.6 834.1,875.1 834.2,875 834.4,870.6 834.6,886 834.7,878.5 834.9,882.2 835,876.4 835.2,880 835.4,874.2 835.5,882.9 835.7,879.1 835.9,878.6 836,880 836.2,880.7 836.3,877.3 836.5,860.7 836.7,878.9 836.8,869 837,873.4 837.1,872.1 837.3,877.8 837.5,877.4 837.6,879.8 837.8,857.5 838,879.9 838.1,878.4 838.3,873.8 838.4,875.7 838.6,880.2 838.8,878.3 838.9,876.4 839.1,880.3 839.2,878.9 839.4,875.3 839.6,878.8 839.7,873.1 839.9,855.3 840.1,878.7 840.2,870.3 840.4,886 840.5,878 840.7,878.3 840.9,874.5 841,879.6 841.2,867.5 841.4,876.7 841.5,868.4 841.7,879.1 841.8,871.5 842,875.9 842.2,881.4 842.3,868.3 842.5,866.7 842.6,877.8 842.8,877.8 843,878.7 843.1,879.9 843.3,877 843.5,878.1 843.6,876.2 843.8,877.3 843.9,879.9 844.1,882.4 844.3,869.5 844.4,876.9 844.6,869.2 844.7,876 844.9,870 845.1,880 845.2,870.6 845.4,868.7 845.6,886 845.7,875.1 845.9,877.2 846,881.2 846.2,871.1 846.4,858 846.5,870.9 846.7,863.2 846.8,875.2 847,877.4 847.2,867 847.3,880.7 847.5,868 847.7,878.9 847.8,877.6 848,874.9 848.1,876.1 848.3,885.5 848.5,872.8 848.6,883.6 848.8,882.3 849,869 849.1,869.2 849.3,876.8 849.4,874.8 849.6,878 849.8,874.7 849.9,876.6 850.1,873.7 850.2,879.5 850.4,881.6 850.6,876.5 850.7,861.6 850.9,875.3 851.1,874.7 851.2,878.8 851.4,872.6 851.5,886 851.7,886 851.9,874 852,878.6 852.2,880.3 852.3,879.7 852.5,886 852.7,875.6 852.8,874.9 853,857.2 853.2,878.5 853.3,884.2 853.5,869.1 853.6,882.8 853.8,882.9 854,879.7 854.1,874.1 854.3,876.9 854.5,876.2 854.6,886 854.8,877.8 854.9,880.4 855.1,872 855.3,878.4 855.4,882.2 855.6,876 855.7,874.5 855.9,886 856.1,875.7 856.2,885.3 856.4,853.5 856.6,880 856.7,871.1 856.9,871.7 857,882.9 857.2,881.4 857.4,877.8 857.5,877.3 857.7,882.2 857.8,881.7 858,885 858.2,876.5 858.3,871.5 858.5,874.9 858.7,882.2 858.8,876.7 859,878 859.1,868.4 859.3,871.1 859.5,877.4 859.6,866.2 859.8,884.1 859.9,875 860.1,881.3 860.3,863.8 860.4,880.1 860.6,865.3 860.8,873.9 860.9,875.4 861.1,877.2 861.2,873.2 861.4,881.5 861.6,874.6 861.7,865.3 861.9,878.4 862.1,886 862.2,875.5 862.4,880.5 862.5,876 862.7,881 862.9,874.8 863,881.4 863.2,886 863.3,883.2 863.5,869.4 863.7,879.5 863.8,879.9 864,878.2 864.2,877.3 864.3,869.6 864.5,878.5 864.6,873.4 864.8,877.9 865,874.9 865.1,873.4 865.3,870.7 865.4,880.7 865.6,873.2 865.8,879.5 865.9,870.1 866.1,875.2 866.3,870.3 866.4,879.5 866.6,869 866.7,872.7 866.9,870.1 867.1,879.4 867.2,871.7 867.4,863 867.6,881.1 867.7,882.3 867.9,882.9 868,872 868.2,879.1 868.4,870.3 868.5,878.7 868.7,873.4 868.8,876.3 869,881.8 869.2,884.2 869.3,866.4 869.5,876.7 869.7,872.2 869.8,875.5 870,886 870.1,868.1 870.3,864.3 870.5,872.6 870.6,881.2 870.8,880.5 870.9,857.3 871.1,872.6 871.3,867.6 871.4,873.5 871.6,868 871.8,876.7 871.9,876 872.1,874.8 872.2,864.9 872.4,878.7 872.6,882.5 872.7,870.7 872.9,880.7 873,879.4 873.2,846 873.4,864.8 873.5,869.9 873.7,868.6 873.9,873.3 874,873.5 874.2,862.5 874.3,880.4 874.5,861.2 874.7,882.6 874.8,878.7 875,864.3 875.2,884 875.3,876.2 875.5,864.6 875.6,872.4 875.8,876.8 876,879.6 876.1,869.5 876.3,884.4 876.4,874.9 876.6,881.4 876.8,877.5 876.9,872.3 877.1,875.8 877.3,872.5 877.4,882.3 877.6,872.4 877.7,866.5 877.9,873.5 878.1,859 878.2,878 878.4,880.2 878.5,876 878.7,850.4 878.9,882.2 879,878.2 879.2,876.1 879.4,875.2 879.5,872.1 879.7,873.1 879.8,868.8 880,865.7 880.2,883.8 880.3,869.7 880.5,866.8 880.7,864.8 880.8,874 881,870.1 881.1,868.9 881.3,879 881.5,872.2 881.6,877.6 881.8,872.3 881.9,868.4 882.1,882.7 882.3,871.7 882.4,873 882.6,879 882.8,874.3 882.9,858.4 883.1,869.8 883.2,881.8 883.4,875.7 883.6,868.5 883.7,856 883.9,876.1 884,872.4 884.2,883.2 884.4,875.9 884.5,881.5 884.7,874 884.9,872.1 885,875.8 885.2,882.5 885.3,883.2 885.5,878.2 885.7,884.7 885.8,866.1 886,882.7 886.1,869 886.3,869.3 886.5,874.4 886.6,877.4 886.8,879.6 887,876.4 887.1,867.1 887.3,871.7 887.4,856.6 887.6,878.8 887.8,867.7 887.9,878.4 888.1,886 888.3,867 888.4,876.4 888.6,870.8 888.7,871.2 888.9,865.2 889.1,877.4 889.2,876.4 889.4,874.7 889.5,875.5 889.7,871.2 889.9,879.2 890,872.1 890.2,868.3 890.4,869.5 890.5,874.8 890.7,881.5 890.8,881.3 891,871.8 891.2,865.3 891.3,871.2 891.5,862.3 891.6,876.2 891.8,874.5 892,872.9 892.1,865.6 892.3,878.9 892.5,869.2 892.6,876.7 892.8,873.5 892.9,878.3 893.1,876.9 893.3,880.5 893.4,878.5 893.6,876.3 893.8,850.2 893.9,879.6 894.1,869.3 894.2,866.6 894.4,877.6 894.6,871.4 894.7,874 894.9,870.2 895,874.5 895.2,873.4 895.4,878 895.5,886 895.7,881.2 895.9,879.4 896,874.7 896.2,878.6 896.3,870.2 896.5,878.8 896.7,876.4 896.8,876.8 897,878.2 897.1,879.2 897.3,872.9 897.5,870.4 897.6,874.5 897.8,870.8 898,875.1 898.1,868.3 898.3,872.4 898.4,874 898.6,876 898.8,878.6 898.9,880.8 899.1,873.3 899.2,878.9 899.4,870 899.6,873.7 899.7,877.6 899.9,871.1 900.1,855.7 900.2,875.8 900.4,879 900.5,852.2 900.7,873.8 900.9,873.1 901,874 901.2,871.4 901.4,873.2 901.5,874.4 901.7,871.8 901.8,876.9 902,885.4 902.2,867.5 902.3,886 902.5,867.5 902.6,870.3 902.8,867.6 903,863.6 903.1,882.9 903.3,870 903.5,872.7 903.6,878.9 903.8,874.3 903.9,880.1 904.1,854.4 904.3,868.8 904.4,876.4 904.6,873.9 904.7,866.5 904.9,877.6 905.1,876 905.2,875.3 905.4,868.2 905.6,867 905.7,877.3 905.9,883.1 906,875.8 906.2,886 906.4,869.1 906.5,882.6 906.7,875.8 906.9,867.2 907,879.1 907.2,867.1 907.3,879.5 907.5,886 907.7,872.9 907.8,874.2 908,881.7 908.1,876.9 908.3,872.9 908.5,870.4 908.6,872.5 908.8,869.2 909,877.3 909.1,885.2 909.3,869.7 909.4,845.7 909.6,883.1 909.8,884.1 909.9,880.8 910.1,871 910.2,872.5 910.4,876.3 910.6,872.1 910.7,877.7 910.9,879.2 911.1,866.7 911.2,870.8 911.4,878.7 911.5,879.4 911.7,875.3 911.9,870.5 912,876.2 912.2,876.3 912.3,869.3 912.5,870 912.7,875.8 912.8,872.9 913,881.3 913.2,882 913.3,875.4 913.5,869.6 913.6,874.8 913.8,859.9 914,867.7 914.1,878 914.3,872.6 914.5,872.4 914.6,884.4 914.8,865.1 914.9,881.2 915.1,875.1 915.3,882.1 915.4,879.6 915.6,878.9 915.7,872.7 915.9,871.8 916.1,878.7 916.2,877.7 916.4,873.4 916.6,884.9 916.7,880.6 916.9,879.9 917,876.6 917.2,876.3 917.4,865.7 917.5,869 917.7,875.1 917.8,872.8 918,873.5 918.2,880.9 918.3,874 918.5,880.2 918.7,875.6 918.8,881.9 919,870.9 919.1,880.5 919.3,884.6 919.5,885.1 919.6,875.6 919.8,886 920,874.9 920.1,871.8 920.3,871.9 920.4,862.9 920.6,871.4 920.8,885 920.9,878.9 921.1,884 921.2,873 921.4,878.6 921.6,884.5 921.7,886 921.9,881.6 922.1,869.7 922.2,872.7 922.4,863.6 922.5,867.7 922.7,867.3 922.9,884.9 923,878.6 923.2,875.3 923.3,873.5 923.5,878 923.7,880.1 923.8,876.1 924,872 924.2,873.6 924.3,873.3 924.5,879.2 924.6,874.2 924.8,855.5 925,877.8 925.1,876.9 925.3,872.7 925.5,872.4 925.6,880.1 925.8,878.5 925.9,867.5 926.1,875.9 926.3,878.2 926.4,880.2 926.6,886 926.7,877.8 926.9,871.4 927.1,869.3 927.2,882 927.4,869.2 927.6,871.7 927.7,876.8 927.9,878.9 928,878 928.2,869.7 928.4,875.7 928.5,864.6 928.7,876.5 928.8,878 929,870 929.2,882.7 929.3,879.7 929.5,869.7 929.7,869.6 929.8,875.2 930,873.9 930.1,847.5 930.3,874.5 930.5,874.9 930.6,879.4 930.8,877.5 930.9,869.2 931.1,878.7 931.3,875.3 931.4,874.8 931.6,878.7 931.8,879.4 931.9,879.2 932.1,880.3 932.2,869.7 932.4,872.5 932.6,882.5 932.7,872.2 932.9,876.1 933.1,876.1 933.2,878.1 933.4,873.1 933.5,876.9 933.7,873.3 933.9,881 934,872 934.2,872.7 934.3,875.6 934.5,876.5 934.7,876.2 934.8,883.7 935,880.8 935.2,872.7 935.3,876.9 935.5,874.7 935.6,882.4 935.8,865.6 936,886 936.1,869.5 936.3,873.4 936.4,878.4 936.6,868 936.8,874.1 936.9,886 937.1,878.8 937.3,880 937.4,882.2 937.6,866.8 937.7,883.5 937.9,885.6 938.1,878.2 938.2,880.8 938.4,867.9 938.6,873.2 938.7,876.5 938.9,872.6 939,863.7 939.2,873.9 939.4,861 939.5,874.4 939.7,871.3 939.8,881.1 940,880.3 940.2,875.9 940.3,875.6 940.5,877.8 940.7,872.3 940.8,869.6 941,878.3 941.1,863.1 941.3,861 941.5,853.5 941.6,884 941.8,877.7 941.9,870.2 942.1,874.5 942.3,876.6 942.4,875.4 942.6,869.4 942.8,878 942.9,873.5 943.1,883.7 943.2,865.8 943.4,873.9 943.6,873.4 943.7,875.3 943.9,875.5 944,882.9 944.2,880.7 944.4,879 944.5,879.6 944.7,868.7 944.9,881 945,870.7 945.2,880.9 945.3,879.8 945.5,886 945.7,881.2 945.8,875.3 946,865.8 946.2,885.3 946.3,872.5 946.5,883.5 946.6,872.2 946.8,881 947,874.9 947.1,874.6 947.3,883.9 947.4,886 947.6,877.3 947.8,880.5 947.9,881.5 948.1,874.9 948.3,877.1 948.4,883.6 948.6,872 948.7,879.9 948.9,870 949.1,874 949.2,867.8 949.4,873.9 949.5,873.3 949.7,871.6 949.9,884.4 950,871.3 950.2,867.4 950.4,876.2 950.5,872.3 950.7,883.2 950.8,872.5 951,881.7 951.2,866.7 951.3,886 951.5,877.6 951.7,871.6 951.8,874.5 952,880.6 952.1,870.7 952.3,877.5 952.5,866.6 952.6,873.6 952.8,873.6 952.9,876.9 953.1,875.4 953.3,870.3 953.4,879.5 953.6,878.9 953.8,880.2 953.9,882.9 954.1,876.6 954.2,876.2 954.4,884 954.6,880.3 954.7,863.8 954.9,881.3 955,871.4 955.2,866.1 955.4,875.4 955.5,886 955.7,866 955.9,877.6 956,871.5 956.2,880.8 956.3,873.8 956.5,876.9 956.7,879.7 956.8,886 957,868.5 957.1,882.9 957.3,874 957.5,880.8 957.6,862.6 957.8,873.1 958,874.6 958.1,876.2 958.3,884.5 958.4,867 958.6,873.8 958.8,886 958.9,883.7 959.1,874.2 959.3,876.5 959.4,875.6 959.6,876.1 959.7,879.9 959.9,877.4 960.1,884.3 960.2,877.3 960.4,877.9 960.5,865.7 960.7,870.7 960.9,875.9 961,880.1 961.2,874.4 961.4,869.9 961.5,875.8 961.7,875.6 961.8,877.8 962,871.1 962.2,881.5 962.3,869.6 962.5,873.2 962.6,871.3 962.8,875.2 963,873.4 963.1,884.1 963.3,875.2 963.5,874.8 963.6,885.6 963.8,875.7 963.9,872.8 964.1,878.9 964.3,872.4 964.4,880.4 964.6,881.7 964.8,878.8 964.9,875.4 965.1,883 965.2,879.8 965.4,872.9 965.6,886 965.7,869.1 965.9,867.8 966,877.1 966.2,878.8 966.4,884 966.5,881.8 966.7,886 966.9,867.6 967,867.1 967.2,876 967.3,874.8 967.5,865.1" fill="none" stroke="#4a98dc" stroke-width="1.55" stroke-linejoin="round"/>
<polyline points="547,590.9 547.2,595.9 547.4,612.1 547.5,641.1 547.7,631.8 547.9,644.3 548.1,663.9 548.2,624.5 548.4,697.5 548.6,662.8 548.8,657.9 548.9,651.5 549.1,656.5 549.3,683.6 549.5,672.9 549.6,654.1 549.8,673.1 550,671.3 550.2,622.8 550.3,659 550.5,625.2 550.7,608 550.9,623.2 551,602.4 551.2,581.2 551.4,623.4 551.6,613.8 551.7,646.5 551.9,649.4 552.1,622.1 552.3,635.7 552.4,647.5 552.6,626.7 552.8,647.6 553,649.4 553.1,639.9 553.3,621.2 553.5,623 553.7,619 553.8,640.6 554,607.2 554.2,619.5 554.4,635.3 554.5,651.9 554.7,650.3 554.9,616.6 555.1,669.4 555.2,680.8 555.4,631 555.6,639.5 555.8,629.8 555.9,656.6 556.1,648.7 556.3,651.8 556.5,613.2 556.6,623.5 556.8,623.1 557,648.9 557.2,607 557.3,635.9 557.5,607.5 557.7,642.6 557.9,593.7 558,615 558.2,629.8 558.4,613.4 558.6,582.8 558.7,625.8 558.9,594 559.1,568.8 559.3,600.8 559.4,573 559.6,572.9 559.8,582.7 560,611.9 560.1,618.2 560.3,599.9 560.5,600.3 560.7,598.7 560.8,613 561,595.5 561.2,615 561.4,606.6 561.5,570.1 561.7,610.8 561.9,642.3 562.1,647.3 562.2,634 562.4,609.2 562.6,683.4 562.8,651.8 562.9,655.1 563.1,638.3 563.3,658.4 563.5,663.7 563.6,651.4 563.8,652.1 564,670.6 564.2,661.6 564.3,691.7 564.5,671.7 564.7,687.9 564.9,658.8 565,693.1 565.2,692.8 565.4,650.5 565.6,681.9 565.7,651.4 565.9,688.9 566.1,692.8 566.3,678.7 566.4,669.2 566.6,669.6 566.8,657.5 567,629.9 567.1,641 567.3,681.8 567.5,648.8 567.7,652.3 567.8,673.4 568,636.7 568.2,622.5 568.4,634.8 568.6,623.7 568.7,620.2 568.9,610.5 569.1,603.1 569.3,646 569.4,634.9 569.6,608.7 569.8,592.5 570,570.6 570.1,655.8 570.3,614.7 570.5,567.1 570.7,612.7 570.8,584.4 571,582.9 571.2,587 571.4,592.1 571.5,567.1 571.7,570.5 571.9,593.6 572.1,567.1 572.2,589.3 572.4,577.4 572.6,593.7 572.8,621.6 572.9,585.9 573.1,598.7 573.3,591.6 573.5,630.4 573.6,664.7 573.8,649.9 574,632.2 574.2,642.9 574.3,626 574.5,638.8 574.7,632 574.9,664.6 575,636.8 575.2,679.4 575.4,625.3 575.6,660.4 575.7,632.8 575.9,641.6 576.1,634.2 576.3,658 576.4,687.3 576.6,644.3 576.8,680.6 577,642.2 577.1,665.2 577.3,654.8 577.5,627.7 577.7,657.5 577.8,673.8 578,660.5 578.2,644.9 578.4,641.2 578.5,641.3 578.7,679.4 578.9,611.1 579.1,630.2 579.2,615.1 579.4,683.7 579.6,667.8 579.8,652.2 579.9,680.5 580.1,645.8 580.3,669.2 580.5,605.6 580.6,635.4 580.8,611.1 581,607.5 581.2,646.9 581.3,617.6 581.5,643.6 581.7,622.3 581.9,631.3 582,607.2 582.2,628.1 582.4,614.6 582.6,645.7 582.7,633.1 582.9,592.7 583.1,597.4 583.3,621.2 583.4,612.9 583.6,609.4 583.8,589.4 584,626.1 584.1,594.6 584.3,647.8 584.5,626.4 584.7,631.1 584.8,567.9 585,639.6 585.2,615.8 585.4,627.5 585.5,585.2 585.7,627.4 585.9,616.8 586.1,580.8 586.2,608.5 586.4,586.4 586.6,593.4 586.8,619.2 586.9,590.9 587.1,585.4 587.3,577.9 587.5,569.6 587.6,611.7 587.8,607.1 588,588.5 588.2,567.1 588.3,607.3 588.5,570.4 588.7,567.1 588.9,572 589,567.1 589.2,578.3 589.4,588.8 589.6,604.8 589.8,599.6 589.9,610.5 590.1,594.9 590.3,587.1 590.5,567.1 590.6,567.1 590.8,602.4 591,589.4 591.2,590.4 591.3,593.9 591.5,580.3 591.7,568.4 591.9,594.1 592,600.8 592.2,596.7 592.4,567.1 592.6,634.2 592.7,582.5 592.9,616.1 593.1,628.1 593.3,604 593.4,636.6 593.6,600.6 593.8,575.7 594,614.1 594.1,628.2 594.3,613.7 594.5,610.7 594.7,613.9 594.8,631.1 595,587.5 595.2,667.8 595.4,647.5 595.5,640 595.7,622.9 595.9,598.5 596.1,614.5 596.2,603.5 596.4,620.3 596.6,615.9 596.8,646.8 596.9,599.5 597.1,608.3 597.3,641.2 597.5,621.9 597.6,640 597.8,597.1 598,615.4 598.2,608.6 598.3,625.6 598.5,645.9 598.7,647.2 598.9,656 599,629.4 599.2,623.7 599.4,649.6 599.6,660 599.7,679.2 599.9,643.8 600.1,649 600.3,669.7 600.4,692.5 600.6,627.9 600.8,608.6 601,641.1 601.1,590 601.3,599.2 601.5,608 601.7,597.3 601.8,578.3 602,626.1 602.2,583.9 602.4,577.5 602.5,611 602.7,635.6 602.9,567.1 603.1,601.3 603.2,588.4 603.4,570.5 603.6,579.2 603.8,627.4 603.9,575.8 604.1,580.8 604.3,568 604.5,588.1 604.6,644.2 604.8,570.8 605,569.5 605.2,567.1 605.3,580.8 605.5,604.7 605.7,573.1 605.9,580.7 606,578.3 606.2,592.6 606.4,601.4 606.6,606.5 606.7,586.1 606.9,603 607.1,604.5 607.3,604.4 607.4,594.2 607.6,567.1 607.8,621.9 608,602.4 608.1,590.6 608.3,599.3 608.5,617.4 608.7,613 608.8,582.7 609,642.4 609.2,627.9 609.4,612.3 609.5,622.1 609.7,651.5 609.9,617.1 610.1,663.6 610.3,656.6 610.4,642.9 610.6,596.7 610.8,596.1 611,627.8 611.1,586.6 611.3,599.2 611.5,600.4 611.7,618.4 611.8,567.1 612,604.3 612.2,639.1 612.4,596.6 612.5,608.5 612.7,594.4 612.9,618.3 613.1,647.6 613.2,597.2 613.4,605.5 613.6,605.5 613.8,619.1 613.9,619.6 614.1,635.2 614.3,654.7 614.5,641.4 614.6,686.4 614.8,643.5 615,643.1 615.2,631.9 615.3,604.2 615.5,614 615.7,611.9 615.9,622.2 616,614.3 616.2,591.8 616.4,625.3 616.6,676.9 616.7,619.9 616.9,617.9 617.1,627.8 617.3,613.7 617.4,595.5 617.6,576.3 617.8,597.8 618,613 618.1,644.3 618.3,600.4 618.5,601.7 618.7,617.4 618.8,634.4 619,612.8 619.2,626.5 619.4,636.5 619.5,615.1 619.7,600.2 619.9,609.9 620.1,625.9 620.2,567.1 620.4,629.7 620.6,578.7 620.8,623.5 620.9,607.8 621.1,592.2 621.3,592.6 621.5,593.7 621.6,590.2 621.8,575.8 622,608.5 622.2,598.5 622.3,638.8 622.5,599.6 622.7,571.7 622.9,629.4 623,613.6 623.2,602.8 623.4,625.2 623.6,593.8 623.7,631.3 623.9,567.1 624.1,583.7 624.3,595.1 624.4,628.5 624.6,608.2 624.8,631.4 625,614.4 625.1,594.5 625.3,617.2 625.5,613.6 625.7,639.6 625.8,635.6 626,622.7 626.2,606.9 626.4,621.5 626.5,632.8 626.7,632.5 626.9,605.3 627.1,636.5 627.2,667.3 627.4,644.3 627.6,615.5 627.8,663 627.9,668.9 628.1,653.1 628.3,692.1 628.5,657.3 628.6,674.9 628.8,674.1 629,640.2 629.2,663.6 629.3,677.1 629.5,693.3 629.7,687.9 629.9,667.5 630,654 630.2,682.3 630.4,682.5 630.6,667.6 630.7,686.3 630.9,686.6 631.1,665 631.3,675.3 631.5,695.9 631.6,694 631.8,694.7 632,671 632.2,686.6 632.3,656.3 632.5,691.1 632.7,640 632.9,634.2 633,685.8 633.2,690.9 633.4,680 633.6,686.7 633.7,685.5 633.9,658.7 634.1,672.3 634.3,653.7 634.4,672 634.6,667 634.8,673.8 635,677.5 635.1,666.4 635.3,647.8 635.5,670.9 635.7,679.1 635.8,662.5 636,669.9 636.2,653.2 636.4,639.6 636.5,634.4 636.7,640 636.9,624.6 637.1,649.2 637.2,667.1 637.4,637.6 637.6,670.6 637.8,622.6 637.9,639.1 638.1,655.7 638.3,656 638.5,644.8 638.6,647.6 638.8,636.1 639,637.2 639.2,666 639.3,620.5 639.5,651.1 639.7,692.1 639.9,634.6 640,657.6 640.2,647.7 640.4,662.7 640.6,664.7 640.7,653.9 640.9,654.6 641.1,650.9 641.3,653.4 641.4,645.5 641.6,665 641.8,692.8 642,631.8 642.1,651.5 642.3,643.6 642.5,676 642.7,690.1 642.8,650.7 643,667 643.2,630 643.4,638.3 643.5,684.2 643.7,676.9 643.9,640.6 644.1,642.4 644.2,649.4 644.4,683.9 644.6,690.2 644.8,656.7 644.9,661.6 645.1,629.2 645.3,669.9 645.5,628.1 645.6,676.8 645.8,625.8 646,657.5 646.2,674.1 646.3,621.1 646.5,620.9 646.7,648.9 646.9,662.8 647,654.5 647.2,633 647.4,610.5 647.6,640.7 647.7,691.3 647.9,616.1 648.1,666.4 648.3,667.7 648.4,654.7 648.6,657.6 648.8,659.1 649,670.6 649.1,648.6 649.3,693.9 649.5,688.5 649.7,689.9 649.8,694.7 650,696.4 650.2,689.4 650.4,693.9 650.5,678.4 650.7,688.1 650.9,690.8 651.1,688.5 651.2,695.5 651.4,688.3 651.6,687.7 651.8,669.6 651.9,692.7 652.1,672.9 652.3,662.2 652.5,671.7 652.7,689.1 652.8,630.1 653,642.6 653.2,605.7 653.4,616.9 653.5,567.1 653.7,623.8 653.9,588.3 654.1,602.7 654.2,615.9 654.4,615.3 654.6,590.9 654.8,611 654.9,602.9 655.1,596.6 655.3,602 655.5,607.1 655.6,616.1 655.8,623.1 656,595.4 656.2,610.3 656.3,594.5 656.5,622.8 656.7,572.1 656.9,609 657,612.5 657.2,639.8 657.4,604.5 657.6,643.4 657.7,624.2 657.9,582.8 658.1,641 658.3,613.2 658.4,619 658.6,620.6 658.8,653 659,629.3 659.1,618 659.3,612.9 659.5,608.7 659.7,639.3 659.8,661.9 660,639.6 660.2,629.7 660.4,606.4 660.5,626 660.7,632.5 660.9,676.7 661.1,593.8 661.2,653.2 661.4,638.6 661.6,579.8 661.8,601.6 661.9,606.5 662.1,595.6 662.3,597.1 662.5,636.7 662.6,618.5 662.8,601 663,608.3 663.2,605.9 663.3,635.6 663.5,613.9 663.7,601.5 663.9,597.3 664,600 664.2,588.3 664.4,607.7 664.6,596.8 664.7,606.2 664.9,567.1 665.1,601.6 665.3,616.1 665.4,570.5 665.6,588.9 665.8,594 666,591.5 666.1,593.2 666.3,579.5 666.5,598.1 666.7,613.4 666.8,596.1 667,609.7 667.2,613 667.4,629.6 667.5,622.2 667.7,595.4 667.9,571.5 668.1,599.9 668.2,577.8 668.4,590.8 668.6,612.3 668.8,595.2 668.9,567.1 669.1,594.7 669.3,605.5 669.5,603.4 669.6,593.2 669.8,595.8 670,600.6 670.2,576 670.3,627.7 670.5,575.7 670.7,599.1 670.9,596.7 671,576.4 671.2,574 671.4,598.8 671.6,588.6 671.7,606.5 671.9,582.1 672.1,588.2 672.3,592.8 672.4,606.3 672.6,593.8 672.8,591.1 673,593 673.1,598.7 673.3,600.6 673.5,611.2 673.7,620.2 673.9,640.8 674,614.6 674.2,567.1 674.4,594.6 674.6,630.4 674.7,601.6 674.9,619.8 675.1,632.4 675.3,618 675.4,663.9 675.6,612.8 675.8,605 676,590.6 676.1,629.5 676.3,640.3 676.5,639.9 676.7,626.9 676.8,668.2 677,619.8 677.2,642.3 677.4,658 677.5,647.6 677.7,662 677.9,615.5 678.1,627 678.2,671.8 678.4,611.1 678.6,641.7 678.8,620.2 678.9,616.7 679.1,672.3 679.3,637.3 679.5,605 679.6,637.5 679.8,629.7 680,631.1 680.2,619.5 680.3,658.7 680.5,609.4 680.7,626.7 680.9,628.2 681,646.8 681.2,635.2 681.4,635.3 681.6,647.9 681.7,666.6 681.9,677.7 682.1,617.1 682.3,636.5 682.4,653.9 682.6,670.4 682.8,628.4 683,649.3 683.1,627.7 683.3,642.1 683.5,630.6 683.7,602.7 683.8,664.1 684,671.8 684.2,661.3 684.4,655.2 684.5,664.1 684.7,623.5 684.9,626 685.1,640.6 685.2,648.3 685.4,666.3 685.6,648.9 685.8,663.9 685.9,659.3 686.1,676.6 686.3,689.3 686.5,649.1 686.6,642.2 686.8,631.4 687,674 687.2,658.8 687.3,656.5 687.5,659.6 687.7,657.1 687.9,664.3 688,672.1 688.2,665 688.4,648.7 688.6,639.5 688.7,630.1 688.9,681.7 689.1,603.9 689.3,668.7 689.4,680.7 689.6,632 689.8,682.4 690,691.7 690.1,695.3 690.3,686.6 690.5,653.3 690.7,677.6 690.8,683.2 691,672.5 691.2,667.3 691.4,658.3 691.5,691.1 691.7,688.1 691.9,689.5 692.1,686.6 692.2,688 692.4,666.2 692.6,671.2 692.8,655.2 692.9,641 693.1,636.8 693.3,647.8 693.5,673.1 693.6,627.7 693.8,662.9 694,680.2 694.2,652.1 694.4,628.4 694.5,634.7 694.7,686.2 694.9,628.2 695.1,679.8 695.2,631.7 695.4,625.9 695.6,680.5 695.8,623.2 695.9,636.8 696.1,638.6 696.3,650.2 696.5,652.5 696.6,632.5 696.8,633.5 697,638.8 697.2,641.9 697.3,623.1 697.5,636.2 697.7,615.1 697.9,597.4 698,649.9 698.2,611.8 698.4,609.2 698.6,649.7 698.7,612.6 698.9,614.8 699.1,613.1 699.3,610.2 699.4,589.9 699.6,616.9 699.8,630.1 700,586 700.1,595.4 700.3,603.6 700.5,585 700.7,585.5 700.8,577.8 701,585.2 701.2,586.6 701.4,600.9 701.5,631.5 701.7,567.1 701.9,594 702.1,567.1 702.2,620.6 702.4,628.7 702.6,587.8 702.8,567.1 702.9,587.9 703.1,627.4 703.3,594 703.5,573 703.6,568 703.8,595.7 704,584.3 704.2,579.5 704.3,617.5 704.5,616.5 704.7,677.4 704.9,680 705,678.1 705.2,681.2 705.4,685.6 705.6,691.2 705.7,669.5 705.9,698 706.1,691.3 706.3,693.8 706.4,673.9 706.6,670.7 706.8,693.9 707,704.6 707.1,687.5 707.3,686.3 707.5,702 707.7,676.7 707.8,684.7 708,687 708.2,679 708.4,701.8 708.5,676.3 708.7,682 708.9,682.3 709.1,694.4 709.2,692.3 709.4,679.1 709.6,684.8 709.8,696 709.9,686.2 710.1,692.2 710.3,666.9 710.5,684.7 710.6,676.3 710.8,689.2 711,690 711.2,688.3 711.3,688.9 711.5,708.3 711.7,675.2 711.9,665.7 712,704.1 712.2,712.4 712.4,701.7 712.6,706.9 712.7,677.9 712.9,654.3 713.1,686.5 713.3,676.9 713.4,674.8 713.6,680.1 713.8,698 714,708.1 714.1,704.4 714.3,662.1 714.5,679.6 714.7,684.9 714.8,680.2 715,669 715.2,671.2 715.4,677.3 715.6,678.7 715.7,681.9 715.9,691.9 716.1,695.5 716.3,695.4 716.4,688.6 716.6,691.2 716.8,692.1 717,692.9 717.1,698.6 717.3,681.6 717.5,674 717.7,711.7 717.8,681.9 718,697.3 718.2,696.1 718.4,700 718.5,687.3 718.7,686.5 718.9,694.4 719.1,676.2 719.2,679.6 719.4,685 719.6,692.4 719.8,685.2 719.9,676.5 720.1,684.2 720.3,701.7 720.5,674.9 720.6,666.2 720.8,694.8 721,691.9 721.2,691.6 721.3,693.2 721.5,690.4 721.7,649.7 721.9,672.2 722,675.4 722.2,687.6 722.4,688.3 722.6,662.4 722.7,684.6 722.9,680.2 723.1,688.8 723.3,682 723.4,684 723.6,698.8 723.8,671.6 724,685.1 724.1,707.4 724.3,695.6 724.5,674.5 724.7,668.6 724.8,683.5 725,687.7 725.2,691.7 725.4,678.4 725.5,668.7 725.7,699.1 725.9,674.3 726.1,675.8 726.2,696.8 726.4,683.2 726.6,672.6 726.8,683.3 726.9,692.1 727.1,677.9 727.3,679.6 727.5,672.3 727.6,686 727.8,701.3 728,687.5 728.2,693.7 728.3,686.2 728.5,688.1 728.7,686.2 728.9,675.2 729,691.1 729.2,714.2 729.4,670.4 729.6,697.4 729.7,664.8 729.9,704.4 730.1,682.1 730.3,678.3 730.4,714.4 730.6,699.3 730.8,682.7 731,686.7 731.1,692.6 731.3,686.6 731.5,678.1 731.7,679.8 731.8,679.2 732,688.3 732.2,675.1 732.4,687.4 732.5,688.1 732.7,695.4 732.9,682 733.1,698.4 733.2,683.1 733.4,694.3 733.6,677.1 733.8,688 733.9,693.2 734.1,674.8 734.3,686.4 734.5,693.3 734.6,671 734.8,700.6 735,690.9 735.2,682.8 735.3,683.2 735.5,678.3 735.7,693.4 735.9,691.1 736,678.5 736.2,679.1 736.4,673.4 736.6,715.3 736.8,682.3 736.9,706.6 737.1,691.7 737.3,708.3 737.5,693 737.6,685 737.8,700.3 738,691.4 738.2,687.8 738.3,666.7 738.5,679.9 738.7,692.2 738.9,686.5 739,680.5 739.2,694.8 739.4,667.6 739.6,677.4 739.7,678.1 739.9,703.5 740.1,698.8 740.3,711.1 740.4,706.9 740.6,691.7 740.8,710.8 741,689.6 741.1,710.5 741.3,679.3 741.5,700.1 741.7,672 741.8,693.5 742,678.9 742.2,675 742.4,690.5 742.5,679.9 742.7,668.6 742.9,659.8 743.1,691.5 743.2,701.9 743.4,696.4 743.6,656.7 743.8,692.6 743.9,717.8 744.1,692.7 744.3,665 744.5,692.8 744.6,692.6 744.8,669.4 745,690.7 745.2,674.3 745.3,692.1 745.5,694.5 745.7,698 745.9,678.8 746,683.9 746.2,670.1 746.4,690.9 746.6,682.6 746.7,714.9 746.9,701.3 747.1,690.8 747.3,698.9 747.4,673.8 747.6,679.4 747.8,674.4 748,690.3 748.1,685.8 748.3,718.7 748.5,691.5 748.7,682 748.8,691.2 749,695.8 749.2,707.6 749.4,690.2 749.5,700.9 749.7,700.6 749.9,688.6 750.1,696 750.2,683.8 750.4,709.2 750.6,695 750.8,704.7 750.9,712.6 751.1,712.4 751.3,699.2 751.5,719.4 751.6,702.9 751.8,685.1 752,690.6 752.2,690.1 752.3,679.7 752.5,684 752.7,687 752.9,700.6 753,704.1 753.2,690.3 753.4,691.2 753.6,674.7 753.7,704.4 753.9,685.4 754.1,702 754.3,673.1 754.4,701.1 754.6,710.1 754.8,696.6 755,698.9 755.1,688 755.3,684.3 755.5,697.7 755.7,690.2 755.8,689.4 756,717.8 756.2,709.4 756.4,689.5 756.5,690.9 756.7,692.1 756.9,704.5 757.1,691.1 757.2,702 757.4,660.6 757.6,707.1 757.8,693.2 758,707.4 758.1,676.6 758.3,680.5 758.5,691.2 758.7,694.4 758.8,690.2 759,706.3 759.2,694.7 759.4,692.8 759.5,675.4 759.7,685.3 759.9,669.4 760.1,703.8 760.2,692.5 760.4,690.7 760.6,680.2 760.8,702.1 760.9,699 761.1,682.7 761.3,700.9 761.5,670.8 761.6,701.9 761.8,690.2 762,696.5 762.2,686.2 762.3,687.3 762.5,688.9 762.7,690 762.9,690.1 763,696 763.2,690.5 763.4,686.3 763.6,688.8 763.7,696.3 763.9,688 764.1,700 764.3,702.7 764.4,684.8 764.6,695.8 764.8,673 765,695.4 765.1,685 765.3,689.4 765.5,677.9 765.7,707.8 765.8,703.6 766,706.5 766.2,686.9 766.4,681.4 766.5,674.8 766.7,691.2 766.9,667.8 767.1,683.5 767.2,679.5 767.4,707.8 767.6,704.9 767.8,694.1 767.9,703.1 768.1,696.5 768.3,686.5 768.5,683.4 768.6,691.5 768.8,668.1 769,694.1 769.2,692.3 769.3,701.3 769.5,693.9 769.7,713.7 769.9,686.5 770,699.6 770.2,700.4 770.4,675.6 770.6,682.4 770.7,677.5 770.9,716.9 771.1,691.6 771.3,677.7 771.4,691.8 771.6,691.1 771.8,667 772,695.6 772.1,722.8 772.3,698.7 772.5,686.4 772.7,671.2 772.8,701.4 773,671.2 773.2,678.7 773.4,699.3 773.5,711.9 773.7,690.6 773.9,697.9 774.1,706.2 774.2,707.3 774.4,711.2 774.6,699.7 774.8,710.7 774.9,690.3 775.1,694.6 775.3,677.9 775.5,691.4 775.6,675.9 775.8,701.9 776,684.9 776.2,703.1 776.3,696.2 776.5,712.6 776.7,695.8 776.9,686.8 777,677.2 777.2,691.8 777.4,678.6 777.6,699.6 777.7,682.1 777.9,683.8 778.1,685.8 778.3,704.4 778.5,704 778.6,697.5 778.8,694.9 779,699.2 779.2,681.7 779.3,701.3 779.5,683.4 779.7,698.1 779.9,693.1 780,701.4 780.2,680.9 780.4,691.7 780.6,691.4 780.7,683.9 780.9,697 781.1,689.4 781.3,686.6 781.4,667.6 781.6,673.6 781.8,678 782,679.7 782.1,695 782.3,697.6 782.5,690 782.7,692 782.8,699.5 783,695 783.2,686.1 783.4,679.1 783.5,676.8 783.7,668.5 783.9,682.1 784.1,683.8 784.2,671.9 784.4,690.3 784.6,692.2 784.8,707.4 784.9,684.6 785.1,669.5 785.3,677.1 785.5,705.8 785.6,687.4 785.8,683.9 786,699.7 786.2,707.2 786.3,674.4 786.5,671.8 786.7,676.7 786.9,678.3 787,674.5 787.2,654.9 787.4,678.8 787.6,673.3 787.7,685.8 787.9,674.5 788.1,669 788.3,673.9 788.4,671 788.6,680.3 788.8,673.7 789,682.3 789.1,689.1 789.3,694.1 789.5,681.5 789.7,670.5 789.8,670.2 790,677.1 790.2,695.7 790.4,716.2 790.5,683.5 790.7,692.6 790.9,677.1 791.1,684.4 791.2,666.6 791.4,688.4 791.6,710.5 791.8,691.6 791.9,684.3 792.1,683.6 792.3,654.4 792.5,672.3 792.6,687.4 792.8,659.6 793,692.6 793.2,698 793.3,704.3 793.5,663 793.7,673.9 793.9,681.7 794,668.2 794.2,679.2 794.4,687.1 794.6,690.1 794.7,699.6 794.9,693.7 795.1,679.5 795.3,679.4 795.4,696.3 795.6,696.5 795.8,694.7 796,685.1 796.1,694.1 796.3,680.2 796.5,687.6 796.7,696.7 796.8,664.6 797,708 797.2,680.9 797.4,706.3 797.5,672.6 797.7,702.6 797.9,686.5 798.1,672.1 798.2,703.9 798.4,692.8 798.6,694.9 798.8,697 798.9,679.7 799.1,673.6 799.3,684.7 799.5,713.6 799.7,689.1 799.8,680.4 800,680.1 800.2,688.2 800.4,679.1 800.5,686.9 800.7,689.8 800.9,701.6 801.1,690.6 801.2,672 801.4,714.2 801.6,698.1 801.8,679.6 801.9,690.6 802.1,689.2 802.3,722.2 802.5,681.2 802.6,704.8 802.8,689.6 803,701.7 803.2,684 803.3,698.1 803.5,677 803.7,694.8 803.9,696.2 804,680.9 804.2,684.6 804.4,703.8 804.6,698.4 804.7,700.2 804.9,679.4 805.1,682.2 805.3,674.5 805.4,686 805.6,695 805.8,694.8 806,694.6 806.1,694.1 806.3,685.5 806.5,686.2 806.7,704.4 806.8,672.8 807,700.9 807.2,683.6 807.4,667.6 807.5,691.7 807.7,685.5 807.9,695.8 808.1,679.1 808.2,674.1 808.4,689.1 808.6,696 808.8,682.5 808.9,679.5 809.1,699.1 809.3,684.5 809.5,689.5 809.6,683.8 809.8,690.6 810,693.3 810.2,683.1 810.3,702.4 810.5,684.2 810.7,715.4 810.9,691.3 811,695.9 811.2,684.9 811.4,672.4 811.6,684.9 811.7,675.9 811.9,667.2 812.1,691.4 812.3,684 812.4,667.3 812.6,688.7 812.8,685.2 813,687.2 813.1,692.2 813.3,693.9 813.5,700.8 813.7,688.7 813.8,684.3 814,707.3 814.2,691.2 814.4,706.6 814.5,689.7 814.7,690.2 814.9,685.3 815.1,689.6 815.2,710.6 815.4,704.7 815.6,702.1 815.8,685.1 815.9,691.1 816.1,689.1 816.3,685.5 816.5,661.3 816.6,674.4 816.8,666.9 817,700.2 817.2,686.1 817.3,698 817.5,679.1 817.7,673.1 817.9,687.6 818,702.3 818.2,685.3 818.4,688.8 818.6,696.5 818.7,677.5 818.9,678.9 819.1,683.2 819.3,675.1 819.4,688.3 819.6,704.6 819.8,699.1 820,684.2 820.1,686.6 820.3,696.1 820.5,663.6 820.7,688.1 820.9,713 821,688.4 821.2,693.2 821.4,684.6 821.6,680.7 821.7,680.9 821.9,697.6 822.1,697.4 822.3,688.7 822.4,685.2 822.6,688.9 822.8,678 823,679.2 823.1,673.4 823.3,688.8 823.5,693.1 823.7,702.4 823.8,695.4 824,690.9 824.2,691.6 824.4,700 824.5,687.6 824.7,688 824.9,695.4 825.1,674.4 825.2,706.3 825.4,686.9 825.6,689.4 825.8,686.3 825.9,678 826.1,653.4 826.3,698.6 826.5,689.2 826.6,684.1 826.8,675.6 827,686.9 827.2,672.6 827.3,682.1 827.5,679.3 827.7,680.1 827.9,688.3 828,685.6 828.2,687.8 828.4,692.6 828.6,698.6 828.7,678.2 828.9,667.8 829.1,679.1 829.3,675.4 829.4,678.6 829.6,680.8 829.8,670.7 830,682.6 830.1,680.3 830.3,695.3 830.5,685.9 830.7,697.6 830.8,676 831,680.6 831.2,715.5 831.4,688.2 831.5,660.7 831.7,675.3 831.9,699.8 832.1,673 832.2,711.5 832.4,706 832.6,690.4 832.8,687.9 832.9,679.5 833.1,694.9 833.3,680.8 833.5,686.5 833.6,690.5 833.8,689.8 834,705.4 834.2,686.2 834.3,684.8 834.5,686.2 834.7,682.5 834.9,686.3 835,679.8 835.2,702 835.4,696.9 835.6,682.6 835.7,687.8 835.9,677 836.1,693.8 836.3,688 836.4,700.3 836.6,687.3 836.8,676.3 837,712.8 837.1,692.4 837.3,657.6 837.5,675.9 837.7,693.1 837.8,681.3 838,702.4 838.2,698.2 838.4,673.2 838.5,708.7 838.7,704.4 838.9,676.9 839.1,690.7 839.2,680.5 839.4,686.6 839.6,685.8 839.8,697.7 839.9,691.1 840.1,692.9 840.3,680.8 840.5,697.2 840.6,694.1 840.8,681.4 841,715.7 841.2,690.2 841.4,696.4 841.5,709.2 841.7,688.5 841.9,679.5 842.1,674.9 842.2,701.4 842.4,685.4 842.6,691 842.8,684.3 842.9,684.8 843.1,672.1 843.3,705.2 843.5,689.2 843.6,692.9 843.8,690.9 844,682.5 844.2,696.6 844.3,670.4 844.5,703.6 844.7,680.8 844.9,692.9 845,674.5 845.2,694.9 845.4,670.2 845.6,691.8 845.7,672.7 845.9,704.4 846.1,685.8 846.3,693 846.4,676.4 846.6,698.1 846.8,667.8 847,690.4 847.1,702.8 847.3,699.1 847.5,697.4 847.7,673.2 847.8,675.3 848,680.5 848.2,691.5 848.4,693.7 848.5,705 848.7,688.1 848.9,685.4 849.1,709.1 849.2,696.7 849.4,704.6 849.6,679.4 849.8,690.9 849.9,700.1 850.1,673.6 850.3,691.6 850.5,705.2 850.6,673.6 850.8,688.3 851,684 851.2,676.7 851.3,683.4 851.5,665.5 851.7,694.5 851.9,694.6 852,704.5 852.2,701.6 852.4,673.8 852.6,698.7 852.7,666.4 852.9,676.3 853.1,680.7 853.3,696.2 853.4,671.5 853.6,689 853.8,702.1 854,688.9 854.1,679.5 854.3,672.6 854.5,694.6 854.7,690 854.8,672 855,672.8 855.2,685.5 855.4,682.8 855.5,680.9 855.7,701.6 855.9,694.7 856.1,693.6 856.2,683.4 856.4,691.5 856.6,683.4 856.8,678.2 856.9,687 857.1,689.4 857.3,681.7 857.5,680.7 857.6,695.1 857.8,707.7 858,681.6 858.2,684.9 858.3,677.5 858.5,713.3 858.7,688.9 858.9,673.2 859,688 859.2,702.9 859.4,697.7 859.6,691.6 859.7,676.1 859.9,684.2 860.1,678.7 860.3,705.9 860.4,683.6 860.6,691.2 860.8,689.1 861,694.3 861.1,672.2 861.3,688.8 861.5,666.7 861.7,678.5 861.8,674.4 862,677.6 862.2,680.1 862.4,676.5 862.6,687.1 862.7,682.5 862.9,701.4 863.1,694.6 863.3,682.6 863.4,691 863.6,689.5 863.8,693.1 864,687.6 864.1,698.5 864.3,684.4 864.5,685.2 864.7,683.6 864.8,709.4 865,692.9 865.2,668.4 865.4,703.7 865.5,694.2 865.7,683.5 865.9,702.7 866.1,682 866.2,672 866.4,664.3 866.6,688.8 866.8,668.9 866.9,688.1 867.1,678.6 867.3,701.6 867.5,690.5 867.6,680.6 867.8,680.7 868,666.9 868.2,677.9 868.3,664.2 868.5,681.5 868.7,684.9 868.9,662.7 869,705 869.2,685.1 869.4,672.7 869.6,655.4 869.7,689.4 869.9,685.8 870.1,679 870.3,682.9 870.4,685.3 870.6,682 870.8,682.1 871,693.2 871.1,686.3 871.3,684.4 871.5,696.1 871.7,673.7 871.8,686.2 872,714 872.2,679 872.4,679.1 872.5,695.5 872.7,683.7 872.9,681.4 873.1,684.4 873.2,707.9 873.4,695.3 873.6,684.2 873.8,691.8 873.9,686.2 874.1,704.4 874.3,673.3 874.5,688.1 874.6,725.2 874.8,686.6 875,690.5 875.2,695.3 875.3,696.5 875.5,705.2 875.7,684 875.9,684.6 876,664.1 876.2,671.7 876.4,678.4 876.6,674.1 876.7,694.1 876.9,676.2 877.1,688 877.3,685.4 877.4,689.6 877.6,679.3 877.8,684.8 878,674.2 878.1,702.8 878.3,699.7 878.5,684.8 878.7,707.6 878.8,684.1 879,680.6 879.2,666.4 879.4,682.1 879.5,678.8 879.7,693.4 879.9,684.7 880.1,693 880.2,692 880.4,680.4 880.6,698 880.8,684.7 880.9,698.3 881.1,699.6 881.3,704.7 881.5,681.2 881.6,684.3 881.8,700.3 882,707.2 882.2,670.8 882.3,696.6 882.5,691.9 882.7,706.6 882.9,682.4 883,691.3 883.2,692 883.4,675.5 883.6,690.6 883.8,703.2 883.9,701.5 884.1,690.8 884.3,682.3 884.5,701.8 884.6,680 884.8,683.4 885,669.5 885.2,694.5 885.3,694.9 885.5,687.5 885.7,685.2 885.9,698.8 886,703.6 886.2,693.9 886.4,680.7 886.6,682.5 886.7,694.5 886.9,704.3 887.1,691.6 887.3,698.7 887.4,693.2 887.6,707.5 887.8,688.2 888,679.8 888.1,683.4 888.3,695.2 888.5,698.1 888.7,699.2 888.8,708.2 889,677.4 889.2,712.2 889.4,692.6 889.5,697.7 889.7,707.7 889.9,681 890.1,681.7 890.2,675.8 890.4,692.7 890.6,689.1 890.8,667.9 890.9,683.9 891.1,692 891.3,697.6 891.5,683 891.6,681.7 891.8,695.5 892,675.6 892.2,706.5 892.3,677.5 892.5,685.3 892.7,693.6 892.9,694.2 893,696.6 893.2,679.2 893.4,712 893.6,706.9 893.7,700.3 893.9,682.5 894.1,671.4 894.3,671.4 894.4,669.3 894.6,684.9 894.8,690 895,707.3 895.1,700.5 895.3,715.3 895.5,706 895.7,707.5 895.8,699.7 896,701.3 896.2,690.8 896.4,697 896.5,697.1 896.7,677.6 896.9,676.9 897.1,693.6 897.2,701.6 897.4,694.6 897.6,694.2 897.8,684.6 897.9,694.5 898.1,685.6 898.3,712.6 898.5,695.9 898.6,679.7 898.8,680 899,699.4 899.2,670.1 899.3,689.3 899.5,692.4 899.7,683 899.9,703.9 900,682.6 900.2,698.9 900.4,696.8 900.6,689.2 900.7,698.3 900.9,692.7 901.1,709.2 901.3,710.8 901.4,703 901.6,689 901.8,701.8 902,690.3 902.1,706.2 902.3,686.5 902.5,696 902.7,695.3 902.8,701.3 903,702.3 903.2,712.9 903.4,688.5 903.5,669.1 903.7,677.1 903.9,700.7 904.1,699 904.2,682.4 904.4,680.2 904.6,701.4 904.8,690.7 905,692.1 905.1,689.5 905.3,674.8 905.5,690.4 905.7,684.9 905.8,717.5 906,708.4 906.2,687.7 906.4,699.4 906.5,690.7 906.7,700 906.9,679.3 907.1,711.7 907.2,678.1 907.4,655.8 907.6,689.2 907.8,679.5 907.9,692 908.1,702 908.3,714.1 908.5,679.6 908.6,697.6 908.8,700.9 909,692.2 909.2,686.6 909.3,699.6 909.5,697 909.7,686.2 909.9,676 910,706.3 910.2,673.5 910.4,708.5 910.6,704.2 910.7,700.2 910.9,690.7 911.1,703.1 911.3,683.5 911.4,665.3 911.6,664 911.8,670.9 912,700.6 912.1,696.4 912.3,663.6 912.5,684 912.7,686.6 912.8,699.1 913,673 913.2,654.3 913.4,673 913.5,680.7 913.7,684.7 913.9,687.5 914.1,678.3 914.2,702 914.4,700.5 914.6,680 914.8,687.3 914.9,685.4 915.1,709.5 915.3,689.9 915.5,672.6 915.6,698.3 915.8,689.1 916,711.5 916.2,696.8 916.3,689.6 916.5,685.9 916.7,689.8 916.9,690.4 917,697.1 917.2,682.8 917.4,673.1 917.6,685.7 917.7,686.4 917.9,677.4 918.1,693.7 918.3,708.5 918.4,689 918.6,703.5 918.8,679.9 919,673.1 919.1,676.5 919.3,693.5 919.5,678.2 919.7,686.2 919.8,690.4 920,691.1 920.2,702.2 920.4,694.3 920.5,687.1 920.7,669.6 920.9,689.9 921.1,675.5 921.2,690.5 921.4,671.2 921.6,679.6 921.8,697.5 921.9,690.5 922.1,703.5 922.3,689.3 922.5,703.1 922.6,690.1 922.8,686.7 923,705.4 923.2,689.6 923.3,686.2 923.5,695.4 923.7,682.9 923.9,686.8 924,688.8 924.2,683.2 924.4,674.6 924.6,689.4 924.7,680.5 924.9,678.9 925.1,681.7 925.3,692.4 925.5,685.2 925.6,690.4 925.8,683.6 926,674.5 926.2,676 926.3,698.5 926.5,690.1 926.7,694 926.9,696.4 927,672.7 927.2,685.2 927.4,692 927.6,679.8 927.7,683.4 927.9,672.6 928.1,698 928.3,678.4 928.4,693.5 928.6,687.4 928.8,691.8 929,697.4 929.1,671.8 929.3,700.5 929.5,686.2 929.7,699.2 929.8,679.8 930,675.6 930.2,682.5 930.4,680.8 930.5,701.4 930.7,683.5 930.9,693.6 931.1,705.4 931.2,692.6 931.4,673.8 931.6,694.7 931.8,687.8 931.9,685.5 932.1,688.4 932.3,698.1 932.5,704.4 932.6,670.1 932.8,668 933,690.9 933.2,699.4 933.3,685.3 933.5,672.7 933.7,676.6 933.9,687.7 934,690.6 934.2,698.2 934.4,686.6 934.6,689.8 934.7,678.4 934.9,702.2 935.1,705.3 935.3,714.6 935.4,697.2 935.6,699.2 935.8,692.6 936,698.4 936.1,700.6 936.3,684.9 936.5,700.3 936.7,685.3 936.8,692.1 937,691.9 937.2,675.6 937.4,680.5 937.5,695.9 937.7,691.9 937.9,677.7 938.1,711.6 938.2,687.5 938.4,678.4 938.6,690.8 938.8,660.2 938.9,683.6 939.1,695.1 939.3,700.3 939.5,697.1 939.6,692.6 939.8,685.1 940,679 940.2,698.8 940.3,713.6 940.5,685.9 940.7,707 940.9,678.3 941,694 941.2,700.2 941.4,701.6 941.6,686.7 941.7,676.2 941.9,684.4 942.1,655.2 942.3,682.2 942.4,700.5 942.6,705.3 942.8,699 943,692.6 943.1,690 943.3,704.8 943.5,681.3 943.7,691.3 943.8,699.4 944,699.4 944.2,698.3 944.4,699.3 944.5,682.4 944.7,694.1 944.9,687.1 945.1,688.1 945.2,685.8 945.4,693.6 945.6,707.3 945.8,687.8 945.9,692.2 946.1,704.3 946.3,691.9 946.5,689.7 946.7,677.7 946.8,672.3 947,692.2 947.2,687.1 947.4,692.1 947.5,674 947.7,687.1 947.9,682.8 948.1,687.4 948.2,691.4 948.4,681.3 948.6,671.7 948.8,704.6 948.9,693.7 949.1,695.8 949.3,684.1 949.5,682.6 949.6,686.4 949.8,681.9 950,687.9 950.2,695.9 950.3,692.5 950.5,681.9 950.7,688.1 950.9,679 951,686.3 951.2,692.8 951.4,680.4 951.6,660.1 951.7,684.3 951.9,681 952.1,676.2 952.3,707.1 952.4,667.3 952.6,702 952.8,690.2 953,685.7 953.1,681.5 953.3,680 953.5,691.2 953.7,685.8 953.8,687.5 954,683.2 954.2,670.7 954.4,696 954.5,669.2 954.7,690.1 954.9,702 955.1,680.1 955.2,687.1 955.4,689.2 955.6,671.7 955.8,688.5 955.9,674.8 956.1,695 956.3,671.2 956.5,677.5 956.6,686.2 956.8,691.7 957,684.3 957.2,695 957.3,684.5 957.5,712 957.7,699.4 957.9,682.1 958,683 958.2,680.4 958.4,681.2 958.6,676.6 958.7,685.8 958.9,696.6 959.1,712.4 959.3,673.3 959.4,667.1 959.6,686.1 959.8,687.2 960,679 960.1,703.1 960.3,667.3 960.5,685.1 960.7,703.4 960.8,683.1 961,687 961.2,689.8 961.4,682.9 961.5,683.1 961.7,683.7 961.9,683.8 962.1,690.4 962.2,689 962.4,691.2 962.6,677 962.8,661.1 962.9,707.9 963.1,697.4 963.3,664.5 963.5,694 963.6,678.4 963.8,688.2 964,705 964.2,669.5 964.3,701.6 964.5,685.5 964.7,695.4 964.9,686.8 965,693 965.2,675.2 965.4,657.5 965.6,670.1 965.7,686.8 965.9,684.1 966.1,660 966.3,686.7 966.4,676.3 966.6,670.9 966.8,678.9 967,687.4 967.1,681.3 967.3,680.9 967.5,698.3" fill="none" stroke="#cf2a8f" stroke-width="1.5" stroke-linejoin="round"/>
</g>
<line x1="547" y1="573.3" x2="547" y2="918.7" stroke="#111" stroke-width="1.6" />
<line x1="547" y1="918" x2="967.5" y2="918" stroke="#111" stroke-width="1.6" />
<line x1="547" y1="574" x2="967.5" y2="574" stroke="#111" stroke-width="1.6" />
<line x1="967.5" y1="573.3" x2="967.5" y2="918.7" stroke="#b8348c" stroke-width="1.5" />
<line x1="547" y1="918" x2="540.5" y2="918" stroke="#111" stroke-width="1.6" />
<text x="536" y="923.2" font-size="14.6" text-anchor="end" fill="#111" stroke="#111" stroke-width="0.08" >0</text>
<line x1="547" y1="883.6" x2="540.5" y2="883.6" stroke="#111" stroke-width="1.6" />
<text x="536" y="888.8" font-size="14.6" text-anchor="end" fill="#111" stroke="#111" stroke-width="0.08" >1</text>
<line x1="547" y1="849.2" x2="540.5" y2="849.2" stroke="#111" stroke-width="1.6" />
<text x="536" y="854.4" font-size="14.6" text-anchor="end" fill="#111" stroke="#111" stroke-width="0.08" >2</text>
<line x1="547" y1="814.8" x2="540.5" y2="814.8" stroke="#111" stroke-width="1.6" />
<text x="536" y="820" font-size="14.6" text-anchor="end" fill="#111" stroke="#111" stroke-width="0.08" >3</text>
<line x1="547" y1="780.4" x2="540.5" y2="780.4" stroke="#111" stroke-width="1.6" />
<text x="536" y="785.6" font-size="14.6" text-anchor="end" fill="#111" stroke="#111" stroke-width="0.08" >4</text>
<line x1="547" y1="746" x2="540.5" y2="746" stroke="#111" stroke-width="1.6" />
<text x="536" y="751.2" font-size="14.6" text-anchor="end" fill="#111" stroke="#111" stroke-width="0.08" >5</text>
<line x1="547" y1="711.6" x2="540.5" y2="711.6" stroke="#111" stroke-width="1.6" />
<text x="536" y="716.8" font-size="14.6" text-anchor="end" fill="#111" stroke="#111" stroke-width="0.08" >6</text>
<line x1="547" y1="677.2" x2="540.5" y2="677.2" stroke="#111" stroke-width="1.6" />
<text x="536" y="682.4" font-size="14.6" text-anchor="end" fill="#111" stroke="#111" stroke-width="0.08" >7</text>
<line x1="547" y1="642.8" x2="540.5" y2="642.8" stroke="#111" stroke-width="1.6" />
<text x="536" y="648" font-size="14.6" text-anchor="end" fill="#111" stroke="#111" stroke-width="0.08" >8</text>
<line x1="547" y1="608.4" x2="540.5" y2="608.4" stroke="#111" stroke-width="1.6" />
<text x="536" y="613.6" font-size="14.6" text-anchor="end" fill="#111" stroke="#111" stroke-width="0.08" >9</text>
<line x1="547" y1="574" x2="540.5" y2="574" stroke="#111" stroke-width="1.6" />
<text x="536" y="579.2" font-size="14.6" text-anchor="end" fill="#111" stroke="#111" stroke-width="0.08" >10</text>
<line x1="547" y1="900.8" x2="543.4" y2="900.8" stroke="#111" stroke-width="1.6" />
<line x1="547" y1="866.4" x2="543.4" y2="866.4" stroke="#111" stroke-width="1.6" />
<line x1="547" y1="832" x2="543.4" y2="832" stroke="#111" stroke-width="1.6" />
<line x1="547" y1="797.6" x2="543.4" y2="797.6" stroke="#111" stroke-width="1.6" />
<line x1="547" y1="763.2" x2="543.4" y2="763.2" stroke="#111" stroke-width="1.6" />
<line x1="547" y1="728.8" x2="543.4" y2="728.8" stroke="#111" stroke-width="1.6" />
<line x1="547" y1="694.4" x2="543.4" y2="694.4" stroke="#111" stroke-width="1.6" />
<line x1="547" y1="660" x2="543.4" y2="660" stroke="#111" stroke-width="1.6" />
<line x1="547" y1="625.6" x2="543.4" y2="625.6" stroke="#111" stroke-width="1.6" />
<line x1="547" y1="591.2" x2="543.4" y2="591.2" stroke="#111" stroke-width="1.6" />
<line x1="547" y1="918" x2="547" y2="924.5" stroke="#111" stroke-width="1.6" />
<text x="547" y="941.4" font-size="14.6" text-anchor="middle" fill="#111" stroke="#111" stroke-width="0.08" >0</text>
<line x1="599.6" y1="918" x2="599.6" y2="924.5" stroke="#111" stroke-width="1.6" />
<text x="599.6" y="941.4" font-size="14.6" text-anchor="middle" fill="#111" stroke="#111" stroke-width="0.08" >5</text>
<line x1="652.1" y1="918" x2="652.1" y2="924.5" stroke="#111" stroke-width="1.6" />
<text x="652.1" y="941.4" font-size="14.6" text-anchor="middle" fill="#111" stroke="#111" stroke-width="0.08" >10</text>
<line x1="704.7" y1="918" x2="704.7" y2="924.5" stroke="#111" stroke-width="1.6" />
<text x="704.7" y="941.4" font-size="14.6" text-anchor="middle" fill="#111" stroke="#111" stroke-width="0.08" >15</text>
<line x1="757.2" y1="918" x2="757.2" y2="924.5" stroke="#111" stroke-width="1.6" />
<text x="757.2" y="941.4" font-size="14.6" text-anchor="middle" fill="#111" stroke="#111" stroke-width="0.08" >20</text>
<line x1="809.8" y1="918" x2="809.8" y2="924.5" stroke="#111" stroke-width="1.6" />
<text x="809.8" y="941.4" font-size="14.6" text-anchor="middle" fill="#111" stroke="#111" stroke-width="0.08" >25</text>
<line x1="862.4" y1="918" x2="862.4" y2="924.5" stroke="#111" stroke-width="1.6" />
<text x="862.4" y="941.4" font-size="14.6" text-anchor="middle" fill="#111" stroke="#111" stroke-width="0.08" >30</text>
<line x1="914.9" y1="918" x2="914.9" y2="924.5" stroke="#111" stroke-width="1.6" />
<text x="914.9" y="941.4" font-size="14.6" text-anchor="middle" fill="#111" stroke="#111" stroke-width="0.08" >35</text>
<line x1="967.5" y1="918" x2="967.5" y2="924.5" stroke="#111" stroke-width="1.6" />
<text x="967.5" y="941.4" font-size="14.6" text-anchor="middle" fill="#111" stroke="#111" stroke-width="0.08" >40</text>
<line x1="573.3" y1="918" x2="573.3" y2="921.6" stroke="#111" stroke-width="1.6" />
<line x1="625.8" y1="918" x2="625.8" y2="921.6" stroke="#111" stroke-width="1.6" />
<line x1="678.4" y1="918" x2="678.4" y2="921.6" stroke="#111" stroke-width="1.6" />
<line x1="731" y1="918" x2="731" y2="921.6" stroke="#111" stroke-width="1.6" />
<line x1="783.5" y1="918" x2="783.5" y2="921.6" stroke="#111" stroke-width="1.6" />
<line x1="836.1" y1="918" x2="836.1" y2="921.6" stroke="#111" stroke-width="1.6" />
<line x1="888.7" y1="918" x2="888.7" y2="921.6" stroke="#111" stroke-width="1.6" />
<line x1="941.2" y1="918" x2="941.2" y2="921.6" stroke="#111" stroke-width="1.6" />
<line x1="967.5" y1="918" x2="973.5" y2="918" stroke="#b8348c" stroke-width="1.5" />
<text x="980" y="922.9" font-size="13.8" text-anchor="start" fill="#b8348c" stroke="#b8348c" stroke-width="0.08" >0</text>
<line x1="967.5" y1="879.8" x2="973.5" y2="879.8" stroke="#b8348c" stroke-width="1.5" />
<text x="980" y="884.7" font-size="13.8" text-anchor="start" fill="#b8348c" stroke="#b8348c" stroke-width="0.08" >20</text>
<line x1="967.5" y1="841.6" x2="973.5" y2="841.6" stroke="#b8348c" stroke-width="1.5" />
<text x="980" y="846.5" font-size="13.8" text-anchor="start" fill="#b8348c" stroke="#b8348c" stroke-width="0.08" >40</text>
<line x1="967.5" y1="803.3" x2="973.5" y2="803.3" stroke="#b8348c" stroke-width="1.5" />
<text x="980" y="808.2" font-size="13.8" text-anchor="start" fill="#b8348c" stroke="#b8348c" stroke-width="0.08" >60</text>
<line x1="967.5" y1="765.1" x2="973.5" y2="765.1" stroke="#b8348c" stroke-width="1.5" />
<text x="980" y="770" font-size="13.8" text-anchor="start" fill="#b8348c" stroke="#b8348c" stroke-width="0.08" >80</text>
<line x1="967.5" y1="726.9" x2="973.5" y2="726.9" stroke="#b8348c" stroke-width="1.5" />
<text x="980" y="731.8" font-size="13.8" text-anchor="start" fill="#b8348c" stroke="#b8348c" stroke-width="0.08" >100</text>
<line x1="967.5" y1="688.7" x2="973.5" y2="688.7" stroke="#b8348c" stroke-width="1.5" />
<text x="980" y="693.6" font-size="13.8" text-anchor="start" fill="#b8348c" stroke="#b8348c" stroke-width="0.08" >120</text>
<line x1="967.5" y1="650.4" x2="973.5" y2="650.4" stroke="#b8348c" stroke-width="1.5" />
<text x="980" y="655.3" font-size="13.8" text-anchor="start" fill="#b8348c" stroke="#b8348c" stroke-width="0.08" >140</text>
<line x1="967.5" y1="612.2" x2="973.5" y2="612.2" stroke="#b8348c" stroke-width="1.5" />
<text x="980" y="617.1" font-size="13.8" text-anchor="start" fill="#b8348c" stroke="#b8348c" stroke-width="0.08" >160</text>
<line x1="967.5" y1="574" x2="973.5" y2="574" stroke="#b8348c" stroke-width="1.5" />
<text x="980" y="578.9" font-size="13.8" text-anchor="start" fill="#b8348c" stroke="#b8348c" stroke-width="0.08" >180</text>
<line x1="967.5" y1="898.9" x2="970.7" y2="898.9" stroke="#b8348c" stroke-width="1.5" />
<line x1="967.5" y1="860.7" x2="970.7" y2="860.7" stroke="#b8348c" stroke-width="1.5" />
<line x1="967.5" y1="822.4" x2="970.7" y2="822.4" stroke="#b8348c" stroke-width="1.5" />
<line x1="967.5" y1="784.2" x2="970.7" y2="784.2" stroke="#b8348c" stroke-width="1.5" />
<line x1="967.5" y1="746" x2="970.7" y2="746" stroke="#b8348c" stroke-width="1.5" />
<line x1="967.5" y1="707.8" x2="970.7" y2="707.8" stroke="#b8348c" stroke-width="1.5" />
<line x1="967.5" y1="669.6" x2="970.7" y2="669.6" stroke="#b8348c" stroke-width="1.5" />
<line x1="967.5" y1="631.3" x2="970.7" y2="631.3" stroke="#b8348c" stroke-width="1.5" />
<line x1="967.5" y1="593.1" x2="970.7" y2="593.1" stroke="#b8348c" stroke-width="1.5" />
<text transform="translate(500,722) rotate(-90)" font-size="17.5" text-anchor="middle" fill="#111" stroke="#111" stroke-width="0.2">Distance&#8201;(Å)</text>
<text transform="translate(1021,722) rotate(-90)" font-size="17.5" text-anchor="middle" fill="#b8348c" stroke="#b8348c" stroke-width="0.2">C-C-O angle (degree)</text>
<text x="757.5" y="963" font-size="17.5" text-anchor="middle" fill="#111" stroke="#111" stroke-width="0.4" >Time (ps)</text>
<line x1="706.5" y1="591.5" x2="743" y2="591.5" stroke="#cf9a3e" stroke-width="1.3" />
<line x1="835.5" y1="591.5" x2="873.6" y2="591.5" stroke="#8fb544" stroke-width="1.3" />
<line x1="706.5" y1="614.7" x2="743" y2="614.7" stroke="#4a98dc" stroke-width="1.3" />
<line x1="835.5" y1="614.7" x2="873.6" y2="614.7" stroke="#cf2a8f" stroke-width="1.3" />
<text x="751" y="597.5" font-size="16" text-anchor="start" fill="#111" stroke="#111" stroke-width="0.08" >C<tspan font-size="10.8" dy="4.2">acetyl</tspan><tspan font-size="10.8" dy="-4.2">&#8203;</tspan>-O<tspan font-size="10.8" dy="4.2">BAS</tspan><tspan font-size="10.8" dy="-4.2">&#8203;</tspan></text>
<text x="878.6" y="597.5" font-size="16" text-anchor="start" fill="#111" stroke="#111" stroke-width="0.08" >C<tspan font-size="10.8" dy="4.2">acetyl</tspan><tspan font-size="10.8" dy="-4.2">&#8203;</tspan>-O<tspan font-size="10.8" dy="4.2">MeOH</tspan><tspan font-size="10.8" dy="-4.2">&#8203;</tspan></text>
<text x="751" y="620.5" font-size="16" text-anchor="start" fill="#111" stroke="#111" stroke-width="0.08" >O<tspan font-size="10.8" dy="4.2">BAS</tspan><tspan font-size="10.8" dy="-4.2">&#8203;</tspan>-H<tspan font-size="10.8" dy="4.2">MeOH</tspan><tspan font-size="10.8" dy="-4.2">&#8203;</tspan></text>
<text x="878" y="620.5" font-size="16" text-anchor="start" fill="#111" stroke="#111" stroke-width="0.08" >(C-C-O)<tspan font-size="10.8" dy="4.2">acetyl</tspan><tspan font-size="10.8" dy="-4.2">&#8203;</tspan></text>
<polyline points="16.1,1041.8 22.2,1026.6 57.9,1033.7 93.5,1028.6 111.8,1038.8 132.2,1034.7 134.2,1021.5 140.3,1003.1 191.3,1003.1 201.4,1021.5 205.5,1041.8 208.6,1062.2 205.5,1082.6 208.6,1092.8 194.3,1115.2 203.5,1145.7 177,1144.7 164.8,1135.5 150.5,1138.6 132.2,1146.7 111.8,1141.6 89.4,1135.5 91.5,1149.8 81.3,1172.2" fill="none" stroke="#b2deec" stroke-width="0.7"/>
<polyline points="16.1,1041.8 29.3,1060.2 22.2,1072.4 19.2,1090.7 25.3,1109.1 22.2,1125.3 20.2,1141.6 29.3,1164 34.4,1170.2 81.3,1172.2" fill="none" stroke="#b2deec" stroke-width="0.7"/>
<polyline points="29.3,1060.2 57.9,1056.1 79.2,1062.2 89.4,1080.5 91.5,1090.7 93.5,1113.1 89.4,1135.5" fill="none" stroke="#b2deec" stroke-width="0.7"/>
<polyline points="57.9,1033.7 57.9,1056.1" fill="none" stroke="#b2deec" stroke-width="0.7"/>
<polyline points="19.2,1090.7 58.9,1082.6 91.5,1090.7" fill="none" stroke="#b2deec" stroke-width="0.7"/>
<polyline points="58.9,1082.6 60.9,1064.2 57.9,1056.1" fill="none" stroke="#b2deec" stroke-width="0.7"/>
<polyline points="20.2,1141.6 58.9,1145.7 89.4,1135.5" fill="none" stroke="#b2deec" stroke-width="0.7"/>
<polyline points="30.4,1149.8 58.9,1153.9 91.5,1149.8" fill="none" stroke="#b2deec" stroke-width="0.7"/>
<polyline points="91.5,1090.7 103.7,1088.7" fill="none" stroke="#b2deec" stroke-width="0.7"/>
<polyline points="132.2,1034.7 140.3,1056.1 142.4,1092.8 170.9,1092.8 205.5,1082.6" fill="none" stroke="#b2deec" stroke-width="0.7"/>
<polyline points="170.9,1092.8 172.9,1113.1 194.3,1115.2" fill="none" stroke="#b2deec" stroke-width="0.7"/>
<polyline points="142.4,1092.8 148.5,1115.2 172.9,1113.1" fill="none" stroke="#b2deec" stroke-width="0.7"/>
<polyline points="148.5,1115.2 136.3,1133.5 132.2,1146.7" fill="none" stroke="#b2deec" stroke-width="0.7"/>
<polyline points="136.3,1133.5 164.8,1135.5" fill="none" stroke="#b2deec" stroke-width="0.7"/>
<polyline points="93.5,1028.6 91.5,1045.9 79.2,1062.2" fill="none" stroke="#b2deec" stroke-width="0.7"/>
<polyline points="134.2,1021.5 152.6,1025.5 191.3,1019.4 201.4,1021.5" fill="none" stroke="#b2deec" stroke-width="0.7"/>
<polyline points="22.2,1026.6 32.4,1054.1 29.3,1060.2" fill="none" stroke="#b2deec" stroke-width="0.7"/>
<polyline points="16.5,1044.4 26.2,1030.6 61.6,1036.2 97.7,1031.6 111.9,1041.4 132.1,1040 139.2,1023.4 141.7,1007.5 192,1004.2 202.1,1023.5 208.7,1047.3 209.4,1067.7 208.3,1087.7 212.8,1093.7 197.6,1115.9 203.1,1148 181,1147.9 165.5,1140.3 155.3,1139.9 134.3,1150.4 116.6,1142.4 92.2,1141.1 94.5,1153.9 85.3,1175.1" fill="none" stroke="#edb8b8" stroke-width="0.7" stroke-dasharray="7 2"/>
<polyline points="16.5,1044.4 30.6,1063.5 24.8,1074.4 23.6,1092.8 27.6,1113.4 26.5,1130.4 23.5,1143.1 33.8,1169.2 38.1,1174.5 85.3,1175.1" fill="none" stroke="#edb8b8" stroke-width="0.7" stroke-dasharray="7 2"/>
<polyline points="30.6,1063.5 60.4,1058.9 82.2,1063 92.9,1085.5 92,1095 97.1,1113.8 92.2,1141.1" fill="none" stroke="#edb8b8" stroke-width="0.7" stroke-dasharray="7 2"/>
<polyline points="61.6,1036.2 60.4,1058.9" fill="none" stroke="#edb8b8" stroke-width="0.7" stroke-dasharray="7 2"/>
<polyline points="23.6,1092.8 58.8,1086 92,1095" fill="none" stroke="#edb8b8" stroke-width="0.7" stroke-dasharray="7 2"/>
<polyline points="58.8,1086 61.8,1066 60.4,1058.9" fill="none" stroke="#edb8b8" stroke-width="0.7" stroke-dasharray="7 2"/>
<polyline points="23.5,1143.1 62,1149.4 92.2,1141.1" fill="none" stroke="#edb8b8" stroke-width="0.7" stroke-dasharray="7 2"/>
<polyline points="34.2,1153 60.4,1153.9 94.5,1153.9" fill="none" stroke="#edb8b8" stroke-width="0.7" stroke-dasharray="7 2"/>
<polyline points="92,1095 103.9,1089.8" fill="none" stroke="#edb8b8" stroke-width="0.7" stroke-dasharray="7 2"/>
<polyline points="132.1,1040 142.9,1060.2 143.2,1095 175.8,1095 208.3,1087.7" fill="none" stroke="#edb8b8" stroke-width="0.7" stroke-dasharray="7 2"/>
<polyline points="175.8,1095 176.6,1116.7 197.6,1115.9" fill="none" stroke="#edb8b8" stroke-width="0.7" stroke-dasharray="7 2"/>
<polyline points="143.2,1095 151.8,1117.9 176.6,1116.7" fill="none" stroke="#edb8b8" stroke-width="0.7" stroke-dasharray="7 2"/>
<polyline points="151.8,1117.9 139,1137.5 134.3,1150.4" fill="none" stroke="#edb8b8" stroke-width="0.7" stroke-dasharray="7 2"/>
<polyline points="139,1137.5 165.5,1140.3" fill="none" stroke="#edb8b8" stroke-width="0.7" stroke-dasharray="7 2"/>
<polyline points="97.7,1031.6 92,1050.5 82.2,1063" fill="none" stroke="#edb8b8" stroke-width="0.7" stroke-dasharray="7 2"/>
<polyline points="139.2,1023.4 157.1,1025.8 192,1020.9 202.1,1023.5" fill="none" stroke="#edb8b8" stroke-width="0.7" stroke-dasharray="7 2"/>
<polyline points="26.2,1030.6 32.5,1054.9 30.6,1063.5" fill="none" stroke="#edb8b8" stroke-width="0.7" stroke-dasharray="7 2"/>
<polyline points="294.6,1040.6 300.7,1025.4 336.4,1032.5 372,1027.4 390.3,1037.6 410.7,1033.5 412.7,1020.3 418.8,1001.9 469.8,1001.9 479.9,1020.3 484,1040.6 487.1,1061 484,1081.4 487.1,1091.6 472.8,1114 482,1144.5 455.5,1143.5 443.3,1134.3 429,1137.4 410.7,1145.5 390.3,1140.4 367.9,1134.3 370,1148.6 359.8,1171" fill="none" stroke="#b2deec" stroke-width="0.7"/>
<polyline points="294.6,1040.6 307.8,1059 300.7,1071.2 297.7,1089.5 303.8,1107.9 300.7,1124.1 298.7,1140.4 307.8,1162.8 312.9,1169 359.8,1171" fill="none" stroke="#b2deec" stroke-width="0.7"/>
<polyline points="307.8,1059 336.4,1054.9 357.7,1061 367.9,1079.3 370,1089.5 372,1111.9 367.9,1134.3" fill="none" stroke="#b2deec" stroke-width="0.7"/>
<polyline points="336.4,1032.5 336.4,1054.9" fill="none" stroke="#b2deec" stroke-width="0.7"/>
<polyline points="297.7,1089.5 337.4,1081.4 370,1089.5" fill="none" stroke="#b2deec" stroke-width="0.7"/>
<polyline points="337.4,1081.4 339.4,1063 336.4,1054.9" fill="none" stroke="#b2deec" stroke-width="0.7"/>
<polyline points="298.7,1140.4 337.4,1144.5 367.9,1134.3" fill="none" stroke="#b2deec" stroke-width="0.7"/>
<polyline points="308.9,1148.6 337.4,1152.7 370,1148.6" fill="none" stroke="#b2deec" stroke-width="0.7"/>
<polyline points="370,1089.5 382.2,1087.5" fill="none" stroke="#b2deec" stroke-width="0.7"/>
<polyline points="410.7,1033.5 418.8,1054.9 420.9,1091.6 449.4,1091.6 484,1081.4" fill="none" stroke="#b2deec" stroke-width="0.7"/>
<polyline points="449.4,1091.6 451.4,1111.9 472.8,1114" fill="none" stroke="#b2deec" stroke-width="0.7"/>
<polyline points="420.9,1091.6 427,1114 451.4,1111.9" fill="none" stroke="#b2deec" stroke-width="0.7"/>
<polyline points="427,1114 414.8,1132.3 410.7,1145.5" fill="none" stroke="#b2deec" stroke-width="0.7"/>
<polyline points="414.8,1132.3 443.3,1134.3" fill="none" stroke="#b2deec" stroke-width="0.7"/>
<polyline points="372,1027.4 370,1044.7 357.7,1061" fill="none" stroke="#b2deec" stroke-width="0.7"/>
<polyline points="412.7,1020.3 431.1,1024.3 469.8,1018.2 479.9,1020.3" fill="none" stroke="#b2deec" stroke-width="0.7"/>
<polyline points="300.7,1025.4 310.9,1052.9 307.8,1059" fill="none" stroke="#b2deec" stroke-width="0.7"/>
<polyline points="297.5,1041.8 305.8,1030.6 338.6,1036.3 372.8,1028.7 391.6,1041.5 411.5,1039.1 412.7,1021.4 418.9,1006.3 471.4,1004.6 481.4,1023.9 485.9,1041.8 489.1,1062.7 484.2,1086.1 490.5,1095.4 477.4,1116.2 483.7,1146.9 457.4,1147.3 442.9,1137 431.7,1139.4 410.4,1149.5 390,1143.7 368.4,1134.5 370.6,1149 360.2,1174.9" fill="none" stroke="#edb8b8" stroke-width="0.7" stroke-dasharray="7 2"/>
<polyline points="297.5,1041.8 311.6,1061 304,1073.9 300.1,1094.5 305.1,1112.8 304.3,1128 298.3,1140.9 307.6,1164.8 317.9,1173.9 360.2,1174.9" fill="none" stroke="#edb8b8" stroke-width="0.7" stroke-dasharray="7 2"/>
<polyline points="311.6,1061 340.7,1055.6 361.4,1065.4 372.1,1083.9 370.4,1090.5 376.1,1116.1 368.4,1134.5" fill="none" stroke="#edb8b8" stroke-width="0.7" stroke-dasharray="7 2"/>
<polyline points="338.6,1036.3 340.7,1055.6" fill="none" stroke="#edb8b8" stroke-width="0.7" stroke-dasharray="7 2"/>
<polyline points="300.1,1094.5 342.1,1083.9 370.4,1090.5" fill="none" stroke="#edb8b8" stroke-width="0.7" stroke-dasharray="7 2"/>
<polyline points="342.1,1083.9 344.1,1063.8 340.7,1055.6" fill="none" stroke="#edb8b8" stroke-width="0.7" stroke-dasharray="7 2"/>
<polyline points="298.3,1140.9 342.4,1149.6 368.4,1134.5" fill="none" stroke="#edb8b8" stroke-width="0.7" stroke-dasharray="7 2"/>
<polyline points="310.4,1149 340.1,1156.6 370.6,1149" fill="none" stroke="#edb8b8" stroke-width="0.7" stroke-dasharray="7 2"/>
<polyline points="370.4,1090.5 383.8,1087.8" fill="none" stroke="#edb8b8" stroke-width="0.7" stroke-dasharray="7 2"/>
<polyline points="411.5,1039.1 420,1059.6 421,1096.9 450.4,1092.7 484.2,1086.1" fill="none" stroke="#edb8b8" stroke-width="0.7" stroke-dasharray="7 2"/>
<polyline points="450.4,1092.7 451.7,1117.5 477.4,1116.2" fill="none" stroke="#edb8b8" stroke-width="0.7" stroke-dasharray="7 2"/>
<polyline points="421,1096.9 431.7,1115.8 451.7,1117.5" fill="none" stroke="#edb8b8" stroke-width="0.7" stroke-dasharray="7 2"/>
<polyline points="431.7,1115.8 414.9,1136 410.4,1149.5" fill="none" stroke="#edb8b8" stroke-width="0.7" stroke-dasharray="7 2"/>
<polyline points="414.9,1136 442.9,1137" fill="none" stroke="#edb8b8" stroke-width="0.7" stroke-dasharray="7 2"/>
<polyline points="372.8,1028.7 374.6,1044.8 361.4,1065.4" fill="none" stroke="#edb8b8" stroke-width="0.7" stroke-dasharray="7 2"/>
<polyline points="412.7,1021.4 434.3,1029.2 472,1021.5 481.4,1023.9" fill="none" stroke="#edb8b8" stroke-width="0.7" stroke-dasharray="7 2"/>
<polyline points="305.8,1030.6 315.1,1054.2 311.6,1061" fill="none" stroke="#edb8b8" stroke-width="0.7" stroke-dasharray="7 2"/>
<polyline points="557.1,1033.8 563.2,1018.6 598.9,1025.7 634.5,1020.6 652.8,1030.8 673.2,1026.7 675.2,1013.5 681.3,995.1 732.3,995.1 742.4,1013.5 746.5,1033.8 749.6,1054.2 746.5,1074.6 749.6,1084.8 735.3,1107.2 744.5,1137.7 718,1136.7 705.8,1127.5 691.5,1130.6 673.2,1138.7 652.8,1133.6 630.4,1127.5 632.5,1141.8 622.3,1164.2" fill="none" stroke="#b2deec" stroke-width="0.7"/>
<polyline points="557.1,1033.8 570.3,1052.2 563.2,1064.4 560.2,1082.7 566.3,1101.1 563.2,1117.3 561.2,1133.6 570.3,1156 575.4,1162.2 622.3,1164.2" fill="none" stroke="#b2deec" stroke-width="0.7"/>
<polyline points="570.3,1052.2 598.9,1048.1 620.2,1054.2 630.4,1072.5 632.5,1082.7 634.5,1105.1 630.4,1127.5" fill="none" stroke="#b2deec" stroke-width="0.7"/>
<polyline points="598.9,1025.7 598.9,1048.1" fill="none" stroke="#b2deec" stroke-width="0.7"/>
<polyline points="560.2,1082.7 599.9,1074.6 632.5,1082.7" fill="none" stroke="#b2deec" stroke-width="0.7"/>
<polyline points="599.9,1074.6 601.9,1056.2 598.9,1048.1" fill="none" stroke="#b2deec" stroke-width="0.7"/>
<polyline points="561.2,1133.6 599.9,1137.7 630.4,1127.5" fill="none" stroke="#b2deec" stroke-width="0.7"/>
<polyline points="571.4,1141.8 599.9,1145.9 632.5,1141.8" fill="none" stroke="#b2deec" stroke-width="0.7"/>
<polyline points="632.5,1082.7 644.7,1080.7" fill="none" stroke="#b2deec" stroke-width="0.7"/>
<polyline points="673.2,1026.7 681.3,1048.1 683.4,1084.8 711.9,1084.8 746.5,1074.6" fill="none" stroke="#b2deec" stroke-width="0.7"/>
<polyline points="711.9,1084.8 713.9,1105.1 735.3,1107.2" fill="none" stroke="#b2deec" stroke-width="0.7"/>
<polyline points="683.4,1084.8 689.5,1107.2 713.9,1105.1" fill="none" stroke="#b2deec" stroke-width="0.7"/>
<polyline points="689.5,1107.2 677.3,1125.5 673.2,1138.7" fill="none" stroke="#b2deec" stroke-width="0.7"/>
<polyline points="677.3,1125.5 705.8,1127.5" fill="none" stroke="#b2deec" stroke-width="0.7"/>
<polyline points="634.5,1020.6 632.5,1037.9 620.2,1054.2" fill="none" stroke="#b2deec" stroke-width="0.7"/>
<polyline points="675.2,1013.5 693.6,1017.5 732.3,1011.4 742.4,1013.5" fill="none" stroke="#b2deec" stroke-width="0.7"/>
<polyline points="563.2,1018.6 573.4,1046.1 570.3,1052.2" fill="none" stroke="#b2deec" stroke-width="0.7"/>
<polyline points="557.5,1037.4 563.8,1022.6 601.9,1027.9 637.6,1023.8 652.7,1033.8 676.3,1029.7 679.8,1017.7 683.1,996.4 732.6,999.8 746,1017 748.6,1036.7 750.4,1057.2 746.9,1078.1 752.8,1088.6 736.3,1107.7 746,1141.6 720.5,1141 707.8,1129.8 696.3,1131.5 674,1142.1 656,1136.1 633.2,1130 635.9,1146.9 626.6,1167.8" fill="none" stroke="#edb8b8" stroke-width="0.7" stroke-dasharray="7 2"/>
<polyline points="557.5,1037.4 572.6,1057.6 565.4,1068 564.7,1086.6 568.1,1105.3 566.2,1122.6 564.3,1136.7 575.5,1159.1 577.3,1167.5 626.6,1167.8" fill="none" stroke="#edb8b8" stroke-width="0.7" stroke-dasharray="7 2"/>
<polyline points="572.6,1057.6 603.8,1049.1 620.3,1059.1 635.1,1074.7 633.5,1086.6 639.5,1106.3 633.2,1130" fill="none" stroke="#edb8b8" stroke-width="0.7" stroke-dasharray="7 2"/>
<polyline points="601.9,1027.9 603.8,1049.1" fill="none" stroke="#edb8b8" stroke-width="0.7" stroke-dasharray="7 2"/>
<polyline points="564.7,1086.6 602,1078.4 633.5,1086.6" fill="none" stroke="#edb8b8" stroke-width="0.7" stroke-dasharray="7 2"/>
<polyline points="602,1078.4 602.8,1058.6 603.8,1049.1" fill="none" stroke="#edb8b8" stroke-width="0.7" stroke-dasharray="7 2"/>
<polyline points="564.3,1136.7 600.3,1140.4 633.2,1130" fill="none" stroke="#edb8b8" stroke-width="0.7" stroke-dasharray="7 2"/>
<polyline points="572.3,1142.2 601.7,1146.7 635.9,1146.9" fill="none" stroke="#edb8b8" stroke-width="0.7" stroke-dasharray="7 2"/>
<polyline points="633.5,1086.6 645,1081.5" fill="none" stroke="#edb8b8" stroke-width="0.7" stroke-dasharray="7 2"/>
<polyline points="676.3,1029.7 683.3,1049.9 687.1,1087.1 712.9,1085.8 746.9,1078.1" fill="none" stroke="#edb8b8" stroke-width="0.7" stroke-dasharray="7 2"/>
<polyline points="712.9,1085.8 715.2,1109.4 736.3,1107.7" fill="none" stroke="#edb8b8" stroke-width="0.7" stroke-dasharray="7 2"/>
<polyline points="687.1,1087.1 690.2,1109.8 715.2,1109.4" fill="none" stroke="#edb8b8" stroke-width="0.7" stroke-dasharray="7 2"/>
<polyline points="690.2,1109.8 681.5,1130.2 674,1142.1" fill="none" stroke="#edb8b8" stroke-width="0.7" stroke-dasharray="7 2"/>
<polyline points="681.5,1130.2 707.8,1129.8" fill="none" stroke="#edb8b8" stroke-width="0.7" stroke-dasharray="7 2"/>
<polyline points="637.6,1023.8 634.7,1042.7 620.3,1059.1" fill="none" stroke="#edb8b8" stroke-width="0.7" stroke-dasharray="7 2"/>
<polyline points="679.8,1017.7 696.8,1018.8 732.4,1012.4 746,1017" fill="none" stroke="#edb8b8" stroke-width="0.7" stroke-dasharray="7 2"/>
<polyline points="563.8,1022.6 577.5,1048.3 572.6,1057.6" fill="none" stroke="#edb8b8" stroke-width="0.7" stroke-dasharray="7 2"/>
<polyline points="820.6,1036.3 826.7,1021.1 862.4,1028.2 898,1023.1 916.3,1033.3 936.7,1029.2 938.7,1016 944.8,997.6 995.8,997.6 1005.9,1016 1010,1036.3 1013.1,1056.7 1010,1077.1 1013.1,1087.3 998.8,1109.7 1008,1140.2 981.5,1139.2 969.3,1130 955,1133.1 936.7,1141.2 916.3,1136.1 893.9,1130 896,1144.3 885.8,1166.7" fill="none" stroke="#b2deec" stroke-width="0.7"/>
<polyline points="820.6,1036.3 833.8,1054.7 826.7,1066.9 823.7,1085.2 829.8,1103.6 826.7,1119.8 824.7,1136.1 833.8,1158.5 838.9,1164.7 885.8,1166.7" fill="none" stroke="#b2deec" stroke-width="0.7"/>
<polyline points="833.8,1054.7 862.4,1050.6 883.7,1056.7 893.9,1075 896,1085.2 898,1107.6 893.9,1130" fill="none" stroke="#b2deec" stroke-width="0.7"/>
<polyline points="862.4,1028.2 862.4,1050.6" fill="none" stroke="#b2deec" stroke-width="0.7"/>
<polyline points="823.7,1085.2 863.4,1077.1 896,1085.2" fill="none" stroke="#b2deec" stroke-width="0.7"/>
<polyline points="863.4,1077.1 865.4,1058.7 862.4,1050.6" fill="none" stroke="#b2deec" stroke-width="0.7"/>
<polyline points="824.7,1136.1 863.4,1140.2 893.9,1130" fill="none" stroke="#b2deec" stroke-width="0.7"/>
<polyline points="834.9,1144.3 863.4,1148.4 896,1144.3" fill="none" stroke="#b2deec" stroke-width="0.7"/>
<polyline points="896,1085.2 908.2,1083.2" fill="none" stroke="#b2deec" stroke-width="0.7"/>
<polyline points="936.7,1029.2 944.8,1050.6 946.9,1087.3 975.4,1087.3 1010,1077.1" fill="none" stroke="#b2deec" stroke-width="0.7"/>
<polyline points="975.4,1087.3 977.4,1107.6 998.8,1109.7" fill="none" stroke="#b2deec" stroke-width="0.7"/>
<polyline points="946.9,1087.3 953,1109.7 977.4,1107.6" fill="none" stroke="#b2deec" stroke-width="0.7"/>
<polyline points="953,1109.7 940.8,1128 936.7,1141.2" fill="none" stroke="#b2deec" stroke-width="0.7"/>
<polyline points="940.8,1128 969.3,1130" fill="none" stroke="#b2deec" stroke-width="0.7"/>
<polyline points="898,1023.1 896,1040.4 883.7,1056.7" fill="none" stroke="#b2deec" stroke-width="0.7"/>
<polyline points="938.7,1016 957.1,1020 995.8,1013.9 1005.9,1016" fill="none" stroke="#b2deec" stroke-width="0.7"/>
<polyline points="826.7,1021.1 836.9,1048.6 833.8,1054.7" fill="none" stroke="#b2deec" stroke-width="0.7"/>
<polyline points="825.8,1038.9 830.4,1025.3 863.2,1028.6 901,1023.8 918.1,1038.4 941.3,1029.9 938.8,1017.2 949.2,997.8 996.6,998.3 1006.3,1019 1010.7,1038.7 1016.8,1060.8 1012,1081.6 1015.9,1092 999.8,1111.8 1010.9,1145.6 984.6,1141.9 970.3,1131.6 955.9,1138.7 941.3,1146.3 918.9,1140.2 895.2,1132.8 896.4,1146.7 886.8,1167.3" fill="none" stroke="#edb8b8" stroke-width="0.7" stroke-dasharray="7 2"/>
<polyline points="825.8,1038.9 838.7,1055.2 830.9,1070.9 823.8,1088 835,1109.2 829.5,1124.2 828.3,1137.8 836.6,1161.9 840.8,1169.3 886.8,1167.3" fill="none" stroke="#edb8b8" stroke-width="0.7" stroke-dasharray="7 2"/>
<polyline points="838.7,1055.2 864.5,1054.9 883.7,1059.2 893.8,1078.7 900.5,1088.3 900.8,1111.2 895.2,1132.8" fill="none" stroke="#edb8b8" stroke-width="0.7" stroke-dasharray="7 2"/>
<polyline points="863.2,1028.6 864.5,1054.9" fill="none" stroke="#edb8b8" stroke-width="0.7" stroke-dasharray="7 2"/>
<polyline points="823.8,1088 864.3,1079.3 900.5,1088.3" fill="none" stroke="#edb8b8" stroke-width="0.7" stroke-dasharray="7 2"/>
<polyline points="864.3,1079.3 868.3,1062.4 864.5,1054.9" fill="none" stroke="#edb8b8" stroke-width="0.7" stroke-dasharray="7 2"/>
<polyline points="828.3,1137.8 865.1,1142.9 895.2,1132.8" fill="none" stroke="#edb8b8" stroke-width="0.7" stroke-dasharray="7 2"/>
<polyline points="836.3,1147.4 866.8,1150.2 896.4,1146.7" fill="none" stroke="#edb8b8" stroke-width="0.7" stroke-dasharray="7 2"/>
<polyline points="900.5,1088.3 911.7,1088" fill="none" stroke="#edb8b8" stroke-width="0.7" stroke-dasharray="7 2"/>
<polyline points="941.3,1029.9 947.5,1056.2 948.2,1092.5 976,1089.3 1012,1081.6" fill="none" stroke="#edb8b8" stroke-width="0.7" stroke-dasharray="7 2"/>
<polyline points="976,1089.3 981.7,1107.8 999.8,1111.8" fill="none" stroke="#edb8b8" stroke-width="0.7" stroke-dasharray="7 2"/>
<polyline points="948.2,1092.5 956.1,1114.6 981.7,1107.8" fill="none" stroke="#edb8b8" stroke-width="0.7" stroke-dasharray="7 2"/>
<polyline points="956.1,1114.6 945.7,1131.9 941.3,1146.3" fill="none" stroke="#edb8b8" stroke-width="0.7" stroke-dasharray="7 2"/>
<polyline points="945.7,1131.9 970.3,1131.6" fill="none" stroke="#edb8b8" stroke-width="0.7" stroke-dasharray="7 2"/>
<polyline points="901,1023.8 897.5,1042.3 883.7,1059.2" fill="none" stroke="#edb8b8" stroke-width="0.7" stroke-dasharray="7 2"/>
<polyline points="938.8,1017.2 960.3,1020.4 995.5,1019 1006.3,1019" fill="none" stroke="#edb8b8" stroke-width="0.7" stroke-dasharray="7 2"/>
<polyline points="830.4,1025.3 840.1,1049.5 838.7,1055.2" fill="none" stroke="#edb8b8" stroke-width="0.7" stroke-dasharray="7 2"/>
<rect x="142.7" y="1010" width="55" height="99.6" rx="7" ry="7" fill="none" stroke="#7fcdae" stroke-width="2.2" stroke-dasharray="8.5 5"/>
<rect x="26.2" y="1063.8" width="55" height="99.5" rx="7" ry="7" fill="none" stroke="#7fcdae" stroke-width="2.2" stroke-dasharray="8.5 5"/>
<rect x="421.9" y="1008.8" width="53.6" height="99.5" rx="7" ry="7" fill="none" stroke="#7fcdae" stroke-width="2.2" stroke-dasharray="8.5 5"/>
<rect x="304" y="1062.5" width="55" height="99.5" rx="7" ry="7" fill="none" stroke="#7fcdae" stroke-width="2.2" stroke-dasharray="8.5 5"/>
<rect x="683" y="1002" width="56.5" height="101" rx="7" ry="7" fill="none" stroke="#7fcdae" stroke-width="2.2" stroke-dasharray="8.5 5"/>
<rect x="568" y="1056" width="53.6" height="99.4" rx="7" ry="7" fill="none" stroke="#7fcdae" stroke-width="2.2" stroke-dasharray="8.5 5"/>
<rect x="947.2" y="1005.3" width="54.4" height="98.7" rx="7" ry="7" fill="none" stroke="#7fcdae" stroke-width="2.2" stroke-dasharray="8.5 5"/>
<rect x="830.8" y="1057.2" width="54.4" height="100" rx="7" ry="7" fill="none" stroke="#7fcdae" stroke-width="2.2" stroke-dasharray="8.5 5"/>
<line x1="135.2" y1="1091.2" x2="142.6" y2="1103.9" stroke="#d9534f" stroke-width="1.8" stroke-linecap="round"/>
<line x1="142.6" y1="1103.9" x2="150" y2="1116.6" stroke="#9cc3de" stroke-width="1.8" stroke-linecap="round"/>
<line x1="129.1" y1="1066.8" x2="116.8" y2="1062" stroke="#d0d0d0" stroke-width="2.0" stroke-linecap="round"/>
<line x1="129.1" y1="1066.8" x2="137.4" y2="1057.6" stroke="#d0d0d0" stroke-width="2.0" stroke-linecap="round"/>
<line x1="129.1" y1="1066.8" x2="140.6" y2="1071" stroke="#d0d0d0" stroke-width="2.0" stroke-linecap="round"/>
<line x1="129.1" y1="1066.8" x2="122" y2="1083.5" stroke="#6f5145" stroke-width="2.8" stroke-linecap="round"/>
<line x1="122" y1="1083.5" x2="114.4" y2="1086.5" stroke="#6f5145" stroke-width="2.6" stroke-linecap="round"/>
<line x1="114.4" y1="1086.5" x2="106.8" y2="1089.6" stroke="#d9534f" stroke-width="2.6" stroke-linecap="round"/>
<line x1="122" y1="1083.5" x2="128.6" y2="1087.3" stroke="#6f5145" stroke-width="2.6" stroke-linecap="round"/>
<line x1="128.6" y1="1087.3" x2="135.2" y2="1091.2" stroke="#d9534f" stroke-width="2.6" stroke-linecap="round"/>
<circle cx="116.8" cy="1062" r="2.9" fill="url(#gH)"/>
<circle cx="137.4" cy="1057.6" r="2.9" fill="url(#gH)"/>
<circle cx="140.6" cy="1071" r="2.9" fill="url(#gH)"/>
<circle cx="135.2" cy="1091.2" r="5.8" fill="url(#gO)"/>
<circle cx="133.3" cy="1080.2" r="5.6" fill="url(#gN)"/>
<circle cx="129.1" cy="1066.8" r="6.3" fill="url(#gC)"/>
<circle cx="122" cy="1083.5" r="6.3" fill="url(#gC)"/>
<circle cx="106.8" cy="1089.6" r="5.8" fill="url(#gO)"/>
<circle cx="150" cy="1116.6" r="5.8" fill="url(#gL)"/>
<line x1="173.5" y1="1050.8" x2="159.7" y2="1045.2" stroke="#d0d0d0" stroke-width="2.0" stroke-linecap="round"/>
<line x1="173.5" y1="1050.8" x2="180.4" y2="1041.2" stroke="#d0d0d0" stroke-width="2.0" stroke-linecap="round"/>
<line x1="173.5" y1="1050.8" x2="185" y2="1048.5" stroke="#d0d0d0" stroke-width="2.0" stroke-linecap="round"/>
<line x1="173.5" y1="1050.8" x2="172.1" y2="1060.7" stroke="#6f5145" stroke-width="2.6" stroke-linecap="round"/>
<line x1="172.1" y1="1060.7" x2="170.6" y2="1070.6" stroke="#d9534f" stroke-width="2.6" stroke-linecap="round"/>
<line x1="170.6" y1="1070.6" x2="176.3" y2="1074.5" stroke="#d9534f" stroke-width="2.0" stroke-linecap="round"/>
<line x1="176.3" y1="1074.5" x2="182" y2="1078.4" stroke="#d0d0d0" stroke-width="2.0" stroke-linecap="round"/>
<circle cx="159.7" cy="1045.2" r="2.9" fill="url(#gH)"/>
<circle cx="180.4" cy="1041.2" r="2.9" fill="url(#gH)"/>
<circle cx="185" cy="1048.5" r="2.9" fill="url(#gH)"/>
<circle cx="182" cy="1078.4" r="2.9" fill="url(#gH)"/>
<circle cx="173.5" cy="1050.8" r="6.3" fill="url(#gC)"/>
<circle cx="170.6" cy="1070.6" r="5.8" fill="url(#gO)"/>
<text x="157" y="1001" font-size="19.6" text-anchor="start" fill="#111">SP</text>
<text x="90" y="1023" font-size="19.6" text-anchor="start" fill="#111">8MR</text>
<text x="42" y="1056" font-size="19.6" text-anchor="start" fill="#111">SP</text>
<text x="150" y="1037.6" font-size="14.7" text-anchor="start" fill="#111">MeOH</text>
<text x="66.8" y="1110.4" font-size="14.8" text-anchor="start" fill="#111">surface acetyl</text>
<text x="106" y="1167" font-size="19.4" text-anchor="start" fill="#111">(i)</text>
<line x1="214.7" y1="1089.5" x2="279.7" y2="1089.5" stroke="#111" stroke-width="2"/>
<path d="M285.7,1089.5 L274.7,1085.9 L276.7,1089.5 L274.7,1093.1 Z" fill="#111"/>
<line x1="398.3" y1="1047.6" x2="389" y2="1037.6" stroke="#d0d0d0" stroke-width="2.0" stroke-linecap="round"/>
<line x1="398.3" y1="1047.6" x2="414" y2="1047.6" stroke="#d0d0d0" stroke-width="2.0" stroke-linecap="round"/>
<line x1="398.3" y1="1047.6" x2="391" y2="1065" stroke="#6f5145" stroke-width="2.8" stroke-linecap="round"/>
<line x1="391" y1="1065" x2="387.9" y2="1072.7" stroke="#6f5145" stroke-width="2.6" stroke-linecap="round"/>
<line x1="387.9" y1="1072.7" x2="384.7" y2="1080.3" stroke="#d9534f" stroke-width="2.6" stroke-linecap="round"/>
<circle cx="389" cy="1037.6" r="2.9" fill="url(#gH)"/>
<circle cx="414" cy="1047.6" r="2.9" fill="url(#gH)"/>
<circle cx="398.3" cy="1047.6" r="6.3" fill="url(#gC)"/>
<circle cx="391" cy="1065" r="6.3" fill="url(#gC)"/>
<circle cx="384.7" cy="1080.3" r="5.8" fill="url(#gO)"/>
<line x1="448" y1="1056.5" x2="442.8" y2="1047.6" stroke="#d0d0d0" stroke-width="2.0" stroke-linecap="round"/>
<line x1="448" y1="1056.5" x2="463.8" y2="1064.3" stroke="#d0d0d0" stroke-width="2.0" stroke-linecap="round"/>
<line x1="448" y1="1056.5" x2="455" y2="1046.5" stroke="#d0d0d0" stroke-width="2.0" stroke-linecap="round"/>
<line x1="448" y1="1056.5" x2="441.2" y2="1062.1" stroke="#6f5145" stroke-width="2.6" stroke-linecap="round"/>
<line x1="441.2" y1="1062.1" x2="434.4" y2="1067.7" stroke="#d9534f" stroke-width="2.6" stroke-linecap="round"/>
<line x1="434.4" y1="1067.7" x2="434.7" y2="1074.2" stroke="#d9534f" stroke-width="2.0" stroke-linecap="round"/>
<line x1="434.7" y1="1074.2" x2="435" y2="1080.8" stroke="#d0d0d0" stroke-width="2.0" stroke-linecap="round"/>
<circle cx="442.8" cy="1047.6" r="2.9" fill="url(#gH)"/>
<circle cx="463.8" cy="1064.3" r="2.9" fill="url(#gH)"/>
<circle cx="455" cy="1046.5" r="2.9" fill="url(#gH)"/>
<circle cx="435" cy="1080.8" r="2.9" fill="url(#gH)"/>
<circle cx="448" cy="1056.5" r="6.3" fill="url(#gC)"/>
<circle cx="434.4" cy="1067.7" r="5.8" fill="url(#gO)"/>
<circle cx="420.6" cy="1110.4" r="5.8" fill="url(#gO)"/>
<circle cx="425" cy="1114.9" r="5.6" fill="url(#gN)"/>
<text x="439" y="1001" font-size="19.6" text-anchor="start" fill="#111">SP</text>
<text x="372" y="1023" font-size="19.6" text-anchor="start" fill="#111">8MR</text>
<text x="323.7" y="1056" font-size="19.6" text-anchor="start" fill="#111">SP</text>
<text x="427" y="1039" font-size="14.7" text-anchor="start" fill="#111">MeOH</text>
<text x="351" y="1099" font-size="15" text-anchor="start" fill="#111">acylium ion</text>
<text x="382.6" y="1167" font-size="19.4" text-anchor="start" fill="#111">(ii)</text>
<line x1="484.7" y1="1089" x2="551.5" y2="1089" stroke="#111" stroke-width="2"/>
<path d="M557.5,1089 L546.5,1085.4 L548.5,1089 L546.5,1092.6 Z" fill="#111"/>
<line x1="666" y1="1042.8" x2="652.5" y2="1042.8" stroke="#d0d0d0" stroke-width="2.0" stroke-linecap="round"/>
<line x1="666" y1="1042.8" x2="679" y2="1041.5" stroke="#d0d0d0" stroke-width="2.0" stroke-linecap="round"/>
<line x1="666" y1="1042.8" x2="670" y2="1032.4" stroke="#d0d0d0" stroke-width="2.0" stroke-linecap="round"/>
<line x1="666" y1="1042.8" x2="666" y2="1062.5" stroke="#6f5145" stroke-width="2.8" stroke-linecap="round"/>
<line x1="666" y1="1062.5" x2="661.2" y2="1069" stroke="#6f5145" stroke-width="2.6" stroke-linecap="round"/>
<line x1="661.2" y1="1069" x2="656.5" y2="1075.6" stroke="#d9534f" stroke-width="2.6" stroke-linecap="round"/>
<circle cx="652.5" cy="1042.8" r="2.9" fill="url(#gH)"/>
<circle cx="679" cy="1041.5" r="2.9" fill="url(#gH)"/>
<circle cx="670" cy="1032.4" r="2.9" fill="url(#gH)"/>
<circle cx="666" cy="1042.8" r="6.3" fill="url(#gC)"/>
<circle cx="666" cy="1062.5" r="6.3" fill="url(#gC)"/>
<circle cx="656.5" cy="1075.6" r="5.8" fill="url(#gO)"/>
<line x1="709.4" y1="1060" x2="709.4" y2="1045.5" stroke="#d0d0d0" stroke-width="2.0" stroke-linecap="round"/>
<line x1="709.4" y1="1060" x2="718.5" y2="1065" stroke="#d0d0d0" stroke-width="2.0" stroke-linecap="round"/>
<line x1="709.4" y1="1060" x2="714" y2="1069.5" stroke="#d0d0d0" stroke-width="2.0" stroke-linecap="round"/>
<line x1="709.4" y1="1060" x2="699.8" y2="1064.5" stroke="#6f5145" stroke-width="2.6" stroke-linecap="round"/>
<line x1="699.8" y1="1064.5" x2="690.3" y2="1069" stroke="#d9534f" stroke-width="2.6" stroke-linecap="round"/>
<line x1="690.3" y1="1069" x2="689.1" y2="1074.7" stroke="#d9534f" stroke-width="2.0" stroke-linecap="round"/>
<line x1="689.1" y1="1074.7" x2="688" y2="1080.3" stroke="#d0d0d0" stroke-width="2.0" stroke-linecap="round"/>
<circle cx="709.4" cy="1045.5" r="2.9" fill="url(#gH)"/>
<circle cx="718.5" cy="1065" r="2.9" fill="url(#gH)"/>
<circle cx="714" cy="1069.5" r="2.9" fill="url(#gH)"/>
<circle cx="688" cy="1080.3" r="2.9" fill="url(#gH)"/>
<circle cx="709.4" cy="1060" r="6.3" fill="url(#gC)"/>
<circle cx="690.3" cy="1069" r="5.8" fill="url(#gO)"/>
<circle cx="687" cy="1102.3" r="4" fill="url(#gO)"/>
<ellipse cx="688.4" cy="1108.3" rx="5.8" ry="5" fill="url(#gN)" transform="rotate(-35 688.4 1108.3)"/>
<text x="696.3" y="997" font-size="19.6" text-anchor="start" fill="#111">SP</text>
<text x="629.5" y="1020.6" font-size="19.6" text-anchor="start" fill="#111">8MR</text>
<text x="581" y="1052" font-size="19.6" text-anchor="start" fill="#111">SP</text>
<text x="649" y="1167" font-size="19.4" text-anchor="start" fill="#111">(iii)</text>
<line x1="744.7" y1="1088.8" x2="812" y2="1088.8" stroke="#111" stroke-width="2"/>
<path d="M818,1088.8 L807,1085.2 L809,1088.8 L807,1092.4 Z" fill="#111"/>
<line x1="927.5" y1="1047" x2="916.8" y2="1042" stroke="#d0d0d0" stroke-width="2.0" stroke-linecap="round"/>
<line x1="927.5" y1="1047" x2="937" y2="1035.7" stroke="#d0d0d0" stroke-width="2.0" stroke-linecap="round"/>
<line x1="927.5" y1="1047" x2="919.5" y2="1048.5" stroke="#d0d0d0" stroke-width="2.0" stroke-linecap="round"/>
<line x1="970" y1="1060.5" x2="966" y2="1047" stroke="#d0d0d0" stroke-width="2.0" stroke-linecap="round"/>
<line x1="970" y1="1060.5" x2="980" y2="1064.8" stroke="#d0d0d0" stroke-width="2.0" stroke-linecap="round"/>
<line x1="970" y1="1060.5" x2="975" y2="1067" stroke="#d0d0d0" stroke-width="2.0" stroke-linecap="round"/>
<line x1="927.5" y1="1047" x2="934.6" y2="1066" stroke="#6f5145" stroke-width="2.8" stroke-linecap="round"/>
<line x1="934.6" y1="1066" x2="928.2" y2="1072.8" stroke="#6f5145" stroke-width="2.6" stroke-linecap="round"/>
<line x1="928.2" y1="1072.8" x2="921.9" y2="1079.5" stroke="#d9534f" stroke-width="2.6" stroke-linecap="round"/>
<line x1="934.6" y1="1066" x2="943.7" y2="1068.5" stroke="#6f5145" stroke-width="2.6" stroke-linecap="round"/>
<line x1="943.7" y1="1068.5" x2="952.8" y2="1071" stroke="#d9534f" stroke-width="2.6" stroke-linecap="round"/>
<line x1="952.8" y1="1071" x2="961.4" y2="1065.8" stroke="#d9534f" stroke-width="2.6" stroke-linecap="round"/>
<line x1="961.4" y1="1065.8" x2="970" y2="1060.5" stroke="#6f5145" stroke-width="2.6" stroke-linecap="round"/>
<circle cx="916.8" cy="1042" r="2.9" fill="url(#gH)"/>
<circle cx="937" cy="1035.7" r="2.9" fill="url(#gH)"/>
<circle cx="919.5" cy="1048.5" r="2.9" fill="url(#gH)"/>
<circle cx="966" cy="1047" r="2.9" fill="url(#gH)"/>
<circle cx="980" cy="1064.8" r="2.9" fill="url(#gH)"/>
<circle cx="975" cy="1067" r="2.9" fill="url(#gH)"/>
<circle cx="927.5" cy="1047" r="6.3" fill="url(#gC)"/>
<circle cx="934.6" cy="1066" r="6.3" fill="url(#gC)"/>
<circle cx="921.9" cy="1079.5" r="5.8" fill="url(#gO)"/>
<circle cx="952.8" cy="1071" r="5.8" fill="url(#gO)"/>
<circle cx="970" cy="1060.5" r="6.3" fill="url(#gC)"/>
<line x1="944.7" y1="1107.8" x2="939" y2="1103.2" stroke="#d9534f" stroke-width="2.0" stroke-linecap="round"/>
<line x1="939" y1="1103.2" x2="933.3" y2="1098.5" stroke="#d0d0d0" stroke-width="2.0" stroke-linecap="round"/>
<circle cx="933.3" cy="1098.5" r="2.9" fill="url(#gH)"/>
<circle cx="944.7" cy="1107.8" r="5.8" fill="url(#gO)"/>
<circle cx="950.3" cy="1110.4" r="5.6" fill="url(#gN)"/>
<text x="961" y="999" font-size="19.6" text-anchor="start" fill="#111">SP</text>
<text x="894" y="1021.8" font-size="19.6" text-anchor="start" fill="#111">8MR</text>
<text x="846" y="1053.4" font-size="19.6" text-anchor="start" fill="#111">SP</text>
<text x="900.4" y="1066" font-size="14.4" text-anchor="start" fill="#111">MA</text>
<text x="906.7" y="1114.7" font-size="14" text-anchor="start" fill="#111">BAS</text>
<text x="903" y="1167.3" font-size="19.4" text-anchor="start" fill="#111">(iv)</text>
</svg></body></html>
